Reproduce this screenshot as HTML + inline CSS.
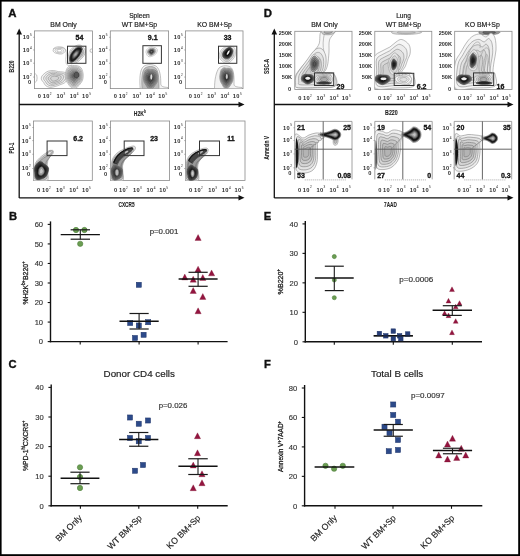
<!DOCTYPE html>
<html><head><meta charset="utf-8"><style>
html,body{margin:0;padding:0;background:#fff;}
body{width:520px;height:556px;overflow:hidden;}
svg{display:block;font-family:"Liberation Sans", sans-serif;will-change:transform;}
</style></head><body>
<svg width="520" height="556" viewBox="0 0 520 556">
<rect x="0" y="0" width="520" height="556" fill="#fff"/>
<text x="8.20" y="17.40" font-size="11.4" text-anchor="start" font-weight="bold" fill="#111" stroke="#111" stroke-width="0.35" >A</text>
<line x1="19.20" y1="32.50" x2="19.20" y2="198.00" stroke="#111" stroke-width="1.3" />
<polygon points="16.40,34.50 22.00,34.50 19.20,28.50" fill="#111"/>
<line x1="19.20" y1="104.50" x2="240.50" y2="104.50" stroke="#111" stroke-width="1.3" />
<polygon points="238.50,101.70 238.50,107.30 244.50,104.50" fill="#111"/>
<line x1="19.20" y1="197.80" x2="240.50" y2="197.80" stroke="#111" stroke-width="1.3" />
<polygon points="238.50,195.00 238.50,200.60 244.50,197.80" fill="#111"/>
<text x="63.50" y="26.70" font-size="6.9" text-anchor="middle" font-weight="normal" fill="#222" stroke="#222" stroke-width="0.18" >BM Only</text>
<text x="139.50" y="18.10" font-size="6.6" text-anchor="middle" font-weight="normal" fill="#222" stroke="#222" stroke-width="0.18" >Spleen</text>
<text x="139.50" y="26.70" font-size="6.9" text-anchor="middle" font-weight="normal" fill="#222" stroke="#222" stroke-width="0.18" >WT BM+Sp</text>
<text x="214.60" y="26.70" font-size="6.9" text-anchor="middle" font-weight="normal" fill="#222" stroke="#222" stroke-width="0.18" >KO BM+Sp</text>
<text x="14.20" y="72.40" font-size="7.9" text-anchor="start" textLength="12.0" lengthAdjust="spacingAndGlyphs" font-weight="bold" fill="#222" stroke="#222" stroke-width="0.1" transform="rotate(-90 14.20 72.40)">B220</text>
<text x="14.10" y="153.50" font-size="7.9" text-anchor="start" textLength="11.0" lengthAdjust="spacingAndGlyphs" font-weight="bold" fill="#222" stroke="#222" stroke-width="0.1" transform="rotate(-90 14.10 153.50)">PD-1</text>
<text x="133.80" y="115.80" font-size="7.7" font-weight="bold" textLength="12.0" lengthAdjust="spacingAndGlyphs" fill="#222" stroke="#222" stroke-width="0.1">H2K<tspan font-size="4.8" dy="-3">b</tspan></text>
<text x="118.60" y="206.60" font-size="7.7" font-weight="bold" textLength="15.9" lengthAdjust="spacingAndGlyphs" fill="#222" stroke="#222" stroke-width="0.1">CXCR5</text>
<rect x="34.40" y="30.90" width="58.00" height="57.70" stroke="#8a8a8a" stroke-width="0.8" fill="none"/>
<text x="29.70" y="39.15" font-size="5.7" text-anchor="end" letter-spacing="0.35" fill="#2e2e2e" font-weight="bold">10</text>
<text x="29.90" y="35.95" font-size="3.1" text-anchor="start" fill="#444" stroke="#444" stroke-width="0.05">5</text>
<line x1="33.20" y1="37.25" x2="34.40" y2="37.25" stroke="#777" stroke-width="0.6" />
<text x="29.70" y="51.84" font-size="5.7" text-anchor="end" letter-spacing="0.35" fill="#2e2e2e" font-weight="bold">10</text>
<text x="29.90" y="48.64" font-size="3.1" text-anchor="start" fill="#444" stroke="#444" stroke-width="0.05">4</text>
<line x1="33.20" y1="49.94" x2="34.40" y2="49.94" stroke="#777" stroke-width="0.6" />
<text x="29.70" y="65.11" font-size="5.7" text-anchor="end" letter-spacing="0.35" fill="#2e2e2e" font-weight="bold">10</text>
<text x="29.90" y="61.91" font-size="3.1" text-anchor="start" fill="#444" stroke="#444" stroke-width="0.05">3</text>
<line x1="33.20" y1="63.21" x2="34.40" y2="63.21" stroke="#777" stroke-width="0.6" />
<text x="29.70" y="78.96" font-size="5.7" text-anchor="end" letter-spacing="0.35" fill="#2e2e2e" font-weight="bold">10</text>
<text x="29.90" y="75.76" font-size="3.1" text-anchor="start" fill="#444" stroke="#444" stroke-width="0.05">2</text>
<line x1="33.20" y1="77.06" x2="34.40" y2="77.06" stroke="#777" stroke-width="0.6" />
<text x="31.10" y="84.15" font-size="5.7" text-anchor="end" fill="#2e2e2e" font-weight="bold">0</text>
<text x="39.39" y="98.40" font-size="5.7" text-anchor="middle" fill="#2e2e2e" font-weight="bold">0</text>
<text x="46.20" y="98.40" font-size="5.7" text-anchor="middle" letter-spacing="0.35" fill="#2e2e2e" font-weight="bold">10</text>
<text x="49.80" y="95.10" font-size="3.1" text-anchor="start" fill="#444" stroke="#444" stroke-width="0.05">2</text>
<text x="59.95" y="98.40" font-size="5.7" text-anchor="middle" letter-spacing="0.35" fill="#2e2e2e" font-weight="bold">10</text>
<text x="63.55" y="95.10" font-size="3.1" text-anchor="start" fill="#444" stroke="#444" stroke-width="0.05">3</text>
<text x="73.23" y="98.40" font-size="5.7" text-anchor="middle" letter-spacing="0.35" fill="#2e2e2e" font-weight="bold">10</text>
<text x="76.83" y="95.10" font-size="3.1" text-anchor="start" fill="#444" stroke="#444" stroke-width="0.05">4</text>
<text x="85.64" y="98.40" font-size="5.7" text-anchor="middle" letter-spacing="0.35" fill="#2e2e2e" font-weight="bold">10</text>
<text x="89.24" y="95.10" font-size="3.1" text-anchor="start" fill="#444" stroke="#444" stroke-width="0.05">5</text>
<rect x="110.30" y="30.90" width="58.30" height="57.70" stroke="#8a8a8a" stroke-width="0.8" fill="none"/>
<text x="105.60" y="39.15" font-size="5.7" text-anchor="end" letter-spacing="0.35" fill="#2e2e2e" font-weight="bold">10</text>
<text x="105.80" y="35.95" font-size="3.1" text-anchor="start" fill="#444" stroke="#444" stroke-width="0.05">5</text>
<line x1="109.10" y1="37.25" x2="110.30" y2="37.25" stroke="#777" stroke-width="0.6" />
<text x="105.60" y="51.84" font-size="5.7" text-anchor="end" letter-spacing="0.35" fill="#2e2e2e" font-weight="bold">10</text>
<text x="105.80" y="48.64" font-size="3.1" text-anchor="start" fill="#444" stroke="#444" stroke-width="0.05">4</text>
<line x1="109.10" y1="49.94" x2="110.30" y2="49.94" stroke="#777" stroke-width="0.6" />
<text x="105.60" y="65.11" font-size="5.7" text-anchor="end" letter-spacing="0.35" fill="#2e2e2e" font-weight="bold">10</text>
<text x="105.80" y="61.91" font-size="3.1" text-anchor="start" fill="#444" stroke="#444" stroke-width="0.05">3</text>
<line x1="109.10" y1="63.21" x2="110.30" y2="63.21" stroke="#777" stroke-width="0.6" />
<text x="105.60" y="78.96" font-size="5.7" text-anchor="end" letter-spacing="0.35" fill="#2e2e2e" font-weight="bold">10</text>
<text x="105.80" y="75.76" font-size="3.1" text-anchor="start" fill="#444" stroke="#444" stroke-width="0.05">2</text>
<line x1="109.10" y1="77.06" x2="110.30" y2="77.06" stroke="#777" stroke-width="0.6" />
<text x="107.00" y="84.15" font-size="5.7" text-anchor="end" fill="#2e2e2e" font-weight="bold">0</text>
<text x="115.31" y="98.40" font-size="5.7" text-anchor="middle" fill="#2e2e2e" font-weight="bold">0</text>
<text x="122.16" y="98.40" font-size="5.7" text-anchor="middle" letter-spacing="0.35" fill="#2e2e2e" font-weight="bold">10</text>
<text x="125.76" y="95.10" font-size="3.1" text-anchor="start" fill="#444" stroke="#444" stroke-width="0.05">2</text>
<text x="135.98" y="98.40" font-size="5.7" text-anchor="middle" letter-spacing="0.35" fill="#2e2e2e" font-weight="bold">10</text>
<text x="139.58" y="95.10" font-size="3.1" text-anchor="start" fill="#444" stroke="#444" stroke-width="0.05">3</text>
<text x="149.33" y="98.40" font-size="5.7" text-anchor="middle" letter-spacing="0.35" fill="#2e2e2e" font-weight="bold">10</text>
<text x="152.93" y="95.10" font-size="3.1" text-anchor="start" fill="#444" stroke="#444" stroke-width="0.05">4</text>
<text x="161.80" y="98.40" font-size="5.7" text-anchor="middle" letter-spacing="0.35" fill="#2e2e2e" font-weight="bold">10</text>
<text x="165.40" y="95.10" font-size="3.1" text-anchor="start" fill="#444" stroke="#444" stroke-width="0.05">5</text>
<rect x="185.40" y="30.90" width="57.60" height="57.70" stroke="#8a8a8a" stroke-width="0.8" fill="none"/>
<text x="180.70" y="39.15" font-size="5.7" text-anchor="end" letter-spacing="0.35" fill="#2e2e2e" font-weight="bold">10</text>
<text x="180.90" y="35.95" font-size="3.1" text-anchor="start" fill="#444" stroke="#444" stroke-width="0.05">5</text>
<line x1="184.20" y1="37.25" x2="185.40" y2="37.25" stroke="#777" stroke-width="0.6" />
<text x="180.70" y="51.84" font-size="5.7" text-anchor="end" letter-spacing="0.35" fill="#2e2e2e" font-weight="bold">10</text>
<text x="180.90" y="48.64" font-size="3.1" text-anchor="start" fill="#444" stroke="#444" stroke-width="0.05">4</text>
<line x1="184.20" y1="49.94" x2="185.40" y2="49.94" stroke="#777" stroke-width="0.6" />
<text x="180.70" y="65.11" font-size="5.7" text-anchor="end" letter-spacing="0.35" fill="#2e2e2e" font-weight="bold">10</text>
<text x="180.90" y="61.91" font-size="3.1" text-anchor="start" fill="#444" stroke="#444" stroke-width="0.05">3</text>
<line x1="184.20" y1="63.21" x2="185.40" y2="63.21" stroke="#777" stroke-width="0.6" />
<text x="180.70" y="78.96" font-size="5.7" text-anchor="end" letter-spacing="0.35" fill="#2e2e2e" font-weight="bold">10</text>
<text x="180.90" y="75.76" font-size="3.1" text-anchor="start" fill="#444" stroke="#444" stroke-width="0.05">2</text>
<line x1="184.20" y1="77.06" x2="185.40" y2="77.06" stroke="#777" stroke-width="0.6" />
<text x="182.10" y="84.15" font-size="5.7" text-anchor="end" fill="#2e2e2e" font-weight="bold">0</text>
<text x="190.35" y="98.40" font-size="5.7" text-anchor="middle" fill="#2e2e2e" font-weight="bold">0</text>
<text x="197.12" y="98.40" font-size="5.7" text-anchor="middle" letter-spacing="0.35" fill="#2e2e2e" font-weight="bold">10</text>
<text x="200.72" y="95.10" font-size="3.1" text-anchor="start" fill="#444" stroke="#444" stroke-width="0.05">2</text>
<text x="210.77" y="98.40" font-size="5.7" text-anchor="middle" letter-spacing="0.35" fill="#2e2e2e" font-weight="bold">10</text>
<text x="214.37" y="95.10" font-size="3.1" text-anchor="start" fill="#444" stroke="#444" stroke-width="0.05">3</text>
<text x="223.96" y="98.40" font-size="5.7" text-anchor="middle" letter-spacing="0.35" fill="#2e2e2e" font-weight="bold">10</text>
<text x="227.56" y="95.10" font-size="3.1" text-anchor="start" fill="#444" stroke="#444" stroke-width="0.05">4</text>
<text x="236.29" y="98.40" font-size="5.7" text-anchor="middle" letter-spacing="0.35" fill="#2e2e2e" font-weight="bold">10</text>
<text x="239.89" y="95.10" font-size="3.1" text-anchor="start" fill="#444" stroke="#444" stroke-width="0.05">5</text>
<rect x="33.50" y="121.00" width="58.80" height="59.40" stroke="#8a8a8a" stroke-width="0.8" fill="none"/>
<text x="28.80" y="129.43" font-size="5.7" text-anchor="end" letter-spacing="0.35" fill="#2e2e2e" font-weight="bold">10</text>
<text x="29.00" y="126.23" font-size="3.1" text-anchor="start" fill="#444" stroke="#444" stroke-width="0.05">5</text>
<line x1="32.30" y1="127.53" x2="33.50" y2="127.53" stroke="#777" stroke-width="0.6" />
<text x="28.80" y="142.50" font-size="5.7" text-anchor="end" letter-spacing="0.35" fill="#2e2e2e" font-weight="bold">10</text>
<text x="29.00" y="139.30" font-size="3.1" text-anchor="start" fill="#444" stroke="#444" stroke-width="0.05">4</text>
<line x1="32.30" y1="140.60" x2="33.50" y2="140.60" stroke="#777" stroke-width="0.6" />
<text x="28.80" y="156.16" font-size="5.7" text-anchor="end" letter-spacing="0.35" fill="#2e2e2e" font-weight="bold">10</text>
<text x="29.00" y="152.96" font-size="3.1" text-anchor="start" fill="#444" stroke="#444" stroke-width="0.05">3</text>
<line x1="32.30" y1="154.26" x2="33.50" y2="154.26" stroke="#777" stroke-width="0.6" />
<text x="28.80" y="170.42" font-size="5.7" text-anchor="end" letter-spacing="0.35" fill="#2e2e2e" font-weight="bold">10</text>
<text x="29.00" y="167.22" font-size="3.1" text-anchor="start" fill="#444" stroke="#444" stroke-width="0.05">2</text>
<line x1="32.30" y1="168.52" x2="33.50" y2="168.52" stroke="#777" stroke-width="0.6" />
<text x="30.20" y="175.77" font-size="5.7" text-anchor="end" fill="#2e2e2e" font-weight="bold">0</text>
<text x="38.56" y="192.00" font-size="5.7" text-anchor="middle" fill="#2e2e2e" font-weight="bold">0</text>
<text x="45.46" y="192.00" font-size="5.7" text-anchor="middle" letter-spacing="0.35" fill="#2e2e2e" font-weight="bold">10</text>
<text x="49.06" y="188.70" font-size="3.1" text-anchor="start" fill="#444" stroke="#444" stroke-width="0.05">2</text>
<text x="59.40" y="192.00" font-size="5.7" text-anchor="middle" letter-spacing="0.35" fill="#2e2e2e" font-weight="bold">10</text>
<text x="63.00" y="188.70" font-size="3.1" text-anchor="start" fill="#444" stroke="#444" stroke-width="0.05">3</text>
<text x="72.86" y="192.00" font-size="5.7" text-anchor="middle" letter-spacing="0.35" fill="#2e2e2e" font-weight="bold">10</text>
<text x="76.46" y="188.70" font-size="3.1" text-anchor="start" fill="#444" stroke="#444" stroke-width="0.05">4</text>
<text x="85.44" y="192.00" font-size="5.7" text-anchor="middle" letter-spacing="0.35" fill="#2e2e2e" font-weight="bold">10</text>
<text x="89.04" y="188.70" font-size="3.1" text-anchor="start" fill="#444" stroke="#444" stroke-width="0.05">5</text>
<rect x="110.40" y="121.00" width="59.20" height="59.40" stroke="#8a8a8a" stroke-width="0.8" fill="none"/>
<text x="105.70" y="129.43" font-size="5.7" text-anchor="end" letter-spacing="0.35" fill="#2e2e2e" font-weight="bold">10</text>
<text x="105.90" y="126.23" font-size="3.1" text-anchor="start" fill="#444" stroke="#444" stroke-width="0.05">5</text>
<line x1="109.20" y1="127.53" x2="110.40" y2="127.53" stroke="#777" stroke-width="0.6" />
<text x="105.70" y="142.50" font-size="5.7" text-anchor="end" letter-spacing="0.35" fill="#2e2e2e" font-weight="bold">10</text>
<text x="105.90" y="139.30" font-size="3.1" text-anchor="start" fill="#444" stroke="#444" stroke-width="0.05">4</text>
<line x1="109.20" y1="140.60" x2="110.40" y2="140.60" stroke="#777" stroke-width="0.6" />
<text x="105.70" y="156.16" font-size="5.7" text-anchor="end" letter-spacing="0.35" fill="#2e2e2e" font-weight="bold">10</text>
<text x="105.90" y="152.96" font-size="3.1" text-anchor="start" fill="#444" stroke="#444" stroke-width="0.05">3</text>
<line x1="109.20" y1="154.26" x2="110.40" y2="154.26" stroke="#777" stroke-width="0.6" />
<text x="105.70" y="170.42" font-size="5.7" text-anchor="end" letter-spacing="0.35" fill="#2e2e2e" font-weight="bold">10</text>
<text x="105.90" y="167.22" font-size="3.1" text-anchor="start" fill="#444" stroke="#444" stroke-width="0.05">2</text>
<line x1="109.20" y1="168.52" x2="110.40" y2="168.52" stroke="#777" stroke-width="0.6" />
<text x="107.10" y="175.77" font-size="5.7" text-anchor="end" fill="#2e2e2e" font-weight="bold">0</text>
<text x="115.49" y="192.00" font-size="5.7" text-anchor="middle" fill="#2e2e2e" font-weight="bold">0</text>
<text x="122.44" y="192.00" font-size="5.7" text-anchor="middle" letter-spacing="0.35" fill="#2e2e2e" font-weight="bold">10</text>
<text x="126.04" y="188.70" font-size="3.1" text-anchor="start" fill="#444" stroke="#444" stroke-width="0.05">2</text>
<text x="136.47" y="192.00" font-size="5.7" text-anchor="middle" letter-spacing="0.35" fill="#2e2e2e" font-weight="bold">10</text>
<text x="140.07" y="188.70" font-size="3.1" text-anchor="start" fill="#444" stroke="#444" stroke-width="0.05">3</text>
<text x="150.03" y="192.00" font-size="5.7" text-anchor="middle" letter-spacing="0.35" fill="#2e2e2e" font-weight="bold">10</text>
<text x="153.63" y="188.70" font-size="3.1" text-anchor="start" fill="#444" stroke="#444" stroke-width="0.05">4</text>
<text x="162.70" y="192.00" font-size="5.7" text-anchor="middle" letter-spacing="0.35" fill="#2e2e2e" font-weight="bold">10</text>
<text x="166.30" y="188.70" font-size="3.1" text-anchor="start" fill="#444" stroke="#444" stroke-width="0.05">5</text>
<rect x="185.40" y="121.00" width="59.60" height="59.40" stroke="#8a8a8a" stroke-width="0.8" fill="none"/>
<text x="180.70" y="129.43" font-size="5.7" text-anchor="end" letter-spacing="0.35" fill="#2e2e2e" font-weight="bold">10</text>
<text x="180.90" y="126.23" font-size="3.1" text-anchor="start" fill="#444" stroke="#444" stroke-width="0.05">5</text>
<line x1="184.20" y1="127.53" x2="185.40" y2="127.53" stroke="#777" stroke-width="0.6" />
<text x="180.70" y="142.50" font-size="5.7" text-anchor="end" letter-spacing="0.35" fill="#2e2e2e" font-weight="bold">10</text>
<text x="180.90" y="139.30" font-size="3.1" text-anchor="start" fill="#444" stroke="#444" stroke-width="0.05">4</text>
<line x1="184.20" y1="140.60" x2="185.40" y2="140.60" stroke="#777" stroke-width="0.6" />
<text x="180.70" y="156.16" font-size="5.7" text-anchor="end" letter-spacing="0.35" fill="#2e2e2e" font-weight="bold">10</text>
<text x="180.90" y="152.96" font-size="3.1" text-anchor="start" fill="#444" stroke="#444" stroke-width="0.05">3</text>
<line x1="184.20" y1="154.26" x2="185.40" y2="154.26" stroke="#777" stroke-width="0.6" />
<text x="180.70" y="170.42" font-size="5.7" text-anchor="end" letter-spacing="0.35" fill="#2e2e2e" font-weight="bold">10</text>
<text x="180.90" y="167.22" font-size="3.1" text-anchor="start" fill="#444" stroke="#444" stroke-width="0.05">2</text>
<line x1="184.20" y1="168.52" x2="185.40" y2="168.52" stroke="#777" stroke-width="0.6" />
<text x="182.10" y="175.77" font-size="5.7" text-anchor="end" fill="#2e2e2e" font-weight="bold">0</text>
<text x="190.53" y="192.00" font-size="5.7" text-anchor="middle" fill="#2e2e2e" font-weight="bold">0</text>
<text x="197.52" y="192.00" font-size="5.7" text-anchor="middle" letter-spacing="0.35" fill="#2e2e2e" font-weight="bold">10</text>
<text x="201.12" y="188.70" font-size="3.1" text-anchor="start" fill="#444" stroke="#444" stroke-width="0.05">2</text>
<text x="211.65" y="192.00" font-size="5.7" text-anchor="middle" letter-spacing="0.35" fill="#2e2e2e" font-weight="bold">10</text>
<text x="215.25" y="188.70" font-size="3.1" text-anchor="start" fill="#444" stroke="#444" stroke-width="0.05">3</text>
<text x="225.29" y="192.00" font-size="5.7" text-anchor="middle" letter-spacing="0.35" fill="#2e2e2e" font-weight="bold">10</text>
<text x="228.89" y="188.70" font-size="3.1" text-anchor="start" fill="#444" stroke="#444" stroke-width="0.05">4</text>
<text x="238.05" y="192.00" font-size="5.7" text-anchor="middle" letter-spacing="0.35" fill="#2e2e2e" font-weight="bold">10</text>
<text x="241.65" y="188.70" font-size="3.1" text-anchor="start" fill="#444" stroke="#444" stroke-width="0.05">5</text>
<clipPath id="c1"><rect x="34.40" y="30.90" width="58.00" height="57.70"/></clipPath><g clip-path="url(#c1)">
<path d="M68.41,77.04 C68.28,78.12 67.68,79.22 66.99,80.21 C66.31,81.20 65.48,82.24 64.31,83.00 C63.14,83.77 61.46,84.21 59.96,84.79 C58.47,85.37 57.07,86.04 55.34,86.47 C53.61,86.90 51.25,87.58 49.59,87.38 C47.93,87.18 46.37,86.11 45.38,85.29 C44.39,84.46 44.28,83.31 43.64,82.41 C43.01,81.50 41.91,80.81 41.56,79.86 C41.21,78.91 41.12,77.75 41.55,76.73 C41.98,75.71 43.04,74.67 44.14,73.75 C45.24,72.82 46.55,71.70 48.14,71.17 C49.73,70.64 51.97,70.49 53.67,70.56 C55.36,70.63 56.73,71.35 58.32,71.60 C59.90,71.85 61.60,71.69 63.19,72.04 C64.77,72.39 66.94,72.88 67.81,73.71 C68.68,74.54 68.55,75.95 68.41,77.04 Z" stroke="#999" stroke-width="0.6" fill="#f4f4f4"/>
<path d="M65.91,77.30 C65.80,78.19 65.31,79.09 64.75,79.90 C64.19,80.72 63.51,81.57 62.55,82.19 C61.58,82.82 60.20,83.19 58.98,83.66 C57.75,84.13 56.60,84.68 55.19,85.04 C53.77,85.39 51.83,85.94 50.47,85.78 C49.11,85.62 47.83,84.74 47.02,84.06 C46.21,83.38 46.12,82.45 45.60,81.70 C45.07,80.96 44.18,80.39 43.89,79.61 C43.61,78.84 43.53,77.88 43.88,77.05 C44.23,76.21 45.11,75.36 46.01,74.60 C46.91,73.84 47.98,72.93 49.28,72.49 C50.59,72.06 52.42,71.93 53.82,71.99 C55.21,72.05 56.33,72.64 57.63,72.84 C58.93,73.04 60.32,72.91 61.62,73.20 C62.92,73.49 64.70,73.89 65.41,74.57 C66.13,75.26 66.02,76.41 65.91,77.30 Z" stroke="#8c8c8c" stroke-width="0.6" fill="#ececec"/>
<path d="M63.54,77.55 C63.46,78.25 63.07,78.97 62.62,79.61 C62.18,80.26 61.64,80.93 60.88,81.43 C60.12,81.92 59.02,82.21 58.05,82.59 C57.08,82.97 56.17,83.40 55.04,83.68 C53.92,83.96 52.39,84.40 51.31,84.27 C50.23,84.14 49.22,83.45 48.57,82.91 C47.93,82.37 47.86,81.63 47.44,81.04 C47.03,80.45 46.32,80.00 46.09,79.38 C45.86,78.77 45.80,78.01 46.08,77.35 C46.36,76.69 47.05,76.01 47.77,75.41 C48.48,74.81 49.33,74.08 50.37,73.74 C51.40,73.39 52.85,73.29 53.96,73.34 C55.06,73.38 55.95,73.85 56.98,74.01 C58.01,74.18 59.12,74.07 60.15,74.30 C61.17,74.53 62.59,74.85 63.15,75.39 C63.72,75.93 63.63,76.85 63.54,77.55 Z" stroke="#888" stroke-width="0.6" fill="#e2e2e2"/>
<path d="M61.18,77.80 C61.11,78.32 60.83,78.84 60.50,79.32 C60.17,79.80 59.77,80.29 59.21,80.66 C58.65,81.03 57.84,81.24 57.12,81.52 C56.40,81.80 55.73,82.12 54.90,82.33 C54.07,82.53 52.94,82.86 52.14,82.76 C51.35,82.67 50.60,82.15 50.12,81.76 C49.65,81.36 49.59,80.81 49.29,80.38 C48.98,79.94 48.46,79.61 48.29,79.15 C48.12,78.70 48.08,78.14 48.28,77.65 C48.49,77.16 49.00,76.66 49.53,76.22 C50.06,75.77 50.69,75.24 51.45,74.98 C52.21,74.73 53.29,74.65 54.10,74.69 C54.91,74.72 55.57,75.07 56.33,75.19 C57.09,75.31 57.91,75.23 58.67,75.40 C59.43,75.57 60.47,75.80 60.89,76.20 C61.31,76.60 61.24,77.28 61.18,77.80 Z" stroke="#888" stroke-width="0.6" fill="#d8d8d8"/>
<path d="M58.67,78.06 C58.63,78.39 58.45,78.71 58.25,79.01 C58.04,79.31 57.80,79.62 57.44,79.85 C57.09,80.08 56.59,80.21 56.14,80.39 C55.69,80.56 55.27,80.76 54.75,80.89 C54.23,81.02 53.52,81.22 53.03,81.16 C52.53,81.10 52.06,80.78 51.76,80.54 C51.47,80.29 51.43,79.94 51.24,79.67 C51.05,79.40 50.72,79.19 50.62,78.91 C50.51,78.62 50.49,78.27 50.61,77.97 C50.74,77.66 51.06,77.35 51.39,77.07 C51.72,76.80 52.12,76.46 52.59,76.30 C53.07,76.14 53.74,76.10 54.25,76.12 C54.76,76.14 55.17,76.36 55.65,76.43 C56.12,76.50 56.63,76.46 57.11,76.56 C57.58,76.67 58.23,76.81 58.49,77.06 C58.75,77.31 58.72,77.74 58.67,78.06 Z" stroke="#8c8c8c" stroke-width="0.6" fill="#d4d4d4"/>
<path d="M53,49 C56,45.5 64,46 66,50 C67,54 65,58 66,63 C67,66 70,66 72,65" stroke="#aaa" stroke-width="0.6" fill="none"/>
<path d="M83.19,76.20 C83.14,77.68 82.90,79.26 82.41,80.54 C81.91,81.82 81.01,82.85 80.22,83.89 C79.42,84.92 78.63,85.97 77.62,86.76 C76.62,87.54 75.36,88.55 74.20,88.60 C73.04,88.65 71.68,87.85 70.68,87.06 C69.68,86.27 68.96,84.97 68.19,83.87 C67.43,82.78 66.59,81.77 66.09,80.49 C65.59,79.21 65.24,77.66 65.19,76.20 C65.14,74.74 65.39,73.17 65.78,71.74 C66.16,70.31 66.66,68.66 67.49,67.63 C68.32,66.59 69.62,65.85 70.73,65.51 C71.85,65.17 73.06,65.55 74.20,65.60 C75.34,65.65 76.45,65.48 77.57,65.81 C78.69,66.15 80.06,66.63 80.92,67.61 C81.78,68.59 82.35,70.26 82.72,71.69 C83.10,73.12 83.24,74.72 83.19,76.20 Z" stroke="#999999" stroke-width="0.6" fill="#f2f2f2"/>
<path d="M82.20,76.20 C82.15,77.51 81.94,78.92 81.50,80.07 C81.06,81.21 80.27,82.12 79.56,83.04 C78.85,83.97 78.14,84.90 77.25,85.60 C76.35,86.29 75.23,87.19 74.20,87.24 C73.17,87.28 71.96,86.57 71.07,85.87 C70.18,85.16 69.54,84.00 68.85,83.03 C68.17,82.06 67.43,81.16 66.98,80.02 C66.54,78.88 66.23,77.50 66.18,76.20 C66.13,74.90 66.36,73.50 66.70,72.23 C67.04,70.96 67.49,69.49 68.23,68.57 C68.96,67.64 70.12,66.98 71.12,66.68 C72.11,66.38 73.19,66.72 74.20,66.77 C75.21,66.81 76.20,66.66 77.20,66.95 C78.19,67.25 79.42,67.68 80.18,68.56 C80.95,69.43 81.45,70.91 81.79,72.19 C82.12,73.46 82.25,74.89 82.20,76.20 Z" stroke="#8e8e8e" stroke-width="0.6" fill="#e1e1e1"/>
<path d="M81.21,76.20 C81.17,77.35 80.99,78.59 80.60,79.59 C80.21,80.59 79.52,81.39 78.89,82.20 C78.27,83.01 77.65,83.82 76.87,84.43 C76.09,85.05 75.10,85.83 74.20,85.87 C73.30,85.91 72.23,85.29 71.45,84.67 C70.67,84.06 70.11,83.04 69.52,82.19 C68.92,81.33 68.27,80.54 67.88,79.55 C67.49,78.55 67.21,77.34 67.17,76.20 C67.13,75.06 67.33,73.84 67.63,72.72 C67.93,71.61 68.32,70.32 68.97,69.51 C69.61,68.70 70.62,68.12 71.50,67.86 C72.37,67.60 73.31,67.89 74.20,67.93 C75.09,67.97 75.95,67.84 76.83,68.10 C77.70,68.36 78.77,68.74 79.44,69.50 C80.11,70.26 80.55,71.56 80.85,72.68 C81.14,73.80 81.25,75.05 81.21,76.20 Z" stroke="#838383" stroke-width="0.6" fill="#d1d1d1"/>
<path d="M80.22,76.20 C80.19,77.19 80.03,78.25 79.70,79.11 C79.37,79.97 78.77,80.66 78.23,81.35 C77.70,82.05 77.16,82.75 76.49,83.27 C75.82,83.80 74.98,84.47 74.20,84.51 C73.42,84.54 72.51,84.00 71.84,83.48 C71.17,82.95 70.69,82.08 70.18,81.34 C69.66,80.61 69.10,79.93 68.77,79.07 C68.43,78.22 68.20,77.18 68.16,76.20 C68.13,75.22 68.30,74.17 68.56,73.21 C68.81,72.26 69.15,71.15 69.70,70.46 C70.26,69.76 71.13,69.26 71.88,69.04 C72.63,68.81 73.44,69.06 74.20,69.10 C74.96,69.13 75.71,69.01 76.46,69.24 C77.21,69.46 78.13,69.79 78.70,70.44 C79.28,71.10 79.66,72.22 79.91,73.18 C80.16,74.14 80.26,75.21 80.22,76.20 Z" stroke="#797979" stroke-width="0.6" fill="#c1c1c1"/>
<path d="M79.23,76.20 C79.20,77.03 79.07,77.91 78.79,78.63 C78.52,79.35 78.02,79.93 77.57,80.51 C77.12,81.09 76.68,81.67 76.12,82.11 C75.55,82.55 74.85,83.12 74.20,83.14 C73.55,83.17 72.79,82.72 72.23,82.28 C71.67,81.84 71.26,81.11 70.84,80.50 C70.41,79.88 69.94,79.32 69.66,78.60 C69.38,77.89 69.18,77.02 69.15,76.20 C69.12,75.38 69.27,74.50 69.48,73.70 C69.70,72.90 69.98,71.98 70.44,71.40 C70.91,70.82 71.63,70.40 72.26,70.21 C72.89,70.02 73.56,70.24 74.20,70.26 C74.84,70.29 75.46,70.19 76.09,70.38 C76.71,70.57 77.48,70.84 77.96,71.39 C78.45,71.94 78.76,72.87 78.97,73.67 C79.18,74.48 79.26,75.37 79.23,76.20 Z" stroke="#6e6e6e" stroke-width="0.6" fill="#b1b1b1"/>
<path d="M78.24,76.20 C78.22,76.86 78.12,77.58 77.89,78.15 C77.67,78.73 77.27,79.19 76.91,79.66 C76.55,80.13 76.19,80.60 75.74,80.95 C75.29,81.30 74.72,81.76 74.20,81.78 C73.68,81.80 73.07,81.44 72.62,81.09 C72.17,80.73 71.84,80.15 71.50,79.65 C71.15,79.16 70.78,78.71 70.55,78.13 C70.33,77.56 70.17,76.86 70.14,76.20 C70.12,75.54 70.24,74.84 70.41,74.19 C70.58,73.55 70.81,72.81 71.18,72.34 C71.55,71.87 72.14,71.54 72.64,71.39 C73.14,71.24 73.69,71.41 74.20,71.43 C74.71,71.45 75.21,71.37 75.72,71.52 C76.22,71.68 76.84,71.89 77.23,72.33 C77.61,72.78 77.87,73.53 78.04,74.17 C78.21,74.81 78.27,75.54 78.24,76.20 Z" stroke="#636363" stroke-width="0.6" fill="#a0a0a0"/>
<path d="M77.26,76.20 C77.24,76.70 77.16,77.24 76.99,77.68 C76.82,78.11 76.52,78.46 76.25,78.81 C75.97,79.17 75.70,79.52 75.36,79.79 C75.02,80.06 74.59,80.40 74.20,80.42 C73.81,80.43 73.34,80.16 73.00,79.89 C72.66,79.62 72.42,79.18 72.16,78.81 C71.90,78.44 71.61,78.09 71.44,77.66 C71.27,77.22 71.15,76.70 71.14,76.20 C71.12,75.70 71.21,75.17 71.34,74.68 C71.47,74.20 71.64,73.64 71.92,73.28 C72.20,72.93 72.64,72.68 73.02,72.56 C73.40,72.45 73.81,72.58 74.20,72.60 C74.59,72.61 74.96,72.55 75.35,72.67 C75.73,72.78 76.19,72.95 76.49,73.28 C76.78,73.61 76.97,74.18 77.10,74.67 C77.23,75.15 77.27,75.70 77.26,76.20 Z" stroke="#595959" stroke-width="0.6" fill="#909090"/>
<path d="M76.27,76.20 C76.26,76.54 76.20,76.90 76.09,77.20 C75.97,77.49 75.77,77.73 75.58,77.97 C75.40,78.21 75.22,78.45 74.99,78.63 C74.76,78.81 74.47,79.04 74.20,79.05 C73.93,79.06 73.62,78.88 73.39,78.70 C73.16,78.52 72.99,78.22 72.82,77.96 C72.64,77.71 72.45,77.48 72.34,77.19 C72.22,76.89 72.14,76.54 72.13,76.20 C72.12,75.86 72.17,75.50 72.26,75.17 C72.35,74.85 72.47,74.47 72.66,74.23 C72.85,73.99 73.15,73.82 73.40,73.74 C73.66,73.66 73.94,73.75 74.20,73.76 C74.46,73.77 74.72,73.73 74.97,73.81 C75.23,73.89 75.55,74.00 75.75,74.22 C75.94,74.45 76.07,74.83 76.16,75.16 C76.25,75.49 76.28,75.86 76.27,76.20 Z" stroke="#4e4e4e" stroke-width="0.6" fill="#808080"/>
<path d="M75.28,76.20 C75.27,76.38 75.24,76.57 75.18,76.72 C75.13,76.87 75.02,77.00 74.92,77.12 C74.83,77.25 74.73,77.37 74.61,77.47 C74.49,77.56 74.34,77.68 74.20,77.69 C74.06,77.69 73.90,77.60 73.78,77.50 C73.66,77.41 73.57,77.25 73.48,77.12 C73.39,76.99 73.29,76.87 73.23,76.71 C73.17,76.56 73.12,76.37 73.12,76.20 C73.11,76.03 73.14,75.84 73.19,75.66 C73.24,75.49 73.30,75.30 73.39,75.17 C73.49,75.05 73.65,74.96 73.78,74.92 C73.92,74.88 74.06,74.92 74.20,74.93 C74.34,74.93 74.47,74.91 74.60,74.95 C74.74,74.99 74.90,75.05 75.01,75.17 C75.11,75.29 75.18,75.49 75.22,75.66 C75.27,75.83 75.28,76.02 75.28,76.20 Z" stroke="#444444" stroke-width="0.6" fill="#707070"/>
<path d="M79.00,75.00 C79.00,75.38 78.93,75.79 78.81,76.15 C78.69,76.50 78.49,76.85 78.27,77.12 C78.04,77.39 77.75,77.63 77.46,77.77 C77.16,77.92 76.82,78.00 76.50,78.00 C76.18,78.00 75.84,77.92 75.54,77.77 C75.25,77.63 74.96,77.39 74.73,77.12 C74.51,76.85 74.31,76.50 74.19,76.15 C74.07,75.79 74.00,75.38 74.00,75.00 C74.00,74.62 74.07,74.21 74.19,73.85 C74.31,73.50 74.51,73.15 74.73,72.88 C74.96,72.61 75.25,72.37 75.54,72.23 C75.84,72.08 76.18,72.00 76.50,72.00 C76.82,72.00 77.16,72.08 77.46,72.23 C77.75,72.37 78.04,72.61 78.27,72.88 C78.49,73.15 78.69,73.50 78.81,73.85 C78.93,74.21 79.00,74.62 79.00,75.00 Z" stroke="#333" stroke-width="0.6" fill="#555"/>
<path d="M65.55,50.70 C65.48,51.10 65.09,51.48 64.78,51.85 C64.48,52.22 64.19,52.59 63.72,52.93 C63.25,53.27 62.67,53.71 61.95,53.88 C61.23,54.06 60.20,54.05 59.40,53.99 C58.60,53.93 57.85,53.69 57.14,53.51 C56.43,53.33 55.70,53.17 55.13,52.90 C54.56,52.64 54.05,52.28 53.72,51.91 C53.39,51.55 53.21,51.12 53.15,50.70 C53.08,50.28 53.03,49.78 53.33,49.40 C53.63,49.02 54.31,48.64 54.95,48.41 C55.60,48.17 56.47,48.11 57.21,47.97 C57.95,47.83 58.62,47.65 59.40,47.59 C60.18,47.53 61.14,47.47 61.89,47.60 C62.64,47.73 63.35,48.07 63.90,48.38 C64.45,48.69 64.90,49.08 65.18,49.47 C65.45,49.85 65.61,50.30 65.55,50.70 Z" stroke="#999" stroke-width="0.6" fill="none"/>
<path d="M63.70,50.70 C63.66,50.98 63.38,51.25 63.17,51.51 C62.96,51.77 62.76,52.02 62.43,52.26 C62.09,52.50 61.69,52.80 61.19,52.93 C60.68,53.05 59.96,53.05 59.40,53.00 C58.84,52.96 58.32,52.80 57.82,52.67 C57.32,52.54 56.81,52.43 56.41,52.24 C56.01,52.06 55.65,51.81 55.42,51.55 C55.19,51.29 55.07,50.99 55.02,50.70 C54.98,50.41 54.94,50.06 55.15,49.79 C55.36,49.52 55.83,49.26 56.29,49.09 C56.74,48.93 57.35,48.88 57.87,48.79 C58.39,48.69 58.85,48.57 59.40,48.52 C59.95,48.48 60.62,48.44 61.14,48.53 C61.67,48.62 62.16,48.86 62.55,49.08 C62.93,49.29 63.25,49.56 63.44,49.84 C63.64,50.11 63.75,50.42 63.70,50.70 Z" stroke="#999" stroke-width="0.6" fill="none"/>
<path d="M61.86,50.70 C61.83,50.86 61.68,51.01 61.55,51.16 C61.43,51.31 61.32,51.46 61.13,51.59 C60.94,51.73 60.71,51.90 60.42,51.97 C60.13,52.04 59.72,52.04 59.40,52.02 C59.08,51.99 58.78,51.90 58.50,51.83 C58.21,51.75 57.92,51.69 57.69,51.58 C57.46,51.48 57.26,51.33 57.13,51.19 C57.00,51.04 56.93,50.87 56.90,50.70 C56.87,50.53 56.85,50.33 56.97,50.18 C57.09,50.03 57.36,49.88 57.62,49.78 C57.88,49.69 58.23,49.66 58.52,49.61 C58.82,49.55 59.09,49.48 59.40,49.46 C59.71,49.43 60.09,49.41 60.39,49.46 C60.69,49.51 60.98,49.65 61.20,49.77 C61.42,49.90 61.60,50.05 61.71,50.21 C61.82,50.36 61.89,50.54 61.86,50.70 Z" stroke="#999" stroke-width="0.6" fill="none"/>
<path d="M82.62,46.77 C83.27,47.37 83.92,47.91 84.40,48.72 C84.88,49.52 85.54,50.49 85.49,51.61 C85.44,52.73 84.76,54.25 84.09,55.41 C83.42,56.58 82.36,57.63 81.45,58.62 C80.54,59.61 79.63,60.62 78.61,61.35 C77.59,62.09 76.42,62.66 75.34,63.01 C74.25,63.37 73.14,63.50 72.11,63.47 C71.07,63.45 69.83,63.42 69.12,62.86 C68.40,62.30 67.95,61.18 67.83,60.14 C67.70,59.10 68.17,57.77 68.36,56.62 C68.56,55.48 68.62,54.42 69.01,53.26 C69.41,52.09 69.92,50.69 70.73,49.62 C71.54,48.56 72.77,47.61 73.87,46.88 C74.96,46.16 76.20,45.56 77.30,45.27 C78.40,44.99 79.59,44.91 80.48,45.16 C81.36,45.41 81.96,46.18 82.62,46.77 Z" stroke="#999" stroke-width="0.6" fill="#ececec"/>
<path d="M81.48,48.13 C82.02,48.61 82.55,49.06 82.94,49.72 C83.34,50.38 83.88,51.18 83.84,52.09 C83.79,53.01 83.24,54.26 82.69,55.21 C82.13,56.17 81.27,57.03 80.52,57.84 C79.78,58.66 79.03,59.48 78.20,60.08 C77.36,60.68 76.40,61.16 75.51,61.44 C74.62,61.73 73.71,61.84 72.86,61.82 C72.01,61.80 70.99,61.78 70.41,61.32 C69.82,60.86 69.46,59.94 69.35,59.09 C69.25,58.23 69.63,57.14 69.79,56.20 C69.95,55.26 70.00,54.40 70.33,53.44 C70.65,52.49 71.07,51.34 71.73,50.47 C72.39,49.59 73.41,48.81 74.31,48.22 C75.20,47.62 76.22,47.13 77.12,46.90 C78.02,46.66 79.00,46.60 79.72,46.81 C80.45,47.01 80.94,47.64 81.48,48.13 Z" stroke="#888" stroke-width="0.6" fill="#d8d8d8"/>
<path d="M80.47,49.33 C80.90,49.72 81.33,50.08 81.65,50.62 C81.96,51.15 82.40,51.79 82.37,52.52 C82.33,53.26 81.89,54.26 81.44,55.04 C81.00,55.81 80.30,56.50 79.70,57.15 C79.10,57.81 78.50,58.47 77.83,58.96 C77.15,59.44 76.38,59.82 75.66,60.05 C74.95,60.28 74.22,60.37 73.53,60.35 C72.85,60.34 72.03,60.32 71.56,59.95 C71.09,59.58 70.79,58.84 70.71,58.15 C70.63,57.47 70.93,56.59 71.06,55.83 C71.19,55.08 71.23,54.38 71.49,53.61 C71.75,52.84 72.09,51.91 72.62,51.21 C73.16,50.51 73.97,49.88 74.70,49.41 C75.42,48.93 76.23,48.53 76.96,48.34 C77.69,48.15 78.47,48.11 79.06,48.27 C79.64,48.44 80.04,48.94 80.47,49.33 Z" stroke="#777" stroke-width="0.6" fill="#c4c4c4"/>
<path d="M81.00,47.13 C81.49,47.31 82.10,47.50 82.25,48.09 C82.40,48.68 82.20,49.73 81.90,50.66 C81.60,51.59 81.02,52.68 80.48,53.67 C79.94,54.66 79.35,55.69 78.66,56.60 C77.97,57.52 77.14,58.42 76.34,59.18 C75.55,59.93 74.71,60.59 73.89,61.13 C73.08,61.66 72.13,62.28 71.47,62.40 C70.81,62.51 70.23,62.25 69.93,61.82 C69.63,61.40 69.68,60.55 69.64,59.87 C69.59,59.18 69.52,58.55 69.67,57.73 C69.81,56.91 70.02,55.93 70.48,54.96 C70.94,53.99 71.71,52.87 72.43,51.91 C73.15,50.95 74.01,49.96 74.83,49.22 C75.64,48.47 76.57,47.78 77.32,47.42 C78.07,47.05 78.70,47.07 79.31,47.03 C79.93,46.98 80.51,46.95 81.00,47.13 Z" stroke="#333" stroke-width="0.6" fill="#666"/>
<path d="M80.19,48.20 C80.61,48.36 81.13,48.52 81.26,49.02 C81.38,49.52 81.21,50.41 80.96,51.20 C80.70,52.00 80.20,52.92 79.74,53.77 C79.29,54.61 78.78,55.48 78.20,56.26 C77.61,57.04 76.91,57.80 76.23,58.44 C75.56,59.09 74.84,59.65 74.15,60.10 C73.46,60.56 72.65,61.08 72.09,61.18 C71.53,61.28 71.04,61.05 70.78,60.70 C70.52,60.34 70.57,59.61 70.53,59.03 C70.50,58.45 70.44,57.91 70.56,57.22 C70.68,56.52 70.86,55.68 71.25,54.86 C71.64,54.04 72.29,53.08 72.90,52.27 C73.52,51.46 74.25,50.62 74.94,49.98 C75.63,49.34 76.43,48.76 77.06,48.45 C77.70,48.14 78.23,48.16 78.76,48.12 C79.28,48.08 79.78,48.05 80.19,48.20 Z" stroke="#111" stroke-width="0.6" fill="#1a1a1a"/>
<path d="M79.27,49.42 C79.61,49.54 80.02,49.68 80.12,50.08 C80.23,50.48 80.09,51.19 79.88,51.82 C79.68,52.46 79.28,53.20 78.92,53.87 C78.55,54.55 78.15,55.24 77.68,55.87 C77.21,56.49 76.65,57.10 76.11,57.62 C75.57,58.13 74.99,58.58 74.44,58.94 C73.89,59.31 73.24,59.73 72.79,59.81 C72.34,59.89 71.95,59.70 71.74,59.42 C71.54,59.13 71.58,58.55 71.55,58.09 C71.52,57.62 71.47,57.19 71.56,56.63 C71.66,56.08 71.81,55.41 72.12,54.75 C72.43,54.09 72.95,53.33 73.44,52.68 C73.94,52.02 74.52,51.35 75.07,50.84 C75.63,50.33 76.26,49.87 76.77,49.62 C77.28,49.37 77.71,49.39 78.13,49.35 C78.54,49.32 78.94,49.30 79.27,49.42 Z" stroke="#1a1a1a" stroke-width="0.6" fill="#333"/>
<path d="M78.30,50.71 C78.55,50.80 78.85,50.90 78.93,51.19 C79.00,51.49 78.90,52.01 78.75,52.48 C78.60,52.94 78.31,53.49 78.04,53.99 C77.77,54.48 77.47,54.99 77.13,55.45 C76.78,55.91 76.37,56.36 75.97,56.74 C75.57,57.11 75.15,57.44 74.75,57.71 C74.34,57.98 73.86,58.29 73.53,58.35 C73.20,58.41 72.92,58.27 72.77,58.06 C72.61,57.85 72.64,57.42 72.62,57.08 C72.60,56.74 72.56,56.42 72.63,56.02 C72.70,55.61 72.81,55.11 73.04,54.63 C73.27,54.14 73.65,53.58 74.01,53.11 C74.38,52.63 74.81,52.13 75.21,51.76 C75.62,51.38 76.09,51.04 76.46,50.86 C76.83,50.68 77.15,50.69 77.46,50.66 C77.76,50.64 78.06,50.63 78.30,50.71 Z" stroke="#444" stroke-width="0.6" fill="#666"/>
<path d="M77.33,52.01 C77.49,52.06 77.68,52.12 77.73,52.31 C77.78,52.50 77.71,52.84 77.62,53.13 C77.52,53.43 77.33,53.78 77.16,54.10 C76.99,54.42 76.80,54.74 76.58,55.04 C76.36,55.33 76.09,55.62 75.84,55.86 C75.58,56.10 75.31,56.31 75.05,56.48 C74.79,56.66 74.49,56.85 74.28,56.89 C74.07,56.93 73.88,56.84 73.79,56.71 C73.69,56.57 73.71,56.30 73.69,56.08 C73.68,55.86 73.66,55.66 73.70,55.40 C73.75,55.14 73.82,54.82 73.96,54.51 C74.11,54.20 74.35,53.84 74.59,53.54 C74.82,53.23 75.09,52.91 75.35,52.67 C75.61,52.43 75.91,52.21 76.15,52.10 C76.39,51.98 76.59,51.99 76.79,51.97 C76.98,51.96 77.17,51.95 77.33,52.01 Z" stroke="#777" stroke-width="0.6" fill="#999"/>
<path d="M76.46,53.15 C76.54,53.18 76.64,53.21 76.66,53.31 C76.69,53.40 76.66,53.57 76.61,53.72 C76.56,53.87 76.47,54.04 76.38,54.20 C76.29,54.36 76.20,54.52 76.09,54.67 C75.98,54.82 75.85,54.96 75.72,55.08 C75.59,55.20 75.46,55.31 75.33,55.39 C75.20,55.48 75.04,55.58 74.94,55.60 C74.83,55.61 74.74,55.57 74.69,55.50 C74.64,55.44 74.65,55.30 74.65,55.19 C74.64,55.08 74.63,54.98 74.65,54.85 C74.67,54.72 74.71,54.56 74.78,54.41 C74.86,54.25 74.98,54.07 75.09,53.92 C75.21,53.76 75.35,53.61 75.48,53.49 C75.61,53.37 75.76,53.26 75.88,53.20 C75.99,53.14 76.10,53.14 76.19,53.14 C76.29,53.13 76.39,53.12 76.46,53.15 Z" stroke="#999" stroke-width="0.6" fill="#bbb"/>
<ellipse cx="35.50" cy="78.00" rx="1.60" ry="4.00" transform="rotate(0 35.50 78.00)" stroke="#999" stroke-width="0.6" fill="none" fill-opacity="1"/>
<ellipse cx="91.30" cy="50.70" rx="1.20" ry="1.80" transform="rotate(0 91.30 50.70)" stroke="#999" stroke-width="0.6" fill="none" fill-opacity="1"/>
</g>
<rect x="67.50" y="46.20" width="18.40" height="17.10" stroke="#333" stroke-width="1.0" fill="none"/>
<text x="83.30" y="39.80" font-size="7" text-anchor="end" font-weight="bold" fill="#111" stroke="#111" stroke-width="0.3" >54</text>
<clipPath id="c2"><rect x="110.30" y="30.90" width="58.30" height="57.70"/></clipPath><g clip-path="url(#c2)">
<path d="M157.12,49.08 C157.39,49.60 157.31,50.38 157.21,51.02 C157.10,51.65 156.81,52.30 156.48,52.89 C156.16,53.48 155.75,54.09 155.23,54.56 C154.71,55.03 154.03,55.38 153.37,55.70 C152.71,56.03 152.01,56.36 151.28,56.53 C150.55,56.70 149.63,56.90 148.98,56.74 C148.32,56.59 147.75,56.05 147.36,55.59 C146.96,55.13 146.83,54.52 146.61,53.98 C146.38,53.44 146.06,52.94 146.01,52.36 C145.96,51.77 146.03,51.06 146.30,50.46 C146.57,49.86 147.09,49.25 147.62,48.73 C148.15,48.21 148.80,47.66 149.48,47.37 C150.16,47.07 151.02,46.95 151.71,46.95 C152.41,46.95 153.02,47.23 153.66,47.38 C154.31,47.53 155.00,47.59 155.58,47.87 C156.16,48.15 156.85,48.55 157.12,49.08 Z" stroke="#aaa" stroke-width="0.6" fill="none"/>
<path d="M155.72,49.73 C155.92,50.13 155.86,50.71 155.78,51.19 C155.70,51.66 155.48,52.15 155.24,52.59 C154.99,53.03 154.69,53.49 154.30,53.84 C153.91,54.20 153.39,54.46 152.90,54.70 C152.41,54.95 151.89,55.19 151.34,55.32 C150.79,55.45 150.10,55.60 149.61,55.48 C149.12,55.36 148.69,54.96 148.39,54.62 C148.10,54.27 148.00,53.82 147.83,53.41 C147.66,53.01 147.42,52.63 147.38,52.19 C147.34,51.75 147.40,51.22 147.60,50.77 C147.80,50.32 148.19,49.86 148.59,49.47 C148.99,49.09 149.47,48.67 149.98,48.45 C150.50,48.23 151.14,48.14 151.66,48.14 C152.18,48.14 152.64,48.34 153.12,48.46 C153.60,48.57 154.13,48.62 154.56,48.83 C154.99,49.04 155.51,49.34 155.72,49.73 Z" stroke="#888" stroke-width="0.6" fill="#eee"/>
<path d="M154.84,50.14 C154.97,50.52 154.99,50.94 154.96,51.34 C154.93,51.74 154.84,52.17 154.65,52.53 C154.46,52.90 154.12,53.22 153.80,53.54 C153.49,53.85 153.17,54.17 152.77,54.42 C152.37,54.67 151.87,54.98 151.42,55.04 C150.97,55.09 150.45,54.92 150.07,54.74 C149.69,54.57 149.42,54.25 149.13,53.99 C148.84,53.73 148.51,53.51 148.31,53.19 C148.12,52.87 147.97,52.46 147.96,52.07 C147.95,51.68 148.07,51.24 148.24,50.84 C148.41,50.44 148.63,49.99 148.97,49.68 C149.30,49.37 149.80,49.12 150.23,48.98 C150.67,48.85 151.13,48.89 151.57,48.85 C152.01,48.81 152.45,48.71 152.89,48.75 C153.33,48.79 153.86,48.87 154.19,49.10 C154.51,49.33 154.71,49.77 154.84,50.14 Z" stroke="#777" stroke-width="0.6" fill="#ccc"/>
<path d="M154.17,50.46 C154.27,50.75 154.29,51.09 154.27,51.41 C154.24,51.73 154.17,52.07 154.02,52.37 C153.87,52.66 153.59,52.92 153.34,53.17 C153.09,53.42 152.83,53.68 152.52,53.88 C152.20,54.08 151.79,54.33 151.43,54.37 C151.07,54.41 150.66,54.27 150.35,54.14 C150.05,54.00 149.84,53.74 149.61,53.53 C149.37,53.33 149.11,53.15 148.95,52.89 C148.79,52.63 148.68,52.31 148.67,52.00 C148.66,51.68 148.76,51.33 148.89,51.01 C149.03,50.69 149.21,50.33 149.47,50.08 C149.74,49.84 150.14,49.64 150.49,49.53 C150.83,49.42 151.20,49.45 151.56,49.42 C151.91,49.39 152.26,49.30 152.61,49.34 C152.96,49.37 153.39,49.43 153.65,49.62 C153.91,49.81 154.07,50.16 154.17,50.46 Z" stroke="#555" stroke-width="0.6" fill="#999"/>
<path d="M153.50,50.77 C153.58,50.99 153.59,51.24 153.58,51.48 C153.56,51.72 153.51,51.98 153.39,52.20 C153.27,52.42 153.07,52.61 152.88,52.80 C152.69,52.99 152.50,53.18 152.26,53.33 C152.02,53.48 151.72,53.67 151.45,53.70 C151.18,53.73 150.87,53.63 150.64,53.53 C150.41,53.42 150.25,53.23 150.08,53.07 C149.90,52.92 149.70,52.78 149.59,52.59 C149.47,52.40 149.38,52.16 149.38,51.92 C149.37,51.69 149.44,51.42 149.55,51.18 C149.65,50.94 149.78,50.67 149.98,50.49 C150.18,50.30 150.48,50.15 150.74,50.07 C151.00,49.99 151.28,50.01 151.54,49.99 C151.81,49.97 152.07,49.90 152.33,49.93 C152.60,49.95 152.92,50.00 153.11,50.14 C153.31,50.28 153.43,50.54 153.50,50.77 Z" stroke="#333" stroke-width="0.6" fill="#666"/>
<path d="M152.83,51.08 C152.89,51.23 152.90,51.40 152.88,51.56 C152.87,51.71 152.84,51.89 152.76,52.03 C152.68,52.18 152.55,52.31 152.42,52.44 C152.30,52.56 152.17,52.69 152.01,52.79 C151.85,52.89 151.65,53.01 151.47,53.03 C151.29,53.06 151.08,52.99 150.93,52.92 C150.77,52.85 150.67,52.72 150.55,52.62 C150.44,52.51 150.30,52.42 150.22,52.29 C150.15,52.17 150.09,52.00 150.08,51.85 C150.08,51.69 150.13,51.51 150.20,51.36 C150.26,51.20 150.35,51.02 150.49,50.89 C150.62,50.77 150.82,50.67 150.99,50.61 C151.17,50.56 151.35,50.58 151.53,50.56 C151.71,50.54 151.88,50.50 152.06,50.52 C152.23,50.54 152.45,50.57 152.58,50.66 C152.71,50.75 152.78,50.93 152.83,51.08 Z" stroke="#222" stroke-width="0.6" fill="#444"/>
<path d="M152.17,51.39 C152.19,51.46 152.20,51.55 152.19,51.63 C152.19,51.71 152.17,51.79 152.13,51.87 C152.09,51.94 152.02,52.00 151.96,52.07 C151.90,52.13 151.83,52.19 151.75,52.24 C151.67,52.29 151.57,52.36 151.48,52.37 C151.39,52.38 151.29,52.34 151.21,52.31 C151.14,52.27 151.08,52.21 151.03,52.16 C150.97,52.11 150.90,52.06 150.86,52.00 C150.82,51.93 150.79,51.85 150.79,51.77 C150.79,51.70 150.81,51.61 150.85,51.53 C150.88,51.45 150.93,51.36 150.99,51.30 C151.06,51.23 151.16,51.18 151.25,51.16 C151.33,51.13 151.43,51.14 151.51,51.13 C151.60,51.12 151.69,51.10 151.78,51.11 C151.87,51.12 151.97,51.13 152.04,51.18 C152.10,51.23 152.14,51.31 152.17,51.39 Z" stroke="#555" stroke-width="0.6" fill="#888"/>
<path d="M140.2,88.5 C139.5,80 139.5,70 143.5,66.5 C147,63.8 153,64 156.5,66.5 C160,69.5 160.8,76 160.8,84 C161,86.5 163,87 168,87.5 L168,89 Z" stroke="#999" stroke-width="0.6" fill="#f4f4f4"/>
<path d="M142,88.5 C141.5,80 141.5,71 145,68 C148,66 153,66 155.5,68 C158.5,71 159,77 159,88.5 Z" stroke="#888" stroke-width="0.6" fill="#bdbdbd"/>
<path d="M157.79,78.50 C157.73,79.79 157.54,81.17 157.13,82.26 C156.71,83.34 155.94,84.13 155.30,85.03 C154.67,85.93 154.11,86.90 153.33,87.66 C152.55,88.42 151.53,89.53 150.60,89.60 C149.67,89.66 148.54,88.79 147.76,88.03 C146.98,87.26 146.51,85.99 145.91,85.01 C145.31,84.04 144.60,83.28 144.18,82.19 C143.76,81.11 143.45,79.77 143.39,78.50 C143.33,77.23 143.54,75.87 143.83,74.60 C144.11,73.33 144.45,71.79 145.12,70.89 C145.79,69.99 146.91,69.39 147.82,69.18 C148.73,68.96 149.69,69.53 150.60,69.60 C151.51,69.66 152.35,69.34 153.27,69.55 C154.19,69.76 155.39,70.04 156.09,70.87 C156.80,71.70 157.20,73.27 157.49,74.54 C157.77,75.81 157.85,77.21 157.79,78.50 Z" stroke="#777777" stroke-width="0.6" fill="#a8a8a8"/>
<path d="M156.89,78.50 C156.84,79.63 156.67,80.83 156.31,81.79 C155.95,82.74 155.27,83.43 154.72,84.22 C154.16,85.00 153.68,85.85 152.99,86.51 C152.30,87.18 151.41,88.16 150.60,88.21 C149.79,88.26 148.80,87.50 148.11,86.83 C147.43,86.17 147.02,85.05 146.50,84.20 C145.97,83.35 145.35,82.68 144.98,81.73 C144.62,80.78 144.34,79.61 144.29,78.50 C144.24,77.39 144.42,76.20 144.67,75.09 C144.92,73.98 145.22,72.63 145.81,71.84 C146.39,71.05 147.37,70.53 148.17,70.34 C148.97,70.16 149.81,70.66 150.60,70.71 C151.39,70.76 152.14,70.48 152.94,70.67 C153.74,70.85 154.79,71.10 155.41,71.83 C156.02,72.55 156.38,73.92 156.62,75.03 C156.87,76.15 156.94,77.37 156.89,78.50 Z" stroke="#686868" stroke-width="0.6" fill="#9a9a9a"/>
<path d="M155.99,78.50 C155.95,79.46 155.81,80.50 155.50,81.32 C155.19,82.13 154.60,82.72 154.13,83.40 C153.65,84.07 153.24,84.80 152.65,85.37 C152.06,85.94 151.30,86.78 150.60,86.82 C149.90,86.87 149.06,86.22 148.47,85.64 C147.88,85.07 147.53,84.11 147.08,83.39 C146.64,82.66 146.10,82.08 145.79,81.27 C145.47,80.46 145.23,79.45 145.19,78.50 C145.15,77.55 145.30,76.53 145.52,75.58 C145.74,74.63 145.99,73.47 146.49,72.79 C146.99,72.11 147.83,71.67 148.52,71.51 C149.20,71.35 149.92,71.78 150.60,71.82 C151.28,71.87 151.92,71.63 152.60,71.79 C153.29,71.95 154.19,72.15 154.72,72.78 C155.25,73.40 155.55,74.58 155.76,75.53 C155.98,76.48 156.03,77.54 155.99,78.50 Z" stroke="#5a5a5a" stroke-width="0.6" fill="#8c8c8c"/>
<path d="M155.09,78.50 C155.05,79.30 154.94,80.17 154.68,80.85 C154.42,81.53 153.94,82.02 153.54,82.58 C153.14,83.15 152.80,83.75 152.31,84.22 C151.82,84.70 151.18,85.40 150.60,85.44 C150.02,85.47 149.31,84.93 148.82,84.45 C148.34,83.98 148.04,83.18 147.67,82.57 C147.30,81.96 146.85,81.49 146.59,80.81 C146.33,80.13 146.13,79.29 146.09,78.50 C146.05,77.71 146.18,76.86 146.37,76.06 C146.55,75.27 146.76,74.31 147.18,73.74 C147.59,73.18 148.29,72.81 148.86,72.67 C149.43,72.54 150.03,72.90 150.60,72.94 C151.17,72.97 151.70,72.77 152.27,72.91 C152.84,73.04 153.59,73.21 154.03,73.73 C154.47,74.25 154.73,75.23 154.90,76.02 C155.08,76.82 155.13,77.70 155.09,78.50 Z" stroke="#4c4c4c" stroke-width="0.6" fill="#7e7e7e"/>
<path d="M154.19,78.50 C154.16,79.14 154.07,79.83 153.86,80.38 C153.66,80.92 153.27,81.32 152.95,81.77 C152.64,82.22 152.36,82.70 151.97,83.08 C151.57,83.46 151.06,84.02 150.60,84.05 C150.14,84.08 149.57,83.64 149.18,83.26 C148.79,82.88 148.55,82.24 148.26,81.76 C147.96,81.27 147.60,80.89 147.39,80.35 C147.18,79.80 147.02,79.13 146.99,78.50 C146.96,77.87 147.07,77.19 147.21,76.55 C147.36,75.92 147.53,75.15 147.86,74.70 C148.19,74.24 148.75,73.95 149.21,73.84 C149.67,73.73 150.15,74.02 150.60,74.05 C151.05,74.08 151.48,73.92 151.93,74.02 C152.39,74.13 152.99,74.27 153.35,74.69 C153.70,75.10 153.90,75.88 154.04,76.52 C154.18,77.16 154.22,77.86 154.19,78.50 Z" stroke="#3e3e3e" stroke-width="0.6" fill="#707070"/>
<path d="M153.29,78.50 C153.27,78.98 153.20,79.50 153.05,79.91 C152.89,80.32 152.60,80.61 152.36,80.95 C152.13,81.29 151.92,81.65 151.62,81.93 C151.33,82.22 150.95,82.64 150.60,82.66 C150.25,82.68 149.83,82.36 149.53,82.07 C149.24,81.79 149.06,81.31 148.84,80.94 C148.62,80.58 148.35,80.29 148.19,79.88 C148.04,79.48 147.92,78.97 147.89,78.50 C147.87,78.03 147.95,77.51 148.06,77.04 C148.17,76.56 148.30,75.99 148.55,75.65 C148.80,75.31 149.22,75.09 149.56,75.00 C149.90,74.92 150.26,75.14 150.60,75.16 C150.94,75.18 151.26,75.06 151.60,75.14 C151.94,75.22 152.40,75.33 152.66,75.64 C152.92,75.95 153.08,76.54 153.18,77.01 C153.29,77.49 153.32,78.02 153.29,78.50 Z" stroke="#303030" stroke-width="0.6" fill="#626262"/>
<path d="M152.40,78.50 C152.38,78.82 152.34,79.17 152.23,79.44 C152.13,79.71 151.93,79.91 151.78,80.13 C151.62,80.36 151.48,80.60 151.28,80.79 C151.09,80.98 150.83,81.26 150.60,81.27 C150.37,81.29 150.09,81.07 149.89,80.88 C149.69,80.69 149.58,80.37 149.43,80.13 C149.28,79.89 149.10,79.69 149.00,79.42 C148.89,79.15 148.81,78.82 148.80,78.50 C148.78,78.18 148.83,77.84 148.91,77.53 C148.98,77.21 149.06,76.82 149.23,76.60 C149.40,76.37 149.68,76.22 149.91,76.17 C150.13,76.12 150.37,76.26 150.60,76.27 C150.83,76.29 151.04,76.21 151.27,76.26 C151.50,76.32 151.80,76.38 151.97,76.59 C152.15,76.80 152.25,77.19 152.32,77.51 C152.39,77.83 152.41,78.18 152.40,78.50 Z" stroke="#222222" stroke-width="0.6" fill="#555555"/>
<path d="M152.30,76.80 C152.30,77.13 152.27,77.49 152.22,77.79 C152.18,78.10 152.10,78.40 152.01,78.64 C151.92,78.87 151.80,79.08 151.68,79.20 C151.56,79.33 151.43,79.40 151.30,79.40 C151.17,79.40 151.04,79.33 150.92,79.20 C150.80,79.08 150.68,78.87 150.59,78.64 C150.50,78.40 150.42,78.10 150.38,77.79 C150.33,77.49 150.30,77.13 150.30,76.80 C150.30,76.47 150.33,76.11 150.38,75.81 C150.42,75.50 150.50,75.20 150.59,74.96 C150.68,74.73 150.80,74.52 150.92,74.40 C151.04,74.27 151.17,74.20 151.30,74.20 C151.43,74.20 151.56,74.27 151.68,74.40 C151.80,74.52 151.92,74.73 152.01,74.96 C152.10,75.20 152.18,75.50 152.22,75.81 C152.27,76.11 152.30,76.47 152.30,76.80 Z" stroke="none" stroke-width="0.6" fill="#ddd"/>
</g>
<rect x="142.90" y="45.70" width="18.50" height="17.60" stroke="#333" stroke-width="1.0" fill="none"/>
<text x="157.60" y="39.80" font-size="7" text-anchor="end" font-weight="bold" fill="#111" stroke="#111" stroke-width="0.3" >9.1</text>
<clipPath id="c3"><rect x="185.40" y="30.90" width="57.60" height="57.70"/></clipPath><g clip-path="url(#c3)">
<path d="M233.69,47.13 C234.45,47.72 234.89,48.90 235.19,49.89 C235.49,50.88 235.53,52.00 235.48,53.06 C235.43,54.13 235.29,55.27 234.88,56.28 C234.47,57.29 233.73,58.24 233.02,59.13 C232.31,60.03 231.54,60.93 230.62,61.65 C229.69,62.36 228.52,63.23 227.47,63.42 C226.42,63.61 225.22,63.20 224.33,62.78 C223.44,62.36 222.82,61.56 222.12,60.92 C221.41,60.28 220.59,59.76 220.10,58.94 C219.61,58.12 219.22,57.05 219.17,56.00 C219.13,54.95 219.44,53.73 219.83,52.65 C220.23,51.56 220.76,50.35 221.53,49.49 C222.29,48.62 223.43,47.90 224.43,47.47 C225.43,47.03 226.49,47.04 227.53,46.85 C228.56,46.67 229.59,46.30 230.62,46.35 C231.65,46.39 232.93,46.54 233.69,47.13 Z" stroke="#aaa" stroke-width="0.6" fill="#f0f0f0"/>
<path d="M232.45,48.60 C233.06,49.07 233.41,50.02 233.65,50.81 C233.89,51.60 233.93,52.50 233.88,53.35 C233.84,54.20 233.73,55.12 233.40,55.92 C233.07,56.73 232.48,57.49 231.91,58.20 C231.35,58.92 230.74,59.65 230.00,60.22 C229.26,60.79 228.31,61.49 227.48,61.64 C226.64,61.79 225.68,61.46 224.96,61.12 C224.25,60.79 223.76,60.14 223.19,59.63 C222.63,59.12 221.97,58.71 221.58,58.05 C221.19,57.39 220.88,56.54 220.84,55.70 C220.80,54.86 221.05,53.89 221.37,53.02 C221.68,52.15 222.11,51.18 222.72,50.49 C223.34,49.80 224.24,49.22 225.04,48.87 C225.84,48.52 226.70,48.53 227.52,48.38 C228.35,48.23 229.18,47.94 230.00,47.98 C230.82,48.02 231.84,48.13 232.45,48.60 Z" stroke="#999" stroke-width="0.6" fill="#ddd"/>
<path d="M231.34,49.93 C231.81,50.29 232.08,51.03 232.27,51.64 C232.45,52.25 232.48,52.95 232.45,53.61 C232.42,54.27 232.33,54.98 232.07,55.60 C231.82,56.23 231.36,56.82 230.92,57.37 C230.48,57.93 230.01,58.49 229.43,58.93 C228.86,59.38 228.13,59.91 227.48,60.03 C226.83,60.15 226.09,59.89 225.53,59.63 C224.98,59.37 224.60,58.87 224.16,58.48 C223.73,58.08 223.22,57.76 222.91,57.25 C222.61,56.74 222.37,56.08 222.34,55.43 C222.31,54.78 222.50,54.03 222.75,53.35 C222.99,52.68 223.32,51.93 223.80,51.39 C224.27,50.86 224.98,50.41 225.60,50.14 C226.22,49.87 226.88,49.87 227.52,49.76 C228.16,49.64 228.80,49.42 229.44,49.45 C230.07,49.47 230.86,49.56 231.34,49.93 Z" stroke="#888" stroke-width="0.6" fill="#c4c4c4"/>
<path d="M231.42,47.93 C231.85,48.30 232.17,48.83 232.39,49.39 C232.61,49.94 232.76,50.60 232.74,51.28 C232.71,51.95 232.47,52.71 232.24,53.42 C232.00,54.14 231.73,54.87 231.33,55.57 C230.92,56.26 230.40,57.10 229.81,57.59 C229.22,58.08 228.42,58.36 227.78,58.50 C227.13,58.64 226.54,58.52 225.96,58.45 C225.38,58.38 224.78,58.35 224.31,58.09 C223.84,57.82 223.39,57.40 223.12,56.88 C222.86,56.36 222.75,55.66 222.73,54.97 C222.71,54.28 222.75,53.47 223.01,52.75 C223.27,52.03 223.78,51.24 224.28,50.64 C224.78,50.03 225.44,49.61 226.03,49.14 C226.62,48.68 227.19,48.16 227.82,47.83 C228.46,47.50 229.24,47.16 229.84,47.18 C230.44,47.19 230.99,47.56 231.42,47.93 Z" stroke="#444444" stroke-width="0.6" fill="#666666"/>
<path d="M231.03,48.49 C231.41,48.82 231.70,49.29 231.89,49.79 C232.09,50.29 232.23,50.88 232.20,51.48 C232.18,52.08 231.97,52.75 231.76,53.39 C231.55,54.03 231.30,54.68 230.94,55.30 C230.58,55.92 230.12,56.67 229.59,57.10 C229.07,57.54 228.35,57.79 227.78,57.92 C227.21,58.04 226.68,57.93 226.16,57.87 C225.64,57.81 225.11,57.78 224.69,57.55 C224.27,57.31 223.87,56.94 223.63,56.47 C223.40,56.01 223.29,55.38 223.28,54.77 C223.26,54.16 223.30,53.43 223.53,52.79 C223.76,52.15 224.21,51.44 224.66,50.90 C225.11,50.37 225.69,49.99 226.22,49.57 C226.74,49.15 227.25,48.69 227.82,48.40 C228.39,48.11 229.08,47.80 229.62,47.82 C230.15,47.83 230.65,48.16 231.03,48.49 Z" stroke="#383838" stroke-width="0.6" fill="#565656"/>
<path d="M230.64,49.05 C230.97,49.34 231.22,49.75 231.40,50.19 C231.57,50.63 231.69,51.15 231.67,51.67 C231.65,52.20 231.46,52.79 231.28,53.35 C231.09,53.91 230.88,54.49 230.56,55.03 C230.24,55.58 229.84,56.23 229.38,56.61 C228.91,57.00 228.28,57.22 227.78,57.33 C227.28,57.44 226.81,57.34 226.36,57.29 C225.91,57.24 225.44,57.21 225.07,57.01 C224.69,56.80 224.34,56.47 224.14,56.06 C223.93,55.66 223.84,55.11 223.83,54.57 C223.81,54.03 223.84,53.39 224.05,52.83 C224.25,52.26 224.65,51.64 225.04,51.17 C225.44,50.70 225.95,50.37 226.41,50.00 C226.87,49.63 227.32,49.23 227.82,48.97 C228.32,48.72 228.93,48.45 229.39,48.46 C229.86,48.47 230.30,48.76 230.64,49.05 Z" stroke="#2d2d2d" stroke-width="0.6" fill="#474747"/>
<path d="M230.24,49.61 C230.53,49.86 230.75,50.22 230.90,50.59 C231.05,50.97 231.15,51.42 231.13,51.87 C231.12,52.32 230.96,52.83 230.80,53.32 C230.64,53.80 230.45,54.30 230.18,54.77 C229.91,55.23 229.56,55.80 229.16,56.13 C228.76,56.46 228.22,56.65 227.78,56.75 C227.35,56.84 226.95,56.76 226.56,56.71 C226.17,56.66 225.76,56.64 225.44,56.47 C225.12,56.29 224.82,56.00 224.64,55.65 C224.47,55.30 224.39,54.83 224.38,54.36 C224.36,53.90 224.39,53.35 224.57,52.87 C224.74,52.38 225.09,51.84 225.42,51.44 C225.76,51.03 226.20,50.74 226.60,50.43 C227.00,50.11 227.39,49.76 227.82,49.54 C228.24,49.32 228.77,49.09 229.17,49.10 C229.58,49.11 229.96,49.36 230.24,49.61 Z" stroke="#222222" stroke-width="0.6" fill="#383838"/>
<path d="M229.85,50.17 C230.09,50.38 230.28,50.68 230.40,51.00 C230.53,51.31 230.61,51.69 230.60,52.07 C230.58,52.45 230.45,52.88 230.32,53.28 C230.18,53.69 230.03,54.11 229.80,54.50 C229.57,54.89 229.28,55.37 228.94,55.64 C228.60,55.92 228.15,56.08 227.79,56.16 C227.42,56.24 227.09,56.17 226.76,56.13 C226.43,56.09 226.09,56.07 225.82,55.93 C225.55,55.78 225.30,55.54 225.15,55.24 C225.00,54.95 224.94,54.55 224.93,54.16 C224.91,53.77 224.94,53.31 225.09,52.90 C225.23,52.49 225.52,52.04 225.81,51.70 C226.09,51.36 226.46,51.12 226.79,50.86 C227.13,50.59 227.45,50.30 227.81,50.11 C228.17,49.93 228.61,49.73 228.95,49.74 C229.29,49.75 229.61,49.96 229.85,50.17 Z" stroke="#161616" stroke-width="0.6" fill="#282828"/>
<path d="M229.46,50.73 C229.65,50.90 229.80,51.14 229.90,51.40 C230.01,51.65 230.07,51.96 230.06,52.26 C230.05,52.57 229.94,52.92 229.83,53.25 C229.73,53.58 229.60,53.91 229.42,54.23 C229.23,54.55 228.99,54.93 228.72,55.16 C228.45,55.38 228.08,55.51 227.79,55.58 C227.49,55.64 227.22,55.58 226.96,55.55 C226.69,55.52 226.42,55.51 226.20,55.39 C225.98,55.27 225.78,55.07 225.66,54.83 C225.54,54.60 225.48,54.27 225.47,53.96 C225.47,53.64 225.49,53.27 225.60,52.94 C225.72,52.61 225.96,52.25 226.19,51.97 C226.42,51.69 226.72,51.50 226.99,51.29 C227.26,51.07 227.52,50.83 227.81,50.68 C228.10,50.53 228.46,50.38 228.73,50.39 C229.01,50.39 229.26,50.56 229.46,50.73 Z" stroke="#0b0b0b" stroke-width="0.6" fill="#191919"/>
<path d="M229.07,51.29 C229.22,51.42 229.33,51.60 229.41,51.80 C229.48,52.00 229.54,52.23 229.53,52.46 C229.52,52.70 229.44,52.96 229.35,53.21 C229.27,53.46 229.18,53.72 229.03,53.96 C228.89,54.21 228.71,54.50 228.50,54.67 C228.30,54.84 228.02,54.94 227.79,54.99 C227.57,55.04 227.36,55.00 227.16,54.97 C226.95,54.95 226.74,54.94 226.58,54.85 C226.41,54.75 226.26,54.61 226.16,54.42 C226.07,54.24 226.03,54.00 226.02,53.76 C226.02,53.51 226.03,53.23 226.12,52.98 C226.21,52.73 226.39,52.45 226.57,52.24 C226.74,52.03 226.97,51.88 227.18,51.71 C227.39,51.55 227.59,51.37 227.81,51.26 C228.03,51.14 228.30,51.02 228.51,51.03 C228.72,51.03 228.92,51.16 229.07,51.29 Z" stroke="#000000" stroke-width="0.6" fill="#0a0a0a"/>
<path d="M229.50,50.35 C229.60,50.41 229.67,50.53 229.70,50.69 C229.73,50.85 229.72,51.08 229.67,51.33 C229.62,51.57 229.53,51.87 229.42,52.15 C229.30,52.44 229.15,52.76 228.98,53.05 C228.81,53.34 228.61,53.63 228.42,53.88 C228.23,54.12 228.02,54.35 227.83,54.51 C227.64,54.67 227.45,54.80 227.30,54.85 C227.14,54.91 227.00,54.91 226.90,54.85 C226.80,54.79 226.73,54.67 226.70,54.51 C226.67,54.35 226.68,54.12 226.73,53.87 C226.78,53.63 226.87,53.33 226.98,53.05 C227.10,52.76 227.25,52.44 227.42,52.15 C227.59,51.86 227.79,51.57 227.98,51.32 C228.17,51.08 228.38,50.85 228.57,50.69 C228.76,50.53 228.95,50.40 229.10,50.35 C229.26,50.29 229.40,50.29 229.50,50.35 Z" stroke="none" stroke-width="0.6" fill="#eee"/>
<path d="M214.5,88.5 C214.5,80 216,72 219,68 C222,65 229,65 231.5,68 C234,71 234.2,78 234,84 C234,86.5 236,87 242,87.5 L242,89 Z" stroke="#999" stroke-width="0.6" fill="#f2f2f2"/>
<path d="M233.29,77.50 C233.23,78.85 233.06,80.30 232.67,81.44 C232.28,82.59 231.54,83.41 230.94,84.36 C230.34,85.30 229.82,86.32 229.08,87.11 C228.34,87.91 227.38,89.09 226.50,89.15 C225.62,89.22 224.56,88.30 223.82,87.50 C223.08,86.70 222.63,85.36 222.07,84.34 C221.51,83.32 220.83,82.52 220.44,81.38 C220.04,80.24 219.74,78.83 219.69,77.50 C219.63,76.17 219.83,74.74 220.10,73.41 C220.37,72.08 220.70,70.46 221.33,69.51 C221.95,68.56 223.01,67.94 223.87,67.71 C224.74,67.49 225.64,68.09 226.50,68.15 C227.36,68.22 228.16,67.88 229.02,68.10 C229.89,68.32 231.02,68.62 231.69,69.49 C232.35,70.36 232.74,72.01 233.00,73.34 C233.27,74.68 233.34,76.15 233.29,77.50 Z" stroke="#888888" stroke-width="0.6" fill="#b0b0b0"/>
<path d="M232.44,77.50 C232.39,78.68 232.24,79.95 231.90,80.95 C231.55,81.95 230.91,82.67 230.39,83.50 C229.86,84.33 229.40,85.21 228.76,85.91 C228.11,86.61 227.27,87.64 226.50,87.69 C225.73,87.75 224.80,86.95 224.15,86.25 C223.51,85.55 223.12,84.38 222.62,83.48 C222.13,82.59 221.54,81.89 221.20,80.89 C220.85,79.90 220.59,78.66 220.54,77.50 C220.49,76.34 220.66,75.08 220.90,73.92 C221.14,72.75 221.42,71.34 221.97,70.51 C222.52,69.68 223.45,69.13 224.20,68.94 C224.96,68.74 225.75,69.26 226.50,69.32 C227.25,69.38 227.95,69.08 228.71,69.28 C229.46,69.47 230.46,69.73 231.04,70.49 C231.62,71.26 231.96,72.69 232.19,73.86 C232.42,75.03 232.49,76.32 232.44,77.50 Z" stroke="#777777" stroke-width="0.6" fill="#9d9d9d"/>
<path d="M231.59,77.50 C231.55,78.51 231.42,79.60 231.12,80.46 C230.83,81.32 230.28,81.94 229.83,82.64 C229.38,83.35 228.99,84.11 228.43,84.71 C227.88,85.31 227.16,86.19 226.50,86.24 C225.84,86.29 225.04,85.60 224.49,85.00 C223.93,84.40 223.60,83.40 223.18,82.63 C222.76,81.86 222.25,81.26 221.95,80.41 C221.66,79.55 221.43,78.50 221.39,77.50 C221.35,76.50 221.50,75.43 221.70,74.43 C221.91,73.43 222.15,72.22 222.62,71.51 C223.09,70.80 223.88,70.33 224.53,70.16 C225.18,69.99 225.86,70.44 226.50,70.49 C227.14,70.54 227.74,70.28 228.39,70.45 C229.04,70.62 229.89,70.84 230.39,71.49 C230.89,72.15 231.18,73.38 231.38,74.38 C231.58,75.38 231.63,76.49 231.59,77.50 Z" stroke="#666666" stroke-width="0.6" fill="#8a8a8a"/>
<path d="M230.74,77.50 C230.71,78.34 230.60,79.25 230.35,79.96 C230.11,80.68 229.65,81.20 229.28,81.79 C228.90,82.38 228.57,83.01 228.11,83.51 C227.65,84.01 227.05,84.74 226.50,84.78 C225.95,84.82 225.28,84.25 224.82,83.75 C224.36,83.25 224.08,82.41 223.73,81.77 C223.38,81.14 222.96,80.64 222.71,79.92 C222.46,79.21 222.28,78.33 222.24,77.50 C222.21,76.67 222.33,75.77 222.50,74.94 C222.67,74.11 222.87,73.10 223.27,72.51 C223.66,71.91 224.32,71.52 224.86,71.38 C225.40,71.24 225.96,71.62 226.50,71.66 C227.04,71.70 227.54,71.49 228.08,71.63 C228.62,71.76 229.33,71.95 229.74,72.49 C230.16,73.04 230.40,74.07 230.56,74.90 C230.73,75.74 230.78,76.66 230.74,77.50 Z" stroke="#555555" stroke-width="0.6" fill="#787878"/>
<path d="M229.89,77.50 C229.87,78.18 229.78,78.90 229.58,79.47 C229.39,80.04 229.02,80.46 228.72,80.93 C228.42,81.40 228.16,81.91 227.79,82.31 C227.42,82.71 226.94,83.29 226.50,83.33 C226.06,83.36 225.53,82.90 225.16,82.50 C224.79,82.10 224.57,81.43 224.29,80.92 C224.00,80.41 223.67,80.01 223.47,79.44 C223.27,78.87 223.12,78.16 223.09,77.50 C223.07,76.84 223.16,76.12 223.30,75.45 C223.44,74.79 223.60,73.98 223.91,73.50 C224.23,73.03 224.76,72.72 225.19,72.61 C225.62,72.49 226.07,72.79 226.50,72.83 C226.93,72.86 227.33,72.69 227.76,72.80 C228.19,72.91 228.76,73.06 229.09,73.50 C229.43,73.93 229.62,74.75 229.75,75.42 C229.88,76.09 229.92,76.82 229.89,77.50 Z" stroke="#444444" stroke-width="0.6" fill="#656565"/>
<path d="M229.05,77.50 C229.02,78.01 228.96,78.55 228.81,78.98 C228.67,79.41 228.39,79.72 228.17,80.07 C227.94,80.43 227.74,80.81 227.47,81.11 C227.19,81.40 226.83,81.84 226.50,81.87 C226.17,81.89 225.77,81.55 225.49,81.25 C225.22,80.95 225.05,80.45 224.84,80.06 C224.63,79.68 224.38,79.38 224.23,78.95 C224.08,78.53 223.97,78.00 223.95,77.50 C223.92,77.00 224.00,76.46 224.10,75.97 C224.20,75.47 224.32,74.86 224.56,74.50 C224.80,74.15 225.19,73.91 225.52,73.83 C225.84,73.75 226.18,73.97 226.50,73.99 C226.82,74.02 227.12,73.89 227.45,73.98 C227.77,74.06 228.20,74.17 228.45,74.50 C228.69,74.82 228.84,75.44 228.94,75.94 C229.04,76.44 229.07,76.99 229.05,77.50 Z" stroke="#333333" stroke-width="0.6" fill="#525252"/>
<path d="M228.20,77.50 C228.18,77.84 228.14,78.20 228.04,78.49 C227.94,78.77 227.76,78.98 227.61,79.21 C227.46,79.45 227.33,79.70 227.14,79.90 C226.96,80.10 226.72,80.40 226.50,80.41 C226.28,80.43 226.01,80.20 225.83,80.00 C225.64,79.80 225.53,79.47 225.39,79.21 C225.25,78.95 225.08,78.75 224.98,78.47 C224.89,78.18 224.81,77.83 224.80,77.50 C224.78,77.17 224.83,76.81 224.90,76.48 C224.97,76.14 225.05,75.74 225.21,75.50 C225.36,75.27 225.63,75.11 225.84,75.05 C226.06,75.00 226.29,75.15 226.50,75.16 C226.71,75.18 226.91,75.09 227.13,75.15 C227.35,75.21 227.63,75.28 227.80,75.50 C227.96,75.72 228.06,76.13 228.13,76.46 C228.19,76.79 228.21,77.16 228.20,77.50 Z" stroke="#222222" stroke-width="0.6" fill="#404040"/>
<path d="M227.80,76.50 C227.80,76.82 227.77,77.16 227.72,77.46 C227.68,77.75 227.60,78.04 227.51,78.27 C227.42,78.49 227.30,78.69 227.18,78.81 C227.06,78.93 226.93,79.00 226.80,79.00 C226.67,79.00 226.54,78.93 226.42,78.81 C226.30,78.69 226.18,78.49 226.09,78.27 C226.00,78.04 225.92,77.75 225.88,77.46 C225.83,77.16 225.80,76.82 225.80,76.50 C225.80,76.18 225.83,75.84 225.88,75.54 C225.92,75.25 226.00,74.96 226.09,74.73 C226.18,74.51 226.30,74.31 226.42,74.19 C226.54,74.07 226.67,74.00 226.80,74.00 C226.93,74.00 227.06,74.07 227.18,74.19 C227.30,74.31 227.42,74.51 227.51,74.73 C227.60,74.96 227.68,75.25 227.72,75.54 C227.77,75.84 227.80,76.18 227.80,76.50 Z" stroke="none" stroke-width="0.6" fill="#ccc"/>
</g>
<rect x="218.50" y="46.20" width="18.30" height="17.10" stroke="#333" stroke-width="1.0" fill="none"/>
<text x="231.50" y="39.80" font-size="7" text-anchor="end" font-weight="bold" fill="#111" stroke="#111" stroke-width="0.3" >33</text>
<clipPath id="c4"><rect x="33.50" y="121.00" width="58.80" height="59.40"/></clipPath><g clip-path="url(#c4)">
<path d="M34.00,181.00 C31.87,179.17 33.95,173.00 34.20,170.00 C34.45,167.00 34.62,165.00 35.50,163.00 C36.38,161.00 38.00,159.50 39.50,158.00 C41.00,156.50 42.83,155.17 44.50,154.00 C46.17,152.83 48.08,151.58 49.50,151.00 C50.92,150.42 52.42,150.08 53.00,150.50 C53.58,150.92 53.67,152.25 53.00,153.50 C52.33,154.75 49.95,156.25 49.00,158.00 C48.05,159.75 47.50,161.67 47.30,164.00 C47.10,166.33 47.85,169.17 47.80,172.00 C47.75,174.83 49.30,179.50 47.00,181.00 C44.70,182.50 36.13,182.83 34.00,181.00 Z" stroke="#999" stroke-width="0.6" fill="#e2e2e2"/>
<path d="M35.05,179.05 C33.24,177.49 35.01,172.25 35.22,169.70 C35.43,167.15 35.57,165.45 36.33,163.75 C37.08,162.05 38.45,160.78 39.73,159.50 C41.00,158.22 42.56,157.09 43.98,156.10 C45.39,155.11 47.02,154.05 48.23,153.55 C49.43,153.05 50.70,152.77 51.20,153.12 C51.70,153.48 51.77,154.61 51.20,155.68 C50.63,156.74 48.61,158.01 47.80,159.50 C46.99,160.99 46.52,162.62 46.35,164.60 C46.18,166.58 46.82,168.99 46.78,171.40 C46.74,173.81 48.05,177.78 46.10,179.05 C44.15,180.33 36.86,180.61 35.05,179.05 Z" stroke="#888" stroke-width="0.6" fill="#c8c8c8"/>
<path d="M36.10,177.10 C34.61,175.82 36.07,171.50 36.24,169.40 C36.41,167.30 36.53,165.90 37.15,164.50 C37.77,163.10 38.90,162.05 39.95,161.00 C41.00,159.95 42.28,159.02 43.45,158.20 C44.62,157.38 45.96,156.51 46.95,156.10 C47.94,155.69 48.99,155.46 49.40,155.75 C49.81,156.04 49.87,156.97 49.40,157.85 C48.93,158.72 47.27,159.78 46.60,161.00 C45.94,162.22 45.55,163.57 45.41,165.20 C45.27,166.83 45.79,168.82 45.76,170.80 C45.73,172.78 46.81,176.05 45.20,177.10 C43.59,178.15 37.59,178.38 36.10,177.10 Z" stroke="#777" stroke-width="0.6" fill="#b0b0b0"/>
<path d="M52.29,151.05 C52.45,151.28 52.54,151.58 52.56,151.89 C52.57,152.20 52.50,152.56 52.36,152.90 C52.22,153.23 52.00,153.60 51.73,153.92 C51.47,154.24 51.12,154.55 50.76,154.80 C50.41,155.05 49.99,155.27 49.60,155.41 C49.21,155.55 48.79,155.64 48.42,155.65 C48.06,155.67 47.69,155.61 47.41,155.49 C47.13,155.37 46.88,155.18 46.71,154.95 C46.55,154.72 46.46,154.42 46.44,154.11 C46.43,153.80 46.50,153.44 46.64,153.10 C46.78,152.77 47.00,152.40 47.27,152.08 C47.53,151.76 47.88,151.45 48.24,151.20 C48.59,150.95 49.01,150.73 49.40,150.59 C49.79,150.45 50.21,150.36 50.58,150.35 C50.94,150.33 51.31,150.39 51.59,150.51 C51.87,150.63 52.12,150.82 52.29,151.05 Z" stroke="#888" stroke-width="0.6" fill="#d0d0d0"/>
<path d="M51.17,151.83 C51.27,151.97 51.33,152.15 51.33,152.33 C51.34,152.52 51.30,152.73 51.22,152.94 C51.13,153.14 51.00,153.36 50.84,153.55 C50.68,153.74 50.47,153.93 50.26,154.08 C50.04,154.23 49.79,154.36 49.56,154.45 C49.33,154.53 49.07,154.58 48.85,154.59 C48.63,154.60 48.42,154.57 48.25,154.49 C48.08,154.42 47.93,154.31 47.83,154.17 C47.73,154.03 47.67,153.85 47.67,153.67 C47.66,153.48 47.70,153.27 47.78,153.06 C47.87,152.86 48.00,152.64 48.16,152.45 C48.32,152.26 48.53,152.07 48.74,151.92 C48.96,151.77 49.21,151.64 49.44,151.55 C49.67,151.47 49.93,151.42 50.15,151.41 C50.37,151.40 50.58,151.43 50.75,151.51 C50.92,151.58 51.07,151.69 51.17,151.83 Z" stroke="#888" stroke-width="0.6" fill="#e6e6e6"/>
<path d="M48.18,171.81 C47.89,172.95 47.37,174.02 46.83,174.96 C46.29,175.90 45.66,176.86 44.93,177.47 C44.19,178.07 43.26,178.24 42.41,178.58 C41.55,178.93 40.72,179.39 39.77,179.53 C38.83,179.67 37.52,179.96 36.74,179.44 C35.96,178.92 35.41,177.48 35.09,176.41 C34.77,175.33 34.95,174.08 34.82,172.99 C34.70,171.90 34.30,170.94 34.32,169.86 C34.34,168.78 34.54,167.51 34.96,166.49 C35.38,165.47 36.12,164.56 36.86,163.76 C37.59,162.97 38.47,162.01 39.36,161.74 C40.26,161.46 41.40,161.71 42.22,162.10 C43.05,162.49 43.58,163.53 44.31,164.09 C45.04,164.65 45.92,164.79 46.63,165.46 C47.34,166.13 48.31,167.06 48.57,168.12 C48.83,169.18 48.47,170.67 48.18,171.81 Z" stroke="#444444" stroke-width="0.6" fill="#555555"/>
<path d="M47.47,171.71 C47.20,172.73 46.73,173.69 46.25,174.54 C45.76,175.39 45.20,176.25 44.53,176.80 C43.87,177.34 43.04,177.50 42.27,177.81 C41.49,178.11 40.75,178.53 39.90,178.66 C39.05,178.79 37.87,179.05 37.17,178.58 C36.46,178.11 35.97,176.81 35.68,175.85 C35.40,174.88 35.56,173.75 35.44,172.77 C35.33,171.79 34.97,170.93 34.99,169.96 C35.01,168.98 35.18,167.83 35.56,166.92 C35.94,166.01 36.61,165.18 37.27,164.47 C37.93,163.75 38.72,162.89 39.53,162.64 C40.33,162.39 41.36,162.62 42.10,162.97 C42.84,163.32 43.32,164.25 43.98,164.76 C44.64,165.26 45.43,165.39 46.06,165.99 C46.70,166.60 47.58,167.43 47.81,168.39 C48.05,169.34 47.73,170.68 47.47,171.71 Z" stroke="#393939" stroke-width="0.6" fill="#474747"/>
<path d="M46.75,171.61 C46.52,172.52 46.10,173.37 45.66,174.13 C45.23,174.88 44.73,175.65 44.14,176.13 C43.55,176.62 42.81,176.75 42.12,177.03 C41.44,177.30 40.77,177.67 40.02,177.78 C39.26,177.90 38.22,178.13 37.59,177.71 C36.97,177.30 36.53,176.15 36.27,175.29 C36.02,174.42 36.16,173.42 36.06,172.55 C35.96,171.68 35.64,170.92 35.66,170.05 C35.67,169.18 35.83,168.16 36.17,167.35 C36.50,166.54 37.10,165.80 37.68,165.17 C38.27,164.54 38.97,163.77 39.69,163.55 C40.41,163.33 41.32,163.53 41.98,163.84 C42.64,164.16 43.06,164.98 43.65,165.43 C44.23,165.88 44.93,165.99 45.50,166.53 C46.07,167.07 46.85,167.81 47.06,168.65 C47.26,169.50 46.98,170.70 46.75,171.61 Z" stroke="#2f2f2f" stroke-width="0.6" fill="#393939"/>
<path d="M46.03,171.51 C45.83,172.30 45.46,173.05 45.08,173.71 C44.70,174.37 44.26,175.04 43.75,175.47 C43.23,175.89 42.59,176.01 41.98,176.25 C41.38,176.49 40.80,176.81 40.14,176.91 C39.48,177.01 38.56,177.21 38.02,176.85 C37.47,176.48 37.09,175.48 36.86,174.72 C36.64,173.97 36.77,173.10 36.68,172.33 C36.59,171.57 36.31,170.90 36.32,170.14 C36.34,169.38 36.47,168.49 36.77,167.78 C37.07,167.07 37.58,166.43 38.10,165.87 C38.61,165.32 39.23,164.65 39.85,164.46 C40.48,164.26 41.28,164.44 41.86,164.71 C42.43,164.99 42.80,165.71 43.32,166.10 C43.83,166.49 44.44,166.59 44.94,167.06 C45.44,167.53 46.12,168.18 46.30,168.92 C46.48,169.66 46.23,170.71 46.03,171.51 Z" stroke="#252525" stroke-width="0.6" fill="#2c2c2c"/>
<path d="M45.31,171.41 C45.14,172.09 44.82,172.73 44.50,173.30 C44.17,173.86 43.80,174.44 43.36,174.80 C42.91,175.16 42.36,175.26 41.84,175.47 C41.33,175.68 40.83,175.95 40.26,176.04 C39.70,176.12 38.91,176.30 38.44,175.99 C37.98,175.67 37.65,174.81 37.46,174.16 C37.26,173.52 37.37,172.77 37.29,172.11 C37.22,171.46 36.98,170.89 36.99,170.24 C37.01,169.59 37.12,168.82 37.37,168.21 C37.63,167.60 38.07,167.05 38.51,166.58 C38.95,166.10 39.48,165.53 40.02,165.36 C40.55,165.20 41.24,165.35 41.73,165.58 C42.23,165.82 42.55,166.44 42.99,166.77 C43.43,167.11 43.95,167.19 44.38,167.60 C44.80,168.00 45.39,168.56 45.54,169.19 C45.70,169.83 45.48,170.72 45.31,171.41 Z" stroke="#1b1b1b" stroke-width="0.6" fill="#1e1e1e"/>
<path d="M44.59,171.30 C44.45,171.87 44.19,172.41 43.91,172.88 C43.64,173.35 43.33,173.83 42.96,174.13 C42.59,174.43 42.13,174.52 41.70,174.69 C41.27,174.86 40.86,175.09 40.39,175.17 C39.91,175.24 39.26,175.38 38.87,175.12 C38.48,174.86 38.21,174.14 38.05,173.60 C37.89,173.07 37.98,172.44 37.91,171.89 C37.85,171.35 37.65,170.87 37.66,170.33 C37.67,169.79 37.77,169.15 37.98,168.64 C38.19,168.14 38.56,167.68 38.93,167.28 C39.29,166.89 39.73,166.41 40.18,166.27 C40.63,166.13 41.20,166.26 41.61,166.45 C42.02,166.65 42.29,167.16 42.65,167.44 C43.02,167.72 43.46,167.79 43.81,168.13 C44.17,168.47 44.66,168.93 44.79,169.46 C44.91,169.99 44.74,170.73 44.59,171.30 Z" stroke="#111111" stroke-width="0.6" fill="#111111"/>
<path d="M44.48,171.75 C44.41,172.31 44.12,172.92 43.86,173.39 C43.60,173.87 43.27,174.27 42.93,174.60 C42.60,174.94 42.23,175.26 41.86,175.40 C41.49,175.55 41.09,175.52 40.71,175.49 C40.33,175.45 39.94,175.39 39.58,175.20 C39.23,175.00 38.79,174.73 38.57,174.30 C38.36,173.87 38.30,173.16 38.30,172.59 C38.29,172.03 38.45,171.46 38.54,170.91 C38.63,170.36 38.66,169.80 38.84,169.29 C39.01,168.78 39.28,168.23 39.60,167.85 C39.91,167.48 40.33,167.21 40.72,167.03 C41.11,166.85 41.56,166.70 41.94,166.77 C42.32,166.84 42.71,167.14 42.99,167.47 C43.27,167.79 43.43,168.30 43.64,168.73 C43.85,169.16 44.12,169.53 44.26,170.03 C44.40,170.53 44.54,171.19 44.48,171.75 Z" stroke="#555" stroke-width="0.6" fill="#999"/>
<path d="M43.21,171.57 C43.17,171.90 42.99,172.27 42.83,172.56 C42.68,172.84 42.48,173.08 42.28,173.28 C42.08,173.48 41.86,173.67 41.64,173.76 C41.41,173.85 41.17,173.83 40.95,173.81 C40.72,173.79 40.48,173.76 40.27,173.64 C40.06,173.52 39.79,173.36 39.66,173.10 C39.53,172.84 39.50,172.41 39.50,172.07 C39.50,171.74 39.59,171.40 39.64,171.07 C39.70,170.74 39.72,170.40 39.82,170.09 C39.93,169.79 40.09,169.46 40.28,169.23 C40.47,169.01 40.72,168.85 40.95,168.74 C41.18,168.63 41.45,168.54 41.68,168.58 C41.91,168.63 42.14,168.80 42.31,169.00 C42.48,169.20 42.58,169.50 42.70,169.76 C42.83,170.01 42.99,170.24 43.07,170.54 C43.16,170.84 43.25,171.23 43.21,171.57 Z" stroke="#888" stroke-width="0.6" fill="#c8c8c8"/>
</g>
<rect x="47.10" y="141.00" width="19.90" height="14.60" stroke="#333" stroke-width="1.0" fill="none"/>
<text x="83.00" y="140.90" font-size="7" text-anchor="end" font-weight="bold" fill="#111" stroke="#111" stroke-width="0.3" >6.2</text>
<clipPath id="c5"><rect x="110.40" y="121.00" width="59.20" height="59.40"/></clipPath><g clip-path="url(#c5)">
<path d="M111.00,181.00 C109.08,178.67 110.75,170.67 111.00,167.00 C111.25,163.33 111.50,161.33 112.50,159.00 C113.50,156.67 115.25,154.58 117.00,153.00 C118.75,151.42 121.00,150.50 123.00,149.50 C125.00,148.50 127.17,147.58 129.00,147.00 C130.83,146.42 132.92,145.75 134.00,146.00 C135.08,146.25 135.75,147.42 135.50,148.50 C135.25,149.58 133.83,151.17 132.50,152.50 C131.17,153.83 128.83,155.17 127.50,156.50 C126.17,157.83 125.33,158.92 124.50,160.50 C123.67,162.08 122.75,163.92 122.50,166.00 C122.25,168.08 123.00,170.50 123.00,173.00 C123.00,175.50 124.50,179.67 122.50,181.00 C120.50,182.33 112.92,183.33 111.00,181.00 Z" stroke="#999" stroke-width="0.6" fill="#dedede"/>
<path d="M111.84,179.20 C110.15,177.15 111.62,170.11 111.84,166.88 C112.06,163.65 112.28,161.89 113.16,159.84 C114.04,157.79 115.58,155.95 117.12,154.56 C118.66,153.17 120.64,152.36 122.40,151.48 C124.16,150.60 126.07,149.79 127.68,149.28 C129.29,148.77 131.13,148.18 132.08,148.40 C133.03,148.62 133.62,149.65 133.40,150.60 C133.18,151.55 131.93,152.95 130.76,154.12 C129.59,155.29 127.53,156.47 126.36,157.64 C125.19,158.81 124.45,159.77 123.72,161.16 C122.99,162.55 122.18,164.17 121.96,166.00 C121.74,167.83 122.40,169.96 122.40,172.16 C122.40,174.36 123.72,178.03 121.96,179.20 C120.20,180.37 113.53,181.25 111.84,179.20 Z" stroke="#888" stroke-width="0.6" fill="#c4c4c4"/>
<path d="M112.68,177.40 C111.22,175.63 112.49,169.55 112.68,166.76 C112.87,163.97 113.06,162.45 113.82,160.68 C114.58,158.91 115.91,157.32 117.24,156.12 C118.57,154.92 120.28,154.22 121.80,153.46 C123.32,152.70 124.97,152.00 126.36,151.56 C127.75,151.12 129.34,150.61 130.16,150.80 C130.98,150.99 131.49,151.88 131.30,152.70 C131.11,153.52 130.03,154.73 129.02,155.74 C128.01,156.75 126.23,157.77 125.22,158.78 C124.21,159.79 123.57,160.62 122.94,161.82 C122.31,163.02 121.61,164.42 121.42,166.00 C121.23,167.58 121.80,169.42 121.80,171.32 C121.80,173.22 122.94,176.39 121.42,177.40 C119.90,178.41 114.14,179.17 112.68,177.40 Z" stroke="#777" stroke-width="0.6" fill="#aaaaaa"/>
<path d="M113.52,175.60 C112.29,174.11 113.36,168.99 113.52,166.64 C113.68,164.29 113.84,163.01 114.48,161.52 C115.12,160.03 116.24,158.69 117.36,157.68 C118.48,156.67 119.92,156.08 121.20,155.44 C122.48,154.80 123.87,154.21 125.04,153.84 C126.21,153.47 127.55,153.04 128.24,153.20 C128.93,153.36 129.36,154.11 129.20,154.80 C129.04,155.49 128.13,156.51 127.28,157.36 C126.43,158.21 124.93,159.07 124.08,159.92 C123.23,160.77 122.69,161.47 122.16,162.48 C121.63,163.49 121.04,164.67 120.88,166.00 C120.72,167.33 121.20,168.88 121.20,170.48 C121.20,172.08 122.16,174.75 120.88,175.60 C119.60,176.45 114.75,177.09 113.52,175.60 Z" stroke="#666" stroke-width="0.6" fill="#999"/>
<path d="M113.5,163 C115,158 119,153.5 124,150.8 C127.5,149 131,147.8 133,148.3 C133.5,149.8 130.5,151.8 127,153.8 C122.5,156.3 119,159.5 117,164 Z" stroke="#222" stroke-width="0.7" fill="#444"/>
<path d="M113.8,162.5 C115.5,157.5 119.5,153 124.5,150.3 C127.5,148.8 130.5,147.8 132.6,148" stroke="#111" stroke-width="1.3" fill="none"/>
<path d="M117,165 C119,160 123,156.5 128,154" stroke="#555" stroke-width="1.0" fill="none"/>
<path d="M128.25,151.00 C128.31,151.10 128.31,151.24 128.25,151.40 C128.20,151.55 128.07,151.74 127.91,151.93 C127.75,152.12 127.52,152.33 127.28,152.52 C127.03,152.71 126.74,152.91 126.45,153.08 C126.16,153.25 125.84,153.40 125.55,153.52 C125.27,153.63 124.97,153.72 124.73,153.77 C124.48,153.82 124.25,153.83 124.09,153.80 C123.93,153.77 123.81,153.70 123.75,153.60 C123.69,153.50 123.69,153.36 123.75,153.20 C123.80,153.05 123.93,152.86 124.09,152.67 C124.25,152.48 124.48,152.27 124.72,152.08 C124.97,151.89 125.26,151.69 125.55,151.52 C125.84,151.35 126.16,151.20 126.45,151.08 C126.73,150.97 127.03,150.88 127.27,150.83 C127.52,150.78 127.75,150.77 127.91,150.80 C128.07,150.83 128.19,150.90 128.25,151.00 Z" stroke="none" stroke-width="0.6" fill="#bbb"/>
<path d="M122.30,172.50 C122.20,173.51 121.91,174.48 121.58,175.36 C121.26,176.23 120.87,177.12 120.35,177.73 C119.84,178.33 119.12,178.59 118.48,178.99 C117.84,179.39 117.23,179.88 116.50,180.11 C115.77,180.35 114.76,180.75 114.09,180.40 C113.41,180.05 112.82,178.89 112.44,178.01 C112.07,177.12 112.07,176.03 111.85,175.11 C111.63,174.20 111.21,173.43 111.10,172.50 C111.00,171.57 111.01,170.46 111.23,169.54 C111.45,168.62 111.94,167.75 112.43,166.98 C112.93,166.21 113.52,165.29 114.19,164.94 C114.87,164.60 115.80,164.68 116.50,164.91 C117.20,165.15 117.73,165.97 118.37,166.36 C119.02,166.75 119.73,166.77 120.36,167.26 C121.00,167.75 121.88,168.42 122.20,169.30 C122.52,170.17 122.41,171.49 122.30,172.50 Z" stroke="#555555" stroke-width="0.6" fill="#888888"/>
<path d="M121.61,172.50 C121.52,173.39 121.26,174.25 120.97,175.01 C120.68,175.78 120.34,176.57 119.89,177.10 C119.44,177.63 118.81,177.86 118.24,178.21 C117.68,178.56 117.14,178.99 116.50,179.20 C115.86,179.41 114.97,179.76 114.38,179.45 C113.78,179.15 113.26,178.12 112.93,177.34 C112.60,176.57 112.61,175.61 112.41,174.80 C112.21,173.99 111.84,173.32 111.75,172.50 C111.66,171.68 111.67,170.70 111.87,169.89 C112.06,169.08 112.49,168.32 112.92,167.64 C113.36,166.97 113.87,166.15 114.47,165.85 C115.07,165.55 115.89,165.62 116.50,165.82 C117.11,166.03 117.58,166.75 118.15,167.10 C118.72,167.44 119.34,167.46 119.90,167.89 C120.46,168.32 121.23,168.91 121.51,169.68 C121.80,170.45 121.70,171.61 121.61,172.50 Z" stroke="#4a4a4a" stroke-width="0.6" fill="#7a7a7a"/>
<path d="M120.91,172.50 C120.83,173.27 120.61,174.01 120.36,174.67 C120.11,175.33 119.82,176.01 119.43,176.47 C119.04,176.93 118.49,177.13 118.00,177.43 C117.52,177.73 117.06,178.11 116.50,178.29 C115.94,178.47 115.18,178.77 114.67,178.51 C114.15,178.24 113.70,177.35 113.42,176.68 C113.13,176.01 113.14,175.18 112.97,174.49 C112.80,173.79 112.48,173.21 112.40,172.50 C112.32,171.79 112.33,170.95 112.50,170.25 C112.67,169.55 113.03,168.89 113.41,168.31 C113.78,167.72 114.23,167.02 114.75,166.76 C115.26,166.50 115.97,166.56 116.50,166.74 C117.03,166.91 117.43,167.54 117.92,167.83 C118.41,168.13 118.95,168.14 119.44,168.52 C119.92,168.89 120.59,169.40 120.83,170.07 C121.08,170.73 120.99,171.73 120.91,172.50 Z" stroke="#404040" stroke-width="0.6" fill="#6c6c6c"/>
<path d="M120.21,172.50 C120.15,173.15 119.96,173.77 119.75,174.33 C119.54,174.89 119.30,175.46 118.97,175.85 C118.63,176.23 118.18,176.40 117.77,176.65 C117.36,176.91 116.97,177.22 116.50,177.37 C116.03,177.52 115.39,177.78 114.96,177.56 C114.52,177.33 114.14,176.59 113.90,176.02 C113.67,175.46 113.67,174.76 113.52,174.17 C113.38,173.59 113.11,173.09 113.05,172.50 C112.98,171.91 112.99,171.19 113.13,170.61 C113.27,170.02 113.58,169.46 113.90,168.97 C114.21,168.48 114.59,167.88 115.02,167.66 C115.46,167.44 116.05,167.49 116.50,167.65 C116.95,167.80 117.29,168.32 117.70,168.57 C118.11,168.82 118.56,168.83 118.97,169.14 C119.38,169.46 119.94,169.89 120.15,170.45 C120.35,171.01 120.28,171.85 120.21,172.50 Z" stroke="#363636" stroke-width="0.6" fill="#5f5f5f"/>
<path d="M119.52,172.50 C119.46,173.03 119.31,173.53 119.14,173.99 C118.97,174.44 118.77,174.90 118.50,175.22 C118.23,175.53 117.86,175.67 117.53,175.87 C117.20,176.08 116.88,176.34 116.50,176.46 C116.12,176.58 115.60,176.79 115.25,176.61 C114.89,176.43 114.58,175.82 114.39,175.36 C114.20,174.90 114.20,174.34 114.08,173.86 C113.97,173.38 113.75,172.98 113.69,172.50 C113.64,172.02 113.65,171.44 113.76,170.96 C113.88,170.48 114.13,170.03 114.39,169.63 C114.64,169.23 114.95,168.75 115.30,168.57 C115.65,168.39 116.14,168.43 116.50,168.56 C116.86,168.68 117.14,169.10 117.47,169.31 C117.81,169.51 118.18,169.52 118.51,169.77 C118.84,170.03 119.30,170.38 119.46,170.83 C119.63,171.29 119.57,171.97 119.52,172.50 Z" stroke="#2c2c2c" stroke-width="0.6" fill="#515151"/>
<path d="M118.82,172.50 C118.78,172.90 118.66,173.29 118.53,173.64 C118.40,173.99 118.25,174.35 118.04,174.59 C117.83,174.83 117.55,174.94 117.29,175.10 C117.04,175.25 116.79,175.45 116.50,175.55 C116.21,175.64 115.81,175.80 115.54,175.66 C115.26,175.52 115.03,175.05 114.88,174.70 C114.73,174.35 114.73,173.91 114.64,173.55 C114.55,173.18 114.38,172.87 114.34,172.50 C114.30,172.13 114.30,171.68 114.39,171.32 C114.48,170.95 114.68,170.60 114.87,170.29 C115.07,169.99 115.31,169.62 115.58,169.48 C115.85,169.34 116.22,169.37 116.50,169.47 C116.78,169.56 116.99,169.89 117.25,170.04 C117.51,170.20 117.79,170.21 118.05,170.40 C118.30,170.60 118.65,170.87 118.78,171.22 C118.91,171.57 118.86,172.10 118.82,172.50 Z" stroke="#222222" stroke-width="0.6" fill="#444444"/>
<path d="M118.80,172.50 C118.80,172.91 118.75,173.35 118.66,173.72 C118.58,174.10 118.44,174.47 118.27,174.76 C118.11,175.05 117.90,175.30 117.69,175.46 C117.48,175.61 117.23,175.70 117.00,175.70 C116.77,175.70 116.52,175.61 116.31,175.46 C116.10,175.30 115.89,175.05 115.73,174.76 C115.56,174.47 115.42,174.10 115.34,173.72 C115.25,173.35 115.20,172.91 115.20,172.50 C115.20,172.09 115.25,171.65 115.34,171.28 C115.42,170.90 115.56,170.53 115.73,170.24 C115.89,169.95 116.10,169.70 116.31,169.54 C116.52,169.39 116.77,169.30 117.00,169.30 C117.23,169.30 117.48,169.39 117.69,169.54 C117.90,169.70 118.11,169.95 118.27,170.24 C118.44,170.53 118.58,170.90 118.66,171.28 C118.75,171.65 118.80,172.09 118.80,172.50 Z" stroke="#666" stroke-width="0.6" fill="#bbb"/>
</g>
<rect x="124.20" y="141.00" width="19.80" height="14.60" stroke="#333" stroke-width="1.0" fill="none"/>
<text x="158.00" y="140.90" font-size="7" text-anchor="end" font-weight="bold" fill="#111" stroke="#111" stroke-width="0.3" >23</text>
<clipPath id="c6"><rect x="185.40" y="121.00" width="59.60" height="59.40"/></clipPath><g clip-path="url(#c6)">
<path d="M186.00,181.00 C184.08,178.83 185.83,171.50 186.00,168.00 C186.17,164.50 186.33,162.17 187.00,160.00 C187.67,157.83 188.67,156.42 190.00,155.00 C191.33,153.58 193.17,152.50 195.00,151.50 C196.83,150.50 199.17,149.58 201.00,149.00 C202.83,148.42 204.78,147.87 206.00,148.00 C207.22,148.13 208.22,148.80 208.30,149.80 C208.38,150.80 207.55,152.63 206.50,154.00 C205.45,155.37 203.28,156.67 202.00,158.00 C200.72,159.33 199.53,160.33 198.80,162.00 C198.07,163.67 197.60,165.83 197.60,168.00 C197.60,170.17 198.82,172.83 198.80,175.00 C198.78,177.17 199.63,180.00 197.50,181.00 C195.37,182.00 187.92,183.17 186.00,181.00 Z" stroke="#999" stroke-width="0.6" fill="#dedede"/>
<path d="M186.72,179.20 C185.03,177.29 186.57,170.84 186.72,167.76 C186.87,164.68 187.01,162.63 187.60,160.72 C188.19,158.81 189.07,157.57 190.24,156.32 C191.41,155.07 193.03,154.12 194.64,153.24 C196.25,152.36 198.31,151.55 199.92,151.04 C201.53,150.53 203.25,150.04 204.32,150.16 C205.39,150.28 206.27,150.86 206.34,151.74 C206.42,152.62 205.68,154.24 204.76,155.44 C203.84,156.64 201.93,157.79 200.80,158.96 C199.67,160.13 198.63,161.01 197.98,162.48 C197.34,163.95 196.93,165.85 196.93,167.76 C196.93,169.67 198.00,172.01 197.98,173.92 C197.97,175.83 198.72,178.32 196.84,179.20 C194.96,180.08 188.41,181.11 186.72,179.20 Z" stroke="#888" stroke-width="0.6" fill="#c4c4c4"/>
<path d="M187.44,177.40 C185.98,175.75 187.31,170.18 187.44,167.52 C187.57,164.86 187.69,163.09 188.20,161.44 C188.71,159.79 189.47,158.72 190.48,157.64 C191.49,156.56 192.89,155.74 194.28,154.98 C195.67,154.22 197.45,153.52 198.84,153.08 C200.23,152.64 201.72,152.22 202.64,152.32 C203.56,152.42 204.32,152.93 204.39,153.69 C204.45,154.45 203.82,155.84 203.02,156.88 C202.22,157.92 200.58,158.91 199.60,159.92 C198.62,160.93 197.73,161.69 197.17,162.96 C196.61,164.23 196.26,165.87 196.26,167.52 C196.26,169.17 197.18,171.19 197.17,172.84 C197.16,174.49 197.80,176.64 196.18,177.40 C194.56,178.16 188.90,179.05 187.44,177.40 Z" stroke="#777" stroke-width="0.6" fill="#aaaaaa"/>
<path d="M188.16,175.60 C186.93,174.21 188.05,169.52 188.16,167.28 C188.27,165.04 188.37,163.55 188.80,162.16 C189.23,160.77 189.87,159.87 190.72,158.96 C191.57,158.05 192.75,157.36 193.92,156.72 C195.09,156.08 196.59,155.49 197.76,155.12 C198.93,154.75 200.18,154.39 200.96,154.48 C201.74,154.57 202.38,154.99 202.43,155.63 C202.49,156.27 201.95,157.45 201.28,158.32 C200.61,159.19 199.22,160.03 198.40,160.88 C197.58,161.73 196.82,162.37 196.35,163.44 C195.88,164.51 195.58,165.89 195.58,167.28 C195.58,168.67 196.36,170.37 196.35,171.76 C196.34,173.15 196.89,174.96 195.52,175.60 C194.15,176.24 189.39,176.99 188.16,175.60 Z" stroke="#666" stroke-width="0.6" fill="#999"/>
<path d="M188.5,161 C190,157 194,153.5 199,151.3 C202.5,149.8 205.5,149.3 206.8,150 C207,151.5 204.5,153 201.5,154.8 C197.5,157 194,159.5 192,163 Z" stroke="#222" stroke-width="0.7" fill="#444"/>
<path d="M188.8,160.5 C190.5,156.5 194.5,153 199.5,151 C202.5,149.8 205,149.4 206.5,149.8" stroke="#111" stroke-width="1.3" fill="none"/>
<path d="M192,164 C194,160 197.5,157 202,155" stroke="#555" stroke-width="1.0" fill="none"/>
<path d="M202.97,151.29 C203.03,151.40 203.03,151.56 202.96,151.72 C202.90,151.89 202.76,152.10 202.58,152.29 C202.40,152.49 202.15,152.71 201.88,152.91 C201.61,153.11 201.28,153.32 200.97,153.48 C200.65,153.65 200.30,153.81 199.99,153.92 C199.67,154.03 199.35,154.11 199.08,154.15 C198.82,154.19 198.57,154.19 198.40,154.15 C198.22,154.11 198.09,154.03 198.03,153.91 C197.97,153.80 197.97,153.64 198.04,153.48 C198.10,153.31 198.24,153.10 198.42,152.91 C198.60,152.71 198.85,152.49 199.12,152.29 C199.39,152.09 199.72,151.88 200.03,151.72 C200.35,151.55 200.70,151.39 201.01,151.28 C201.33,151.17 201.65,151.09 201.92,151.05 C202.18,151.01 202.43,151.01 202.60,151.05 C202.78,151.09 202.91,151.17 202.97,151.29 Z" stroke="none" stroke-width="0.6" fill="#aaa"/>
<path d="M197.69,173.00 C197.59,174.04 197.32,175.04 197.02,175.93 C196.72,176.83 196.36,177.74 195.88,178.37 C195.40,178.99 194.73,179.25 194.14,179.66 C193.54,180.07 192.98,180.57 192.30,180.81 C191.62,181.06 190.69,181.47 190.06,181.11 C189.43,180.75 188.88,179.55 188.53,178.65 C188.19,177.75 188.19,176.62 187.98,175.68 C187.78,174.74 187.39,173.95 187.29,173.00 C187.19,172.05 187.20,170.91 187.41,169.96 C187.61,169.02 188.07,168.12 188.52,167.34 C188.98,166.55 189.53,165.60 190.16,165.25 C190.79,164.89 191.65,164.97 192.30,165.21 C192.95,165.46 193.44,166.30 194.04,166.70 C194.64,167.10 195.30,167.12 195.89,167.62 C196.48,168.12 197.29,168.82 197.59,169.71 C197.89,170.61 197.79,171.96 197.69,173.00 Z" stroke="#444444" stroke-width="0.6" fill="#666666"/>
<path d="M197.10,173.00 C197.01,173.92 196.77,174.81 196.50,175.61 C196.23,176.40 195.91,177.22 195.48,177.78 C195.06,178.33 194.47,178.56 193.94,178.93 C193.41,179.29 192.90,179.74 192.30,179.96 C191.70,180.17 190.87,180.54 190.31,180.22 C189.75,179.90 189.26,178.83 188.95,178.03 C188.64,177.22 188.64,176.23 188.46,175.39 C188.27,174.55 187.93,173.85 187.84,173.00 C187.76,172.15 187.76,171.14 187.95,170.30 C188.13,169.46 188.53,168.66 188.94,167.96 C189.35,167.26 189.83,166.41 190.39,166.10 C190.95,165.78 191.72,165.86 192.30,166.07 C192.88,166.29 193.32,167.03 193.85,167.39 C194.38,167.75 194.97,167.76 195.49,168.21 C196.02,168.66 196.74,169.28 197.01,170.07 C197.28,170.87 197.18,172.08 197.10,173.00 Z" stroke="#393939" stroke-width="0.6" fill="#585858"/>
<path d="M196.50,173.00 C196.43,173.81 196.22,174.59 195.98,175.29 C195.74,175.98 195.46,176.70 195.09,177.19 C194.72,177.67 194.20,177.88 193.73,178.19 C193.27,178.51 192.83,178.91 192.30,179.10 C191.77,179.28 191.04,179.61 190.55,179.33 C190.06,179.04 189.63,178.11 189.36,177.41 C189.09,176.70 189.09,175.83 188.93,175.09 C188.77,174.36 188.47,173.74 188.39,173.00 C188.32,172.26 188.32,171.37 188.49,170.63 C188.65,169.89 189.00,169.19 189.35,168.58 C189.71,167.97 190.14,167.23 190.63,166.95 C191.12,166.68 191.80,166.74 192.30,166.93 C192.80,167.12 193.19,167.77 193.66,168.08 C194.12,168.40 194.64,168.41 195.10,168.80 C195.56,169.19 196.19,169.74 196.43,170.44 C196.66,171.13 196.58,172.19 196.50,173.00 Z" stroke="#2f2f2f" stroke-width="0.6" fill="#4a4a4a"/>
<path d="M195.91,173.00 C195.85,173.69 195.66,174.36 195.46,174.96 C195.26,175.56 195.02,176.18 194.70,176.60 C194.38,177.01 193.93,177.19 193.53,177.46 C193.13,177.73 192.76,178.07 192.30,178.24 C191.84,178.40 191.22,178.68 190.80,178.43 C190.38,178.19 190.01,177.39 189.78,176.79 C189.54,176.18 189.55,175.43 189.41,174.80 C189.27,174.17 189.01,173.64 188.94,173.00 C188.88,172.36 188.89,171.60 189.02,170.96 C189.16,170.33 189.46,169.73 189.77,169.20 C190.08,168.68 190.44,168.04 190.87,167.80 C191.29,167.57 191.87,167.62 192.30,167.78 C192.73,167.95 193.07,168.51 193.47,168.78 C193.87,169.05 194.31,169.06 194.70,169.39 C195.10,169.73 195.64,170.20 195.85,170.80 C196.05,171.40 195.97,172.31 195.91,173.00 Z" stroke="#252525" stroke-width="0.6" fill="#3d3d3d"/>
<path d="M195.32,173.00 C195.26,173.58 195.11,174.14 194.94,174.64 C194.77,175.14 194.57,175.66 194.30,176.00 C194.03,176.35 193.66,176.50 193.33,176.73 C193.00,176.96 192.68,177.24 192.30,177.38 C191.92,177.51 191.40,177.74 191.05,177.54 C190.69,177.34 190.38,176.67 190.19,176.16 C190.00,175.66 190.00,175.03 189.88,174.50 C189.77,173.97 189.55,173.53 189.49,173.00 C189.44,172.47 189.45,171.83 189.56,171.30 C189.68,170.77 189.93,170.27 190.19,169.83 C190.44,169.39 190.75,168.86 191.10,168.66 C191.45,168.46 191.94,168.50 192.30,168.64 C192.66,168.78 192.94,169.25 193.27,169.47 C193.61,169.70 193.98,169.71 194.31,169.99 C194.64,170.27 195.10,170.66 195.26,171.16 C195.43,171.66 195.37,172.42 195.32,173.00 Z" stroke="#1b1b1b" stroke-width="0.6" fill="#2f2f2f"/>
<path d="M194.73,173.00 C194.68,173.47 194.56,173.92 194.42,174.32 C194.29,174.72 194.13,175.14 193.91,175.41 C193.69,175.69 193.40,175.81 193.13,176.00 C192.86,176.18 192.61,176.41 192.30,176.52 C191.99,176.63 191.57,176.81 191.29,176.65 C191.01,176.49 190.76,175.95 190.61,175.54 C190.45,175.14 190.45,174.63 190.36,174.21 C190.26,173.78 190.09,173.43 190.05,173.00 C190.00,172.57 190.01,172.06 190.10,171.63 C190.19,171.21 190.39,170.80 190.60,170.45 C190.81,170.10 191.05,169.67 191.34,169.51 C191.62,169.35 192.01,169.39 192.30,169.50 C192.59,169.61 192.81,169.98 193.08,170.16 C193.35,170.34 193.65,170.35 193.91,170.58 C194.18,170.80 194.55,171.12 194.68,171.52 C194.82,171.92 194.77,172.53 194.73,173.00 Z" stroke="#111111" stroke-width="0.6" fill="#222222"/>
<path d="M194.40,173.50 C194.40,173.96 194.35,174.45 194.26,174.88 C194.18,175.30 194.04,175.72 193.87,176.05 C193.71,176.37 193.50,176.65 193.29,176.83 C193.08,177.00 192.83,177.10 192.60,177.10 C192.37,177.10 192.12,177.00 191.91,176.83 C191.70,176.65 191.49,176.37 191.33,176.05 C191.16,175.72 191.02,175.30 190.94,174.88 C190.85,174.45 190.80,173.96 190.80,173.50 C190.80,173.04 190.85,172.55 190.94,172.12 C191.02,171.70 191.16,171.28 191.33,170.95 C191.49,170.63 191.70,170.35 191.91,170.17 C192.12,170.00 192.37,169.90 192.60,169.90 C192.83,169.90 193.08,170.00 193.29,170.17 C193.50,170.35 193.71,170.63 193.87,170.95 C194.04,171.28 194.18,171.70 194.26,172.12 C194.35,172.55 194.40,173.04 194.40,173.50 Z" stroke="#555" stroke-width="0.6" fill="#aaa"/>
<path d="M193.50,173.50 C193.50,173.73 193.48,173.98 193.43,174.19 C193.39,174.40 193.32,174.61 193.24,174.77 C193.16,174.94 193.05,175.08 192.94,175.16 C192.84,175.25 192.71,175.30 192.60,175.30 C192.49,175.30 192.36,175.25 192.26,175.16 C192.15,175.08 192.04,174.94 191.96,174.77 C191.88,174.61 191.81,174.40 191.77,174.19 C191.72,173.98 191.70,173.73 191.70,173.50 C191.70,173.27 191.72,173.02 191.77,172.81 C191.81,172.60 191.88,172.39 191.96,172.23 C192.04,172.06 192.15,171.92 192.26,171.84 C192.36,171.75 192.49,171.70 192.60,171.70 C192.71,171.70 192.84,171.75 192.94,171.84 C193.05,171.92 193.16,172.06 193.24,172.23 C193.32,172.39 193.39,172.60 193.43,172.81 C193.48,173.02 193.50,173.27 193.50,173.50 Z" stroke="none" stroke-width="0.6" fill="#ccc"/>
</g>
<rect x="199.50" y="141.00" width="20.00" height="14.60" stroke="#333" stroke-width="1.0" fill="none"/>
<text x="234.60" y="140.90" font-size="7" text-anchor="end" font-weight="bold" fill="#111" stroke="#111" stroke-width="0.3" >11</text>
<text x="263.70" y="17.40" font-size="11.4" text-anchor="start" font-weight="bold" fill="#111" stroke="#111" stroke-width="0.35" >D</text>
<line x1="274.30" y1="32.50" x2="274.30" y2="198.00" stroke="#111" stroke-width="1.3" />
<polygon points="271.50,34.50 277.10,34.50 274.30,28.50" fill="#111"/>
<line x1="274.30" y1="104.50" x2="509.50" y2="104.50" stroke="#111" stroke-width="1.3" />
<polygon points="507.50,101.70 507.50,107.30 513.50,104.50" fill="#111"/>
<line x1="274.30" y1="197.80" x2="509.50" y2="197.80" stroke="#111" stroke-width="1.3" />
<polygon points="507.50,195.00 507.50,200.60 513.50,197.80" fill="#111"/>
<text x="324.40" y="26.70" font-size="6.9" text-anchor="middle" font-weight="normal" fill="#222" stroke="#222" stroke-width="0.18" >BM Only</text>
<text x="403.50" y="18.10" font-size="6.6" text-anchor="middle" font-weight="normal" fill="#222" stroke="#222" stroke-width="0.18" >Lung</text>
<text x="403.50" y="26.70" font-size="6.9" text-anchor="middle" font-weight="normal" fill="#222" stroke="#222" stroke-width="0.18" >WT BM+Sp</text>
<text x="482.40" y="26.70" font-size="6.9" text-anchor="middle" font-weight="normal" fill="#222" stroke="#222" stroke-width="0.18" >KO BM+Sp</text>
<text x="269.30" y="74.10" font-size="7.9" text-anchor="start" textLength="15.2" lengthAdjust="spacingAndGlyphs" font-weight="bold" fill="#222" stroke="#222" stroke-width="0.1" transform="rotate(-90 269.30 74.10)">SSC-A</text>
<text x="269.30" y="159.40" font-size="7.9" text-anchor="start" textLength="23.2" lengthAdjust="spacingAndGlyphs" font-weight="bold" fill="#222" stroke="#222" stroke-width="0.1" transform="rotate(-90 269.30 159.40)">Annexin V</text>
<text x="385.10" y="114.70" font-size="7.7" font-weight="bold" textLength="12.6" lengthAdjust="spacingAndGlyphs" fill="#222" stroke="#222" stroke-width="0.1">B220</text>
<text x="384.10" y="206.70" font-size="7.7" font-weight="bold" textLength="12.8" lengthAdjust="spacingAndGlyphs" fill="#222" stroke="#222" stroke-width="0.1">7AAD</text>
<rect x="294.80" y="31.30" width="57.20" height="58.20" stroke="#8a8a8a" stroke-width="0.8" fill="none"/>
<text x="292.10" y="35.20" font-size="5.6" text-anchor="end" fill="#2e2e2e" font-weight="bold">250K</text>
<text x="292.10" y="46.26" font-size="5.6" text-anchor="end" fill="#2e2e2e" font-weight="bold">200K</text>
<text x="292.10" y="57.32" font-size="5.6" text-anchor="end" fill="#2e2e2e" font-weight="bold">150K</text>
<text x="292.10" y="68.38" font-size="5.6" text-anchor="end" fill="#2e2e2e" font-weight="bold">100K</text>
<text x="292.10" y="79.44" font-size="5.6" text-anchor="end" fill="#2e2e2e" font-weight="bold">50K</text>
<text x="291.20" y="90.50" font-size="5.6" text-anchor="end" fill="#2e2e2e" font-weight="bold">0</text>
<text x="299.72" y="100.40" font-size="5.7" text-anchor="middle" fill="#2e2e2e" font-weight="bold">0</text>
<text x="306.44" y="100.40" font-size="5.7" text-anchor="middle" letter-spacing="0.35" fill="#2e2e2e" font-weight="bold">10</text>
<text x="310.04" y="97.10" font-size="3.1" text-anchor="start" fill="#444" stroke="#444" stroke-width="0.05">2</text>
<text x="320.00" y="100.40" font-size="5.7" text-anchor="middle" letter-spacing="0.35" fill="#2e2e2e" font-weight="bold">10</text>
<text x="323.60" y="97.10" font-size="3.1" text-anchor="start" fill="#444" stroke="#444" stroke-width="0.05">3</text>
<text x="333.10" y="100.40" font-size="5.7" text-anchor="middle" letter-spacing="0.35" fill="#2e2e2e" font-weight="bold">10</text>
<text x="336.70" y="97.10" font-size="3.1" text-anchor="start" fill="#444" stroke="#444" stroke-width="0.05">4</text>
<text x="345.34" y="100.40" font-size="5.7" text-anchor="middle" letter-spacing="0.35" fill="#2e2e2e" font-weight="bold">10</text>
<text x="348.94" y="97.10" font-size="3.1" text-anchor="start" fill="#444" stroke="#444" stroke-width="0.05">5</text>
<rect x="374.80" y="31.30" width="57.00" height="58.20" stroke="#8a8a8a" stroke-width="0.8" fill="none"/>
<text x="372.10" y="35.20" font-size="5.6" text-anchor="end" fill="#2e2e2e" font-weight="bold">250K</text>
<text x="372.10" y="46.26" font-size="5.6" text-anchor="end" fill="#2e2e2e" font-weight="bold">200K</text>
<text x="372.10" y="57.32" font-size="5.6" text-anchor="end" fill="#2e2e2e" font-weight="bold">150K</text>
<text x="372.10" y="68.38" font-size="5.6" text-anchor="end" fill="#2e2e2e" font-weight="bold">100K</text>
<text x="372.10" y="79.44" font-size="5.6" text-anchor="end" fill="#2e2e2e" font-weight="bold">50K</text>
<text x="371.20" y="90.50" font-size="5.6" text-anchor="end" fill="#2e2e2e" font-weight="bold">0</text>
<text x="379.70" y="100.40" font-size="5.7" text-anchor="middle" fill="#2e2e2e" font-weight="bold">0</text>
<text x="386.40" y="100.40" font-size="5.7" text-anchor="middle" letter-spacing="0.35" fill="#2e2e2e" font-weight="bold">10</text>
<text x="390.00" y="97.10" font-size="3.1" text-anchor="start" fill="#444" stroke="#444" stroke-width="0.05">2</text>
<text x="399.91" y="100.40" font-size="5.7" text-anchor="middle" letter-spacing="0.35" fill="#2e2e2e" font-weight="bold">10</text>
<text x="403.51" y="97.10" font-size="3.1" text-anchor="start" fill="#444" stroke="#444" stroke-width="0.05">3</text>
<text x="412.96" y="100.40" font-size="5.7" text-anchor="middle" letter-spacing="0.35" fill="#2e2e2e" font-weight="bold">10</text>
<text x="416.56" y="97.10" font-size="3.1" text-anchor="start" fill="#444" stroke="#444" stroke-width="0.05">4</text>
<text x="425.16" y="100.40" font-size="5.7" text-anchor="middle" letter-spacing="0.35" fill="#2e2e2e" font-weight="bold">10</text>
<text x="428.76" y="97.10" font-size="3.1" text-anchor="start" fill="#444" stroke="#444" stroke-width="0.05">5</text>
<rect x="454.70" y="31.30" width="57.30" height="58.20" stroke="#8a8a8a" stroke-width="0.8" fill="none"/>
<text x="452.00" y="35.20" font-size="5.6" text-anchor="end" fill="#2e2e2e" font-weight="bold">250K</text>
<text x="452.00" y="46.26" font-size="5.6" text-anchor="end" fill="#2e2e2e" font-weight="bold">200K</text>
<text x="452.00" y="57.32" font-size="5.6" text-anchor="end" fill="#2e2e2e" font-weight="bold">150K</text>
<text x="452.00" y="68.38" font-size="5.6" text-anchor="end" fill="#2e2e2e" font-weight="bold">100K</text>
<text x="452.00" y="79.44" font-size="5.6" text-anchor="end" fill="#2e2e2e" font-weight="bold">50K</text>
<text x="451.10" y="90.50" font-size="5.6" text-anchor="end" fill="#2e2e2e" font-weight="bold">0</text>
<text x="459.63" y="100.40" font-size="5.7" text-anchor="middle" fill="#2e2e2e" font-weight="bold">0</text>
<text x="466.36" y="100.40" font-size="5.7" text-anchor="middle" letter-spacing="0.35" fill="#2e2e2e" font-weight="bold">10</text>
<text x="469.96" y="97.10" font-size="3.1" text-anchor="start" fill="#444" stroke="#444" stroke-width="0.05">2</text>
<text x="479.94" y="100.40" font-size="5.7" text-anchor="middle" letter-spacing="0.35" fill="#2e2e2e" font-weight="bold">10</text>
<text x="483.54" y="97.10" font-size="3.1" text-anchor="start" fill="#444" stroke="#444" stroke-width="0.05">3</text>
<text x="493.06" y="100.40" font-size="5.7" text-anchor="middle" letter-spacing="0.35" fill="#2e2e2e" font-weight="bold">10</text>
<text x="496.66" y="97.10" font-size="3.1" text-anchor="start" fill="#444" stroke="#444" stroke-width="0.05">4</text>
<text x="505.32" y="100.40" font-size="5.7" text-anchor="middle" letter-spacing="0.35" fill="#2e2e2e" font-weight="bold">10</text>
<text x="508.92" y="97.10" font-size="3.1" text-anchor="start" fill="#444" stroke="#444" stroke-width="0.05">5</text>
<path d="M294.70,179.40 L294.70,121.40 L352.00,121.40 L352.00,179.40" stroke="#8a8a8a" stroke-width="0.8" fill="none"/>
<line x1="304.70" y1="179.90" x2="346.00" y2="179.90" stroke="#999" stroke-width="0.7" stroke-dasharray="1.2 0.8"/>
<text x="290.00" y="129.68" font-size="5.7" text-anchor="end" letter-spacing="0.35" fill="#2e2e2e" font-weight="bold">10</text>
<text x="290.20" y="126.48" font-size="3.1" text-anchor="start" fill="#444" stroke="#444" stroke-width="0.05">5</text>
<line x1="293.50" y1="127.78" x2="294.70" y2="127.78" stroke="#777" stroke-width="0.6" />
<text x="290.00" y="142.44" font-size="5.7" text-anchor="end" letter-spacing="0.35" fill="#2e2e2e" font-weight="bold">10</text>
<text x="290.20" y="139.24" font-size="3.1" text-anchor="start" fill="#444" stroke="#444" stroke-width="0.05">4</text>
<line x1="293.50" y1="140.54" x2="294.70" y2="140.54" stroke="#777" stroke-width="0.6" />
<text x="290.00" y="155.78" font-size="5.7" text-anchor="end" letter-spacing="0.35" fill="#2e2e2e" font-weight="bold">10</text>
<text x="290.20" y="152.58" font-size="3.1" text-anchor="start" fill="#444" stroke="#444" stroke-width="0.05">3</text>
<line x1="293.50" y1="153.88" x2="294.70" y2="153.88" stroke="#777" stroke-width="0.6" />
<text x="290.00" y="169.70" font-size="5.7" text-anchor="end" letter-spacing="0.35" fill="#2e2e2e" font-weight="bold">10</text>
<text x="290.20" y="166.50" font-size="3.1" text-anchor="start" fill="#444" stroke="#444" stroke-width="0.05">2</text>
<line x1="293.50" y1="167.80" x2="294.70" y2="167.80" stroke="#777" stroke-width="0.6" />
<text x="291.40" y="174.92" font-size="5.7" text-anchor="end" fill="#2e2e2e" font-weight="bold">0</text>
<text x="299.63" y="191.70" font-size="5.7" text-anchor="middle" fill="#2e2e2e" font-weight="bold">0</text>
<text x="306.36" y="191.70" font-size="5.7" text-anchor="middle" letter-spacing="0.35" fill="#2e2e2e" font-weight="bold">10</text>
<text x="309.96" y="188.40" font-size="3.1" text-anchor="start" fill="#444" stroke="#444" stroke-width="0.05">2</text>
<text x="319.94" y="191.70" font-size="5.7" text-anchor="middle" letter-spacing="0.35" fill="#2e2e2e" font-weight="bold">10</text>
<text x="323.54" y="188.40" font-size="3.1" text-anchor="start" fill="#444" stroke="#444" stroke-width="0.05">3</text>
<text x="333.06" y="191.70" font-size="5.7" text-anchor="middle" letter-spacing="0.35" fill="#2e2e2e" font-weight="bold">10</text>
<text x="336.66" y="188.40" font-size="3.1" text-anchor="start" fill="#444" stroke="#444" stroke-width="0.05">4</text>
<text x="345.32" y="191.70" font-size="5.7" text-anchor="middle" letter-spacing="0.35" fill="#2e2e2e" font-weight="bold">10</text>
<text x="348.92" y="188.40" font-size="3.1" text-anchor="start" fill="#444" stroke="#444" stroke-width="0.05">5</text>
<path d="M374.80,179.40 L374.80,121.40 L432.20,121.40 L432.20,179.40" stroke="#8a8a8a" stroke-width="0.8" fill="none"/>
<line x1="384.80" y1="179.90" x2="426.20" y2="179.90" stroke="#999" stroke-width="0.7" stroke-dasharray="1.2 0.8"/>
<text x="370.10" y="129.68" font-size="5.7" text-anchor="end" letter-spacing="0.35" fill="#2e2e2e" font-weight="bold">10</text>
<text x="370.30" y="126.48" font-size="3.1" text-anchor="start" fill="#444" stroke="#444" stroke-width="0.05">5</text>
<line x1="373.60" y1="127.78" x2="374.80" y2="127.78" stroke="#777" stroke-width="0.6" />
<text x="370.10" y="142.44" font-size="5.7" text-anchor="end" letter-spacing="0.35" fill="#2e2e2e" font-weight="bold">10</text>
<text x="370.30" y="139.24" font-size="3.1" text-anchor="start" fill="#444" stroke="#444" stroke-width="0.05">4</text>
<line x1="373.60" y1="140.54" x2="374.80" y2="140.54" stroke="#777" stroke-width="0.6" />
<text x="370.10" y="155.78" font-size="5.7" text-anchor="end" letter-spacing="0.35" fill="#2e2e2e" font-weight="bold">10</text>
<text x="370.30" y="152.58" font-size="3.1" text-anchor="start" fill="#444" stroke="#444" stroke-width="0.05">3</text>
<line x1="373.60" y1="153.88" x2="374.80" y2="153.88" stroke="#777" stroke-width="0.6" />
<text x="370.10" y="169.70" font-size="5.7" text-anchor="end" letter-spacing="0.35" fill="#2e2e2e" font-weight="bold">10</text>
<text x="370.30" y="166.50" font-size="3.1" text-anchor="start" fill="#444" stroke="#444" stroke-width="0.05">2</text>
<line x1="373.60" y1="167.80" x2="374.80" y2="167.80" stroke="#777" stroke-width="0.6" />
<text x="371.50" y="174.92" font-size="5.7" text-anchor="end" fill="#2e2e2e" font-weight="bold">0</text>
<text x="379.74" y="191.70" font-size="5.7" text-anchor="middle" fill="#2e2e2e" font-weight="bold">0</text>
<text x="386.48" y="191.70" font-size="5.7" text-anchor="middle" letter-spacing="0.35" fill="#2e2e2e" font-weight="bold">10</text>
<text x="390.08" y="188.40" font-size="3.1" text-anchor="start" fill="#444" stroke="#444" stroke-width="0.05">2</text>
<text x="400.08" y="191.70" font-size="5.7" text-anchor="middle" letter-spacing="0.35" fill="#2e2e2e" font-weight="bold">10</text>
<text x="403.68" y="188.40" font-size="3.1" text-anchor="start" fill="#444" stroke="#444" stroke-width="0.05">3</text>
<text x="413.23" y="191.70" font-size="5.7" text-anchor="middle" letter-spacing="0.35" fill="#2e2e2e" font-weight="bold">10</text>
<text x="416.83" y="188.40" font-size="3.1" text-anchor="start" fill="#444" stroke="#444" stroke-width="0.05">4</text>
<text x="425.51" y="191.70" font-size="5.7" text-anchor="middle" letter-spacing="0.35" fill="#2e2e2e" font-weight="bold">10</text>
<text x="429.11" y="188.40" font-size="3.1" text-anchor="start" fill="#444" stroke="#444" stroke-width="0.05">5</text>
<path d="M454.20,179.40 L454.20,121.40 L511.70,121.40 L511.70,179.40" stroke="#8a8a8a" stroke-width="0.8" fill="none"/>
<line x1="464.20" y1="179.90" x2="505.70" y2="179.90" stroke="#999" stroke-width="0.7" stroke-dasharray="1.2 0.8"/>
<text x="449.50" y="129.68" font-size="5.7" text-anchor="end" letter-spacing="0.35" fill="#2e2e2e" font-weight="bold">10</text>
<text x="449.70" y="126.48" font-size="3.1" text-anchor="start" fill="#444" stroke="#444" stroke-width="0.05">5</text>
<line x1="453.00" y1="127.78" x2="454.20" y2="127.78" stroke="#777" stroke-width="0.6" />
<text x="449.50" y="142.44" font-size="5.7" text-anchor="end" letter-spacing="0.35" fill="#2e2e2e" font-weight="bold">10</text>
<text x="449.70" y="139.24" font-size="3.1" text-anchor="start" fill="#444" stroke="#444" stroke-width="0.05">4</text>
<line x1="453.00" y1="140.54" x2="454.20" y2="140.54" stroke="#777" stroke-width="0.6" />
<text x="449.50" y="155.78" font-size="5.7" text-anchor="end" letter-spacing="0.35" fill="#2e2e2e" font-weight="bold">10</text>
<text x="449.70" y="152.58" font-size="3.1" text-anchor="start" fill="#444" stroke="#444" stroke-width="0.05">3</text>
<line x1="453.00" y1="153.88" x2="454.20" y2="153.88" stroke="#777" stroke-width="0.6" />
<text x="449.50" y="169.70" font-size="5.7" text-anchor="end" letter-spacing="0.35" fill="#2e2e2e" font-weight="bold">10</text>
<text x="449.70" y="166.50" font-size="3.1" text-anchor="start" fill="#444" stroke="#444" stroke-width="0.05">2</text>
<line x1="453.00" y1="167.80" x2="454.20" y2="167.80" stroke="#777" stroke-width="0.6" />
<text x="450.90" y="174.92" font-size="5.7" text-anchor="end" fill="#2e2e2e" font-weight="bold">0</text>
<text x="459.14" y="191.70" font-size="5.7" text-anchor="middle" fill="#2e2e2e" font-weight="bold">0</text>
<text x="465.90" y="191.70" font-size="5.7" text-anchor="middle" letter-spacing="0.35" fill="#2e2e2e" font-weight="bold">10</text>
<text x="469.50" y="188.40" font-size="3.1" text-anchor="start" fill="#444" stroke="#444" stroke-width="0.05">2</text>
<text x="479.53" y="191.70" font-size="5.7" text-anchor="middle" letter-spacing="0.35" fill="#2e2e2e" font-weight="bold">10</text>
<text x="483.13" y="188.40" font-size="3.1" text-anchor="start" fill="#444" stroke="#444" stroke-width="0.05">3</text>
<text x="492.69" y="191.70" font-size="5.7" text-anchor="middle" letter-spacing="0.35" fill="#2e2e2e" font-weight="bold">10</text>
<text x="496.30" y="188.40" font-size="3.1" text-anchor="start" fill="#444" stroke="#444" stroke-width="0.05">4</text>
<text x="505.00" y="191.70" font-size="5.7" text-anchor="middle" letter-spacing="0.35" fill="#2e2e2e" font-weight="bold">10</text>
<text x="508.60" y="188.40" font-size="3.1" text-anchor="start" fill="#444" stroke="#444" stroke-width="0.05">5</text>
<clipPath id="c7"><rect x="294.80" y="31.30" width="57.20" height="58.20"/></clipPath><g clip-path="url(#c7)">
<path d="M321.50,31.00 C324.05,28.92 333.17,29.50 334.50,31.00 C335.83,32.50 330.42,36.50 329.50,40.00 C328.58,43.50 329.28,48.03 329.00,52.00 C328.72,55.97 328.38,60.72 327.80,63.80 C327.22,66.88 326.30,68.92 325.50,70.50 C324.70,72.08 321.58,72.72 323.00,73.30 C324.42,73.88 331.92,71.88 334.00,74.00 C336.08,76.12 338.67,83.67 335.50,86.00 C332.33,88.33 320.92,87.67 315.00,88.00 C309.08,88.33 303.25,88.33 300.00,88.00 C296.75,87.67 296.25,87.83 295.50,86.00 C294.75,84.17 295.25,79.17 295.50,77.00 C295.75,74.83 296.03,74.62 297.00,73.00 C297.97,71.38 299.38,69.63 301.30,67.30 C303.22,64.97 306.30,61.77 308.50,59.00 C310.70,56.23 312.72,53.28 314.50,50.70 C316.28,48.12 318.03,46.78 319.20,43.50 C320.37,40.22 318.95,33.08 321.50,31.00 Z" stroke="#909090" stroke-width="0.6" fill="#f6f6f6"/>
<path d="M324.5,33 C323,40 322.5,46 324,52" stroke="#999" stroke-width="0.6" fill="none"/>
<path d="M335.27,31.50 C335.30,31.94 334.83,32.43 334.40,32.83 C333.97,33.22 333.35,33.56 332.71,33.85 C332.07,34.15 331.34,34.43 330.55,34.58 C329.77,34.73 328.86,34.75 328.00,34.77 C327.14,34.78 326.24,34.78 325.38,34.67 C324.51,34.55 323.44,34.40 322.82,34.09 C322.20,33.78 321.86,33.24 321.67,32.81 C321.48,32.38 321.64,31.93 321.67,31.50 C321.70,31.07 321.60,30.63 321.84,30.22 C322.07,29.81 322.51,29.37 323.09,29.05 C323.68,28.72 324.53,28.48 325.35,28.30 C326.17,28.12 327.13,27.95 328.00,27.97 C328.87,27.98 329.84,28.17 330.58,28.38 C331.32,28.60 331.83,28.98 332.44,29.28 C333.05,29.59 333.76,29.84 334.23,30.21 C334.71,30.58 335.24,31.06 335.27,31.50 Z" stroke="#888" stroke-width="0.6" fill="#c8c8c8"/>
<path d="M332.36,31.50 C332.38,31.76 332.10,32.06 331.84,32.30 C331.58,32.53 331.21,32.74 330.82,32.91 C330.44,33.09 330.00,33.26 329.53,33.35 C329.06,33.44 328.52,33.45 328.00,33.46 C327.48,33.47 326.94,33.47 326.43,33.40 C325.91,33.33 325.26,33.24 324.89,33.05 C324.52,32.87 324.32,32.55 324.20,32.29 C324.09,32.03 324.19,31.76 324.20,31.50 C324.22,31.24 324.16,30.98 324.30,30.73 C324.44,30.49 324.70,30.22 325.05,30.03 C325.41,29.83 325.92,29.69 326.41,29.58 C326.90,29.47 327.48,29.37 328.00,29.38 C328.52,29.39 329.10,29.50 329.55,29.63 C329.99,29.76 330.30,29.99 330.66,30.17 C331.03,30.35 331.46,30.50 331.74,30.73 C332.02,30.95 332.35,31.24 332.36,31.50 Z" stroke="#777" stroke-width="0.6" fill="#aaa"/>
<path d="M296.00,76.00 C296.90,73.33 299.17,70.67 301.00,68.00 C302.83,65.33 305.17,62.50 307.00,60.00 C308.83,57.50 310.33,54.92 312.00,53.00 C313.67,51.08 315.33,49.17 317.00,48.50 C318.67,47.83 320.58,47.92 322.00,49.00 C323.42,50.08 324.83,52.67 325.50,55.00 C326.17,57.33 326.17,60.50 326.00,63.00 C325.83,65.50 325.08,68.25 324.50,70.00 C323.92,71.75 321.00,72.80 322.50,73.50 C324.00,74.20 331.50,72.12 333.50,74.20 C335.50,76.28 337.58,83.78 334.50,86.00 C331.42,88.22 321.25,87.25 315.00,87.50 C308.75,87.75 300.23,88.08 297.00,87.50 C293.77,86.92 295.77,85.92 295.60,84.00 C295.43,82.08 295.10,78.67 296.00,76.00 Z" stroke="#8c8c8c" stroke-width="0.6" fill="#eeeeee"/>
<path d="M299.06,75.28 C299.80,73.09 301.66,70.91 303.16,68.72 C304.66,66.53 306.58,64.21 308.08,62.16 C309.58,60.11 310.81,57.99 312.18,56.42 C313.55,54.85 314.91,53.28 316.28,52.73 C317.65,52.18 319.22,52.25 320.38,53.14 C321.54,54.03 322.70,56.15 323.25,58.06 C323.80,59.97 323.80,62.57 323.66,64.62 C323.52,66.67 322.91,68.92 322.43,70.36 C321.95,71.80 319.56,72.66 320.79,73.23 C322.02,73.80 328.17,72.10 329.81,73.80 C331.45,75.51 333.16,81.66 330.63,83.48 C328.10,85.30 319.76,84.50 314.64,84.71 C309.51,84.91 302.53,85.19 299.88,84.71 C297.23,84.23 298.87,83.41 298.73,81.84 C298.60,80.27 298.32,77.47 299.06,75.28 Z" stroke="#888" stroke-width="0.6" fill="#e2e2e2"/>
<path d="M302.12,74.56 C302.70,72.85 304.15,71.15 305.32,69.44 C306.49,67.73 307.99,65.92 309.16,64.32 C310.33,62.72 311.29,61.07 312.36,59.84 C313.43,58.61 314.49,57.39 315.56,56.96 C316.63,56.53 317.85,56.59 318.76,57.28 C319.67,57.97 320.57,59.63 321.00,61.12 C321.43,62.61 321.43,64.64 321.32,66.24 C321.21,67.84 320.73,69.60 320.36,70.72 C319.99,71.84 318.12,72.51 319.08,72.96 C320.04,73.41 324.84,72.07 326.12,73.41 C327.40,74.74 328.73,79.54 326.76,80.96 C324.79,82.38 318.28,81.76 314.28,81.92 C310.28,82.08 304.83,82.29 302.76,81.92 C300.69,81.55 301.97,80.91 301.86,79.68 C301.76,78.45 301.54,76.27 302.12,74.56 Z" stroke="#888" stroke-width="0.6" fill="#d6d6d6"/>
<path d="M305.18,73.84 C305.59,72.61 306.64,71.39 307.48,70.16 C308.32,68.93 309.40,67.63 310.24,66.48 C311.08,65.33 311.77,64.14 312.54,63.26 C313.31,62.38 314.07,61.50 314.84,61.19 C315.61,60.88 316.49,60.92 317.14,61.42 C317.79,61.92 318.44,63.11 318.75,64.18 C319.06,65.25 319.06,66.71 318.98,67.86 C318.90,69.01 318.56,70.28 318.29,71.08 C318.02,71.88 316.68,72.37 317.37,72.69 C318.06,73.01 321.51,72.05 322.43,73.01 C323.35,73.97 324.31,77.42 322.89,78.44 C321.47,79.46 316.80,79.02 313.92,79.13 C311.05,79.24 307.13,79.40 305.64,79.13 C304.15,78.86 305.07,78.40 305.00,77.52 C304.92,76.64 304.77,75.07 305.18,73.84 Z" stroke="#888" stroke-width="0.6" fill="#cccccc"/>
<path d="M319.62,64.45 C319.44,65.69 319.10,66.90 318.73,67.97 C318.35,69.04 317.90,70.12 317.38,70.86 C316.85,71.60 316.19,71.97 315.58,72.40 C314.96,72.84 314.34,73.31 313.67,73.48 C313.00,73.64 312.14,73.88 311.58,73.38 C311.02,72.89 310.59,71.57 310.32,70.50 C310.05,69.43 310.07,68.13 309.96,66.97 C309.85,65.82 309.62,64.75 309.66,63.58 C309.69,62.40 309.85,61.04 310.16,59.92 C310.47,58.80 310.98,57.75 311.50,56.86 C312.03,55.97 312.66,54.97 313.29,54.58 C313.93,54.20 314.72,54.27 315.33,54.55 C315.93,54.82 316.39,55.70 316.92,56.23 C317.45,56.76 318.05,57.02 318.53,57.73 C319.01,58.45 319.61,59.42 319.79,60.54 C319.97,61.66 319.79,63.21 319.62,64.45 Z" stroke="#999" stroke-width="0.6" fill="#e6e6e6"/>
<path d="M318.59,64.36 C318.45,65.35 318.18,66.32 317.88,67.18 C317.58,68.03 317.22,68.90 316.80,69.49 C316.38,70.08 315.86,70.37 315.36,70.72 C314.87,71.07 314.37,71.45 313.84,71.58 C313.30,71.71 312.61,71.90 312.16,71.51 C311.71,71.11 311.37,70.06 311.15,69.20 C310.94,68.35 310.95,67.30 310.86,66.38 C310.78,65.46 310.60,64.60 310.62,63.66 C310.65,62.72 310.78,61.63 311.03,60.74 C311.27,59.84 311.68,59.00 312.10,58.29 C312.52,57.57 313.03,56.77 313.54,56.47 C314.04,56.16 314.68,56.22 315.16,56.44 C315.64,56.66 316.01,57.36 316.44,57.78 C316.86,58.21 317.34,58.41 317.73,58.99 C318.11,59.56 318.59,60.33 318.73,61.23 C318.88,62.12 318.74,63.37 318.59,64.36 Z" stroke="#999" stroke-width="0.6" fill="#d8d8d8"/>
<path d="M318.66,64.36 C318.51,65.37 318.24,66.36 317.93,67.23 C317.63,68.09 317.26,68.97 316.84,69.57 C316.41,70.17 315.88,70.47 315.37,70.83 C314.87,71.18 314.37,71.57 313.83,71.70 C313.28,71.83 312.58,72.03 312.13,71.62 C311.67,71.22 311.32,70.15 311.10,69.28 C310.88,68.41 310.90,67.35 310.81,66.42 C310.72,65.48 310.54,64.61 310.56,63.66 C310.59,62.70 310.72,61.60 310.97,60.69 C311.22,59.78 311.64,58.92 312.07,58.20 C312.49,57.47 313.00,56.66 313.52,56.35 C314.04,56.04 314.68,56.10 315.17,56.32 C315.66,56.54 316.03,57.26 316.47,57.69 C316.90,58.12 317.39,58.33 317.78,58.91 C318.17,59.49 318.65,60.28 318.80,61.19 C318.95,62.09 318.80,63.36 318.66,64.36 Z" stroke="#666666" stroke-width="0.6" fill="#999999"/>
<path d="M317.70,64.28 C317.59,65.05 317.38,65.81 317.14,66.48 C316.91,67.15 316.63,67.82 316.30,68.29 C315.97,68.75 315.56,68.98 315.17,69.25 C314.79,69.52 314.40,69.82 313.98,69.92 C313.57,70.03 313.02,70.18 312.67,69.87 C312.32,69.55 312.05,68.73 311.89,68.06 C311.72,67.40 311.73,66.58 311.66,65.86 C311.59,65.14 311.45,64.47 311.47,63.74 C311.49,63.00 311.59,62.15 311.79,61.45 C311.98,60.75 312.30,60.09 312.63,59.54 C312.95,58.98 313.35,58.35 313.75,58.11 C314.14,57.87 314.64,57.92 315.02,58.09 C315.39,58.27 315.68,58.81 316.01,59.14 C316.35,59.48 316.72,59.63 317.02,60.08 C317.32,60.53 317.70,61.14 317.81,61.83 C317.92,62.53 317.81,63.51 317.70,64.28 Z" stroke="#555555" stroke-width="0.6" fill="#828282"/>
<path d="M316.74,64.20 C316.66,64.74 316.51,65.27 316.35,65.74 C316.19,66.20 315.99,66.68 315.76,67.00 C315.53,67.32 315.24,67.48 314.97,67.68 C314.70,67.87 314.43,68.07 314.14,68.15 C313.85,68.22 313.47,68.32 313.22,68.11 C312.98,67.89 312.79,67.31 312.67,66.84 C312.55,66.38 312.56,65.81 312.51,65.30 C312.46,64.80 312.37,64.33 312.38,63.81 C312.40,63.30 312.47,62.71 312.60,62.22 C312.73,61.73 312.96,61.26 313.19,60.88 C313.42,60.49 313.69,60.05 313.97,59.88 C314.25,59.71 314.60,59.75 314.86,59.87 C315.13,59.99 315.32,60.37 315.56,60.60 C315.79,60.83 316.05,60.94 316.26,61.26 C316.47,61.57 316.74,61.99 316.82,62.48 C316.89,62.97 316.82,63.65 316.74,64.20 Z" stroke="#444444" stroke-width="0.6" fill="#6b6b6b"/>
<path d="M315.78,64.11 C315.73,64.42 315.65,64.73 315.56,64.99 C315.46,65.26 315.35,65.53 315.22,65.71 C315.09,65.90 314.92,65.99 314.77,66.10 C314.61,66.21 314.46,66.33 314.29,66.37 C314.13,66.41 313.91,66.47 313.77,66.35 C313.63,66.22 313.52,65.89 313.45,65.63 C313.39,65.36 313.39,65.03 313.36,64.74 C313.34,64.45 313.28,64.19 313.29,63.89 C313.30,63.60 313.34,63.26 313.41,62.98 C313.49,62.70 313.62,62.44 313.75,62.21 C313.88,61.99 314.04,61.74 314.20,61.65 C314.36,61.55 314.56,61.57 314.71,61.64 C314.86,61.71 314.97,61.93 315.10,62.06 C315.24,62.19 315.39,62.25 315.51,62.43 C315.63,62.61 315.78,62.85 315.82,63.13 C315.87,63.41 315.82,63.80 315.78,64.11 Z" stroke="#333333" stroke-width="0.6" fill="#555555"/>
<path d="M314.29,78.80 C314.24,79.42 314.08,80.08 313.71,80.61 C313.34,81.14 312.67,81.54 312.10,81.97 C311.52,82.40 310.98,82.85 310.27,83.20 C309.55,83.55 308.64,84.03 307.80,84.05 C306.96,84.08 305.96,83.70 305.25,83.35 C304.53,83.00 304.06,82.43 303.51,81.96 C302.97,81.50 302.35,81.11 301.98,80.58 C301.60,80.05 301.34,79.41 301.29,78.80 C301.24,78.19 301.43,77.54 301.70,76.93 C301.97,76.33 302.30,75.62 302.90,75.18 C303.50,74.75 304.48,74.45 305.29,74.33 C306.11,74.21 306.98,74.43 307.80,74.45 C308.62,74.48 309.40,74.36 310.22,74.48 C311.04,74.60 312.08,74.77 312.71,75.18 C313.33,75.58 313.72,76.30 313.99,76.91 C314.25,77.51 314.34,78.18 314.29,78.80 Z" stroke="#555555" stroke-width="0.6" fill="#888888"/>
<path d="M313.58,78.80 C313.53,79.35 313.39,79.94 313.06,80.41 C312.73,80.88 312.13,81.24 311.62,81.62 C311.11,82.01 310.63,82.41 310.00,82.72 C309.36,83.03 308.54,83.45 307.80,83.47 C307.06,83.50 306.16,83.16 305.53,82.85 C304.89,82.54 304.47,82.03 303.99,81.62 C303.50,81.21 302.95,80.86 302.62,80.39 C302.29,79.92 302.05,79.34 302.01,78.80 C301.96,78.26 302.13,77.68 302.37,77.14 C302.61,76.60 302.91,75.97 303.44,75.58 C303.98,75.20 304.84,74.93 305.57,74.82 C306.30,74.71 307.07,74.91 307.80,74.93 C308.53,74.95 309.23,74.85 309.95,74.96 C310.68,75.07 311.61,75.22 312.17,75.58 C312.73,75.93 313.07,76.58 313.31,77.12 C313.54,77.65 313.62,78.25 313.58,78.80 Z" stroke="#474747" stroke-width="0.6" fill="#727272"/>
<path d="M312.86,78.80 C312.83,79.28 312.69,79.80 312.41,80.21 C312.12,80.62 311.60,80.94 311.15,81.27 C310.70,81.61 310.28,81.96 309.73,82.23 C309.17,82.50 308.45,82.88 307.80,82.90 C307.15,82.92 306.37,82.62 305.81,82.35 C305.25,82.08 304.88,81.63 304.46,81.27 C304.03,80.91 303.55,80.60 303.26,80.19 C302.97,79.78 302.76,79.27 302.72,78.80 C302.69,78.33 302.83,77.81 303.04,77.34 C303.25,76.87 303.51,76.32 303.98,75.98 C304.45,75.64 305.21,75.41 305.85,75.31 C306.48,75.22 307.16,75.39 307.80,75.41 C308.44,75.43 309.05,75.34 309.69,75.43 C310.33,75.53 311.14,75.66 311.63,75.97 C312.12,76.29 312.42,76.85 312.62,77.32 C312.83,77.80 312.90,78.32 312.86,78.80 Z" stroke="#393939" stroke-width="0.6" fill="#5c5c5c"/>
<path d="M312.15,78.80 C312.12,79.21 312.00,79.66 311.76,80.01 C311.51,80.37 311.06,80.64 310.68,80.93 C310.29,81.22 309.93,81.52 309.45,81.75 C308.97,81.98 308.36,82.30 307.80,82.32 C307.24,82.34 306.57,82.08 306.09,81.85 C305.61,81.62 305.29,81.23 304.93,80.92 C304.56,80.61 304.15,80.35 303.90,79.99 C303.65,79.64 303.47,79.21 303.44,78.80 C303.41,78.39 303.53,77.95 303.71,77.55 C303.89,77.15 304.12,76.67 304.52,76.38 C304.92,76.09 305.57,75.89 306.12,75.81 C306.67,75.72 307.25,75.87 307.80,75.89 C308.35,75.90 308.87,75.83 309.42,75.91 C309.97,75.99 310.67,76.10 311.09,76.37 C311.51,76.64 311.77,77.13 311.94,77.53 C312.12,77.94 312.18,78.39 312.15,78.80 Z" stroke="#2c2c2c" stroke-width="0.6" fill="#464646"/>
<path d="M311.43,78.80 C311.41,79.15 311.31,79.52 311.11,79.81 C310.90,80.11 310.53,80.33 310.21,80.58 C309.88,80.82 309.58,81.07 309.18,81.26 C308.78,81.46 308.27,81.73 307.80,81.74 C307.33,81.75 306.77,81.54 306.37,81.35 C305.97,81.15 305.71,80.83 305.40,80.57 C305.09,80.31 304.75,80.09 304.54,79.80 C304.33,79.50 304.18,79.14 304.15,78.80 C304.13,78.46 304.23,78.09 304.38,77.76 C304.53,77.42 304.72,77.02 305.06,76.78 C305.39,76.53 305.94,76.37 306.40,76.30 C306.85,76.23 307.34,76.35 307.80,76.36 C308.26,76.38 308.70,76.32 309.16,76.38 C309.61,76.45 310.20,76.54 310.55,76.77 C310.90,77.00 311.12,77.40 311.26,77.74 C311.41,78.08 311.46,78.45 311.43,78.80 Z" stroke="#1e1e1e" stroke-width="0.6" fill="#303030"/>
<path d="M310.72,78.80 C310.70,79.08 310.62,79.38 310.46,79.61 C310.29,79.85 309.99,80.03 309.73,80.23 C309.48,80.42 309.23,80.62 308.91,80.78 C308.59,80.94 308.18,81.15 307.80,81.16 C307.42,81.17 306.97,81.01 306.65,80.85 C306.33,80.69 306.12,80.43 305.87,80.22 C305.63,80.02 305.35,79.84 305.18,79.60 C305.01,79.36 304.89,79.07 304.87,78.80 C304.85,78.53 304.93,78.23 305.05,77.96 C305.18,77.69 305.33,77.37 305.60,77.17 C305.87,76.98 306.30,76.84 306.67,76.79 C307.04,76.73 307.43,76.83 307.80,76.84 C308.17,76.85 308.52,76.80 308.89,76.86 C309.26,76.91 309.73,76.99 310.01,77.17 C310.29,77.35 310.46,77.68 310.58,77.95 C310.70,78.22 310.74,78.52 310.72,78.80 Z" stroke="#111111" stroke-width="0.6" fill="#1a1a1a"/>
<path d="M310.40,78.30 C310.40,78.49 310.33,78.70 310.20,78.87 C310.08,79.05 309.87,79.23 309.64,79.36 C309.40,79.50 309.10,79.61 308.79,79.69 C308.49,79.76 308.13,79.80 307.80,79.80 C307.47,79.80 307.11,79.76 306.81,79.69 C306.50,79.61 306.20,79.50 305.96,79.36 C305.73,79.23 305.52,79.05 305.40,78.87 C305.27,78.70 305.20,78.49 305.20,78.30 C305.20,78.11 305.27,77.90 305.40,77.73 C305.52,77.55 305.73,77.37 305.96,77.24 C306.20,77.10 306.50,76.99 306.81,76.91 C307.11,76.84 307.47,76.80 307.80,76.80 C308.13,76.80 308.49,76.84 308.79,76.91 C309.10,76.99 309.40,77.10 309.64,77.24 C309.87,77.37 310.08,77.55 310.20,77.73 C310.33,77.90 310.40,78.11 310.40,78.30 Z" stroke="none" stroke-width="0.6" fill="#eee"/>
<path d="M332.73,79.50 C332.64,80.15 332.07,80.77 331.64,81.37 C331.21,81.97 330.80,82.57 330.13,83.12 C329.46,83.67 328.65,84.38 327.63,84.67 C326.60,84.96 325.14,84.95 324.00,84.85 C322.86,84.75 321.81,84.37 320.79,84.07 C319.78,83.78 318.75,83.52 317.94,83.08 C317.13,82.65 316.41,82.07 315.94,81.47 C315.47,80.88 315.22,80.18 315.13,79.50 C315.04,78.82 314.95,78.01 315.38,77.39 C315.81,76.77 316.77,76.16 317.69,75.77 C318.61,75.38 319.84,75.28 320.89,75.06 C321.94,74.84 322.89,74.55 324.00,74.45 C325.11,74.35 326.47,74.25 327.53,74.46 C328.59,74.68 329.60,75.22 330.38,75.73 C331.16,76.23 331.81,76.86 332.20,77.49 C332.59,78.12 332.82,78.85 332.73,79.50 Z" stroke="#999" stroke-width="0.6" fill="#ececec"/>
<path d="M330.98,79.50 C330.91,80.02 330.46,80.51 330.11,81.00 C329.77,81.48 329.44,81.96 328.91,82.40 C328.37,82.84 327.72,83.41 326.90,83.64 C326.08,83.87 324.91,83.86 324.00,83.78 C323.09,83.70 322.24,83.39 321.44,83.16 C320.63,82.92 319.80,82.71 319.15,82.37 C318.50,82.02 317.93,81.56 317.55,81.08 C317.18,80.60 316.98,80.04 316.90,79.50 C316.83,78.96 316.76,78.31 317.11,77.81 C317.45,77.32 318.22,76.83 318.95,76.52 C319.69,76.21 320.67,76.13 321.51,75.95 C322.35,75.77 323.11,75.54 324.00,75.46 C324.89,75.38 325.97,75.30 326.82,75.47 C327.68,75.64 328.48,76.08 329.11,76.48 C329.73,76.89 330.25,77.39 330.56,77.89 C330.87,78.40 331.06,78.98 330.98,79.50 Z" stroke="#888" stroke-width="0.6" fill="#d6d6d6"/>
<path d="M329.24,79.50 C329.18,79.89 328.84,80.26 328.59,80.62 C328.33,80.98 328.08,81.34 327.68,81.67 C327.28,82.00 326.79,82.43 326.18,82.60 C325.56,82.78 324.68,82.77 324.00,82.71 C323.32,82.65 322.68,82.42 322.08,82.24 C321.47,82.07 320.85,81.91 320.36,81.65 C319.88,81.39 319.44,81.04 319.16,80.68 C318.88,80.33 318.73,79.91 318.68,79.50 C318.62,79.09 318.57,78.61 318.83,78.23 C319.08,77.86 319.66,77.50 320.21,77.26 C320.76,77.03 321.50,76.97 322.13,76.84 C322.77,76.71 323.34,76.53 324.00,76.47 C324.66,76.41 325.48,76.35 326.12,76.48 C326.76,76.61 327.36,76.93 327.83,77.24 C328.30,77.54 328.68,77.92 328.92,78.30 C329.15,78.67 329.29,79.11 329.24,79.50 Z" stroke="#777" stroke-width="0.6" fill="#c0c0c0"/>
<path d="M327.49,79.50 C327.45,79.76 327.23,80.01 327.06,80.25 C326.88,80.49 326.72,80.73 326.45,80.95 C326.19,81.17 325.86,81.45 325.45,81.57 C325.04,81.68 324.46,81.68 324.00,81.64 C323.54,81.60 323.12,81.45 322.72,81.33 C322.31,81.21 321.90,81.11 321.58,80.93 C321.25,80.76 320.96,80.53 320.78,80.29 C320.59,80.05 320.49,79.77 320.45,79.50 C320.41,79.23 320.38,78.90 320.55,78.66 C320.72,78.41 321.11,78.16 321.48,78.01 C321.84,77.85 322.34,77.81 322.76,77.73 C323.18,77.64 323.56,77.52 324.00,77.48 C324.44,77.44 324.99,77.40 325.41,77.49 C325.84,77.57 326.24,77.79 326.55,77.99 C326.86,78.19 327.12,78.45 327.28,78.70 C327.44,78.95 327.53,79.24 327.49,79.50 Z" stroke="#666" stroke-width="0.6" fill="#a8a8a8"/>
<path d="M316.5,83 C320,81.2 328,81.2 331.5,83 C330,84.6 318,84.6 316.5,83 Z" fill="#333" stroke="#444" stroke-width="0.6"/>
</g>
<rect x="314.50" y="72.90" width="19.20" height="12.60" stroke="#333" stroke-width="1.0" fill="none"/>
<text x="344.30" y="88.90" font-size="7" text-anchor="end" font-weight="bold" fill="#111" stroke="#111" stroke-width="0.3" >29</text>
<clipPath id="c8"><rect x="374.80" y="31.30" width="57.00" height="58.20"/></clipPath><g clip-path="url(#c8)">
<path d="M421.62,32.30 C421.66,32.58 420.88,32.90 420.02,33.15 C419.16,33.41 417.86,33.64 416.47,33.84 C415.08,34.03 413.42,34.21 411.67,34.31 C409.93,34.41 407.91,34.44 406.00,34.45 C404.09,34.45 402.08,34.43 400.23,34.34 C398.38,34.26 396.26,34.13 394.90,33.93 C393.54,33.73 392.62,33.42 392.08,33.15 C391.53,32.87 391.59,32.58 391.62,32.30 C391.66,32.02 391.69,31.73 392.30,31.47 C392.91,31.21 393.94,30.93 395.26,30.72 C396.57,30.52 398.40,30.36 400.19,30.24 C401.98,30.13 404.08,30.04 406.00,30.05 C407.92,30.05 410.03,30.15 411.71,30.28 C413.40,30.41 414.77,30.62 416.12,30.82 C417.46,31.01 418.88,31.21 419.79,31.46 C420.71,31.71 421.59,32.02 421.62,32.30 Z" stroke="#999" stroke-width="0.6" fill="#d8d8d8"/>
<path d="M415.37,32.30 C415.40,32.47 414.93,32.66 414.41,32.81 C413.89,32.96 413.12,33.11 412.28,33.22 C411.45,33.34 410.45,33.44 409.40,33.51 C408.36,33.57 407.14,33.59 406.00,33.59 C404.86,33.59 403.65,33.58 402.54,33.53 C401.43,33.47 400.16,33.40 399.34,33.28 C398.53,33.16 397.97,32.97 397.65,32.81 C397.32,32.64 397.35,32.47 397.37,32.30 C397.40,32.13 397.42,31.96 397.78,31.80 C398.14,31.64 398.77,31.48 399.56,31.35 C400.34,31.23 401.44,31.13 402.52,31.07 C403.59,31.00 404.85,30.95 406.00,30.95 C407.15,30.95 408.42,31.01 409.43,31.09 C410.44,31.16 411.26,31.29 412.07,31.41 C412.88,31.53 413.73,31.65 414.28,31.80 C414.83,31.95 415.35,32.13 415.37,32.30 Z" stroke="#999" stroke-width="0.6" fill="#c4c4c4"/>
<path d="M374.50,56.60 C375.75,53.43 379.43,52.60 382.00,51.00 C384.57,49.40 387.57,48.50 389.90,47.00 C392.23,45.50 394.02,43.25 396.00,42.00 C397.98,40.75 399.63,39.05 401.80,39.50 C403.97,39.95 407.60,42.45 409.00,44.70 C410.40,46.95 410.45,50.45 410.20,53.00 C409.95,55.55 408.30,57.80 407.50,60.00 C406.70,62.20 406.35,64.03 405.40,66.20 C404.45,68.37 400.70,71.78 401.80,73.00 C402.90,74.22 409.97,71.33 412.00,73.50 C414.03,75.67 416.83,83.58 414.00,86.00 C411.17,88.42 401.50,87.67 395.00,88.00 C388.50,88.33 378.42,91.00 375.00,88.00 C371.58,85.00 374.58,75.23 374.50,70.00 C374.42,64.77 373.25,59.77 374.50,56.60 Z" stroke="#909090" stroke-width="0.6" fill="#f6f6f6"/>
<path d="M376.68,58.91 C377.74,56.22 380.87,55.51 383.05,54.15 C385.23,52.79 387.78,52.02 389.76,50.75 C391.75,49.48 393.26,47.56 394.95,46.50 C396.64,45.44 398.04,43.99 399.88,44.38 C401.72,44.76 404.81,46.88 406.00,48.80 C407.19,50.71 407.23,53.68 407.02,55.85 C406.81,58.02 405.41,59.93 404.73,61.80 C404.05,63.67 403.75,65.23 402.94,67.07 C402.13,68.91 398.94,71.82 399.88,72.85 C400.81,73.88 406.82,71.43 408.55,73.28 C410.28,75.12 412.66,81.85 410.25,83.90 C407.84,85.95 399.62,85.32 394.10,85.60 C388.58,85.88 380.00,88.15 377.10,85.60 C374.20,83.05 376.75,74.75 376.68,70.30 C376.60,65.85 375.61,61.60 376.68,58.91 Z" stroke="#8c8c8c" stroke-width="0.6" fill="#ececec"/>
<path d="M378.85,61.22 C379.73,59.00 382.30,58.42 384.10,57.30 C385.90,56.18 388.00,55.55 389.63,54.50 C391.26,53.45 392.51,51.88 393.90,51.00 C395.29,50.12 396.44,48.94 397.96,49.25 C399.48,49.56 402.02,51.31 403.00,52.89 C403.98,54.47 404.01,56.92 403.84,58.70 C403.66,60.48 402.51,62.06 401.95,63.60 C401.39,65.14 401.14,66.42 400.48,67.94 C399.81,69.46 397.19,71.85 397.96,72.70 C398.73,73.55 403.68,71.53 405.10,73.05 C406.52,74.57 408.48,80.11 406.50,81.80 C404.52,83.49 397.75,82.97 393.20,83.20 C388.65,83.43 381.59,85.30 379.20,83.20 C376.81,81.10 378.91,74.26 378.85,70.60 C378.79,66.94 377.98,63.44 378.85,61.22 Z" stroke="#888" stroke-width="0.6" fill="#e2e2e2"/>
<path d="M381.02,63.53 C381.71,61.79 383.74,61.33 385.15,60.45 C386.56,59.57 388.21,59.08 389.50,58.25 C390.78,57.42 391.76,56.19 392.85,55.50 C393.94,54.81 394.85,53.88 396.04,54.12 C397.23,54.37 399.23,55.75 400.00,56.98 C400.77,58.22 400.80,60.15 400.66,61.55 C400.52,62.95 399.62,64.19 399.18,65.40 C398.74,66.61 398.54,67.62 398.02,68.81 C397.50,70.00 395.44,71.88 396.04,72.55 C396.65,73.22 400.53,71.63 401.65,72.83 C402.77,74.02 404.31,78.37 402.75,79.70 C401.19,81.03 395.88,80.62 392.30,80.80 C388.73,80.98 383.18,82.45 381.30,80.80 C379.42,79.15 381.07,73.78 381.02,70.90 C380.98,68.02 380.34,65.27 381.02,63.53 Z" stroke="#888" stroke-width="0.6" fill="#d8d8d8"/>
<path d="M383.20,65.84 C383.70,64.57 385.17,64.24 386.20,63.60 C387.23,62.96 388.43,62.60 389.36,62.00 C390.29,61.40 391.01,60.50 391.80,60.00 C392.59,59.50 393.25,58.82 394.12,59.00 C394.99,59.18 396.44,60.18 397.00,61.08 C397.56,61.98 397.58,63.38 397.48,64.40 C397.38,65.42 396.72,66.32 396.40,67.20 C396.08,68.08 395.94,68.81 395.56,69.68 C395.18,70.55 393.68,71.91 394.12,72.40 C394.56,72.89 397.39,71.73 398.20,72.60 C399.01,73.47 400.13,76.63 399.00,77.60 C397.87,78.57 394.00,78.27 391.40,78.40 C388.80,78.53 384.77,79.60 383.40,78.40 C382.03,77.20 383.23,73.29 383.20,71.20 C383.17,69.11 382.70,67.11 383.20,65.84 Z" stroke="#888" stroke-width="0.6" fill="#d0d0d0"/>
<path d="M399.07,64.67 C398.98,66.05 398.94,67.35 398.72,68.75 C398.51,70.15 398.30,72.02 397.78,73.07 C397.27,74.13 396.35,74.77 395.63,75.07 C394.91,75.37 394.15,75.02 393.45,74.87 C392.75,74.71 392.05,74.65 391.45,74.14 C390.84,73.63 390.26,72.77 389.80,71.80 C389.34,70.84 388.98,69.63 388.69,68.35 C388.41,67.06 388.03,65.51 388.08,64.09 C388.14,62.67 388.56,60.97 389.02,59.81 C389.47,58.65 390.25,58.01 390.83,57.13 C391.41,56.25 391.86,55.26 392.49,54.55 C393.12,53.85 393.90,52.98 394.60,52.90 C395.31,52.81 396.08,53.43 396.71,54.06 C397.34,54.69 397.95,55.61 398.38,56.68 C398.81,57.74 399.17,59.14 399.28,60.47 C399.40,61.80 399.16,63.29 399.07,64.67 Z" stroke="#999" stroke-width="0.6" fill="#e6e6e6"/>
<path d="M397.80,64.60 C397.73,65.63 397.70,66.61 397.54,67.66 C397.38,68.71 397.22,70.11 396.84,70.90 C396.45,71.69 395.77,72.18 395.22,72.40 C394.68,72.63 394.11,72.37 393.59,72.25 C393.07,72.13 392.54,72.09 392.08,71.70 C391.63,71.32 391.19,70.68 390.85,69.95 C390.51,69.23 390.23,68.32 390.02,67.36 C389.81,66.40 389.52,65.23 389.56,64.17 C389.60,63.10 389.92,61.83 390.26,60.96 C390.61,60.09 391.19,59.60 391.62,58.95 C392.06,58.29 392.40,57.54 392.87,57.01 C393.34,56.49 393.92,55.83 394.45,55.77 C394.98,55.71 395.56,56.17 396.03,56.65 C396.51,57.12 396.96,57.81 397.29,58.61 C397.61,59.41 397.88,60.45 397.96,61.45 C398.05,62.45 397.87,63.56 397.80,64.60 Z" stroke="#999" stroke-width="0.6" fill="#d6d6d6"/>
<path d="M396.67,64.54 C396.59,65.25 396.44,65.94 396.26,66.56 C396.08,67.17 395.86,67.80 395.60,68.23 C395.34,68.66 395.01,68.89 394.69,69.15 C394.38,69.41 394.06,69.69 393.72,69.80 C393.37,69.91 392.93,70.06 392.63,69.79 C392.33,69.52 392.08,68.79 391.93,68.18 C391.77,67.58 391.76,66.84 391.68,66.19 C391.61,65.54 391.48,64.94 391.47,64.27 C391.47,63.60 391.54,62.82 391.68,62.18 C391.82,61.54 392.07,60.93 392.33,60.41 C392.59,59.89 392.90,59.31 393.23,59.08 C393.55,58.85 393.96,58.87 394.28,59.02 C394.60,59.16 394.85,59.64 395.14,59.93 C395.42,60.22 395.74,60.35 396.00,60.75 C396.26,61.15 396.59,61.68 396.70,62.31 C396.81,62.95 396.74,63.83 396.67,64.54 Z" stroke="#555555" stroke-width="0.6" fill="#777777"/>
<path d="M396.20,64.52 C396.14,65.10 396.01,65.67 395.86,66.18 C395.72,66.69 395.54,67.20 395.32,67.56 C395.11,67.92 394.83,68.10 394.57,68.32 C394.31,68.53 394.05,68.77 393.77,68.86 C393.48,68.94 393.11,69.07 392.87,68.85 C392.62,68.63 392.42,68.02 392.29,67.52 C392.16,67.03 392.15,66.42 392.09,65.88 C392.03,65.34 391.92,64.84 391.92,64.29 C391.92,63.74 391.97,63.10 392.08,62.57 C392.20,62.04 392.41,61.54 392.62,61.11 C392.84,60.68 393.09,60.20 393.36,60.01 C393.63,59.82 393.97,59.84 394.23,59.96 C394.50,60.08 394.70,60.48 394.94,60.72 C395.17,60.95 395.43,61.06 395.65,61.39 C395.86,61.72 396.13,62.16 396.23,62.68 C396.32,63.20 396.26,63.93 396.20,64.52 Z" stroke="#444444" stroke-width="0.6" fill="#616161"/>
<path d="M395.73,64.49 C395.69,64.95 395.58,65.40 395.47,65.80 C395.35,66.20 395.21,66.61 395.04,66.89 C394.87,67.17 394.65,67.32 394.45,67.49 C394.24,67.66 394.04,67.84 393.82,67.91 C393.59,67.98 393.30,68.08 393.11,67.91 C392.91,67.73 392.75,67.25 392.65,66.86 C392.55,66.47 392.54,65.99 392.49,65.56 C392.45,65.14 392.36,64.75 392.36,64.31 C392.36,63.88 392.40,63.38 392.49,62.96 C392.58,62.54 392.75,62.14 392.91,61.81 C393.08,61.47 393.29,61.09 393.50,60.94 C393.71,60.79 393.98,60.81 394.18,60.90 C394.39,60.99 394.55,61.31 394.74,61.50 C394.92,61.69 395.13,61.77 395.30,62.03 C395.47,62.29 395.68,62.63 395.75,63.04 C395.83,63.45 395.78,64.03 395.73,64.49 Z" stroke="#333333" stroke-width="0.6" fill="#4c4c4c"/>
<path d="M395.27,64.47 C395.23,64.80 395.16,65.13 395.07,65.43 C394.99,65.72 394.89,66.01 394.76,66.22 C394.64,66.42 394.48,66.53 394.33,66.65 C394.18,66.78 394.03,66.91 393.87,66.97 C393.70,67.02 393.49,67.09 393.35,66.96 C393.21,66.83 393.09,66.48 393.02,66.20 C392.94,65.91 392.94,65.56 392.90,65.25 C392.86,64.94 392.80,64.65 392.80,64.34 C392.80,64.02 392.83,63.65 392.90,63.35 C392.97,63.04 393.08,62.75 393.21,62.51 C393.33,62.26 393.48,61.98 393.63,61.87 C393.79,61.76 393.98,61.77 394.13,61.84 C394.29,61.91 394.40,62.14 394.54,62.28 C394.68,62.42 394.83,62.48 394.95,62.67 C395.07,62.86 395.23,63.11 395.28,63.41 C395.33,63.71 395.30,64.13 395.27,64.47 Z" stroke="#222222" stroke-width="0.6" fill="#373737"/>
<path d="M394.80,64.44 C394.78,64.65 394.73,64.86 394.68,65.05 C394.62,65.23 394.56,65.42 394.48,65.55 C394.40,65.68 394.30,65.75 394.21,65.82 C394.11,65.90 394.02,65.99 393.92,66.02 C393.81,66.05 393.68,66.10 393.59,66.02 C393.50,65.94 393.43,65.72 393.38,65.54 C393.33,65.36 393.33,65.13 393.31,64.94 C393.28,64.74 393.24,64.56 393.24,64.36 C393.24,64.16 393.26,63.93 393.30,63.73 C393.35,63.54 393.42,63.36 393.50,63.20 C393.58,63.05 393.67,62.87 393.77,62.80 C393.87,62.73 393.99,62.74 394.08,62.78 C394.18,62.83 394.26,62.97 394.34,63.06 C394.43,63.15 394.52,63.19 394.60,63.31 C394.68,63.42 394.78,63.58 394.81,63.77 C394.84,63.96 394.82,64.23 394.80,64.44 Z" stroke="#111111" stroke-width="0.6" fill="#222222"/>
<path d="M390.29,79.30 C390.22,79.92 390.02,80.58 389.57,81.10 C389.12,81.63 388.28,82.00 387.60,82.44 C386.91,82.87 386.31,83.33 385.46,83.70 C384.61,84.06 383.51,84.60 382.50,84.63 C381.49,84.66 380.27,84.24 379.42,83.87 C378.58,83.51 378.07,82.89 377.42,82.43 C376.77,81.96 376.00,81.59 375.55,81.07 C375.09,80.55 374.75,79.91 374.69,79.30 C374.62,78.69 374.85,78.04 375.16,77.43 C375.47,76.82 375.84,76.08 376.56,75.65 C377.29,75.21 378.50,74.93 379.49,74.83 C380.48,74.72 381.52,75.00 382.50,75.03 C383.48,75.06 384.40,74.90 385.39,75.00 C386.38,75.11 387.69,75.24 388.45,75.64 C389.21,76.04 389.65,76.79 389.96,77.40 C390.26,78.01 390.35,78.68 390.29,79.30 Z" stroke="#555555" stroke-width="0.6" fill="#888888"/>
<path d="M389.43,79.30 C389.37,79.85 389.19,80.44 388.79,80.90 C388.40,81.37 387.64,81.71 387.03,82.09 C386.42,82.48 385.89,82.89 385.13,83.21 C384.38,83.54 383.40,84.01 382.50,84.04 C381.60,84.07 380.51,83.70 379.76,83.37 C379.01,83.04 378.55,82.50 377.98,82.08 C377.40,81.67 376.72,81.34 376.31,80.88 C375.91,80.41 375.60,79.84 375.55,79.30 C375.49,78.76 375.69,78.18 375.97,77.63 C376.25,77.09 376.58,76.44 377.22,76.05 C377.86,75.66 378.94,75.41 379.82,75.32 C380.70,75.23 381.62,75.47 382.50,75.50 C383.38,75.52 384.19,75.38 385.07,75.48 C385.96,75.57 387.12,75.69 387.80,76.04 C388.47,76.40 388.87,77.06 389.14,77.61 C389.41,78.15 389.49,78.75 389.43,79.30 Z" stroke="#474747" stroke-width="0.6" fill="#727272"/>
<path d="M388.57,79.30 C388.52,79.78 388.37,80.30 388.02,80.71 C387.67,81.11 387.01,81.41 386.47,81.75 C385.94,82.08 385.47,82.44 384.81,82.73 C384.15,83.01 383.28,83.43 382.50,83.45 C381.72,83.48 380.76,83.15 380.10,82.87 C379.44,82.58 379.04,82.10 378.54,81.74 C378.03,81.37 377.43,81.09 377.08,80.68 C376.72,80.28 376.45,79.77 376.40,79.30 C376.35,78.83 376.53,78.32 376.78,77.84 C377.02,77.37 377.31,76.79 377.87,76.45 C378.43,76.11 379.38,75.89 380.15,75.81 C380.92,75.73 381.73,75.94 382.50,75.97 C383.27,75.99 383.98,75.87 384.76,75.95 C385.53,76.03 386.55,76.13 387.14,76.44 C387.73,76.76 388.08,77.34 388.32,77.82 C388.56,78.29 388.62,78.82 388.57,79.30 Z" stroke="#393939" stroke-width="0.6" fill="#5c5c5c"/>
<path d="M387.72,79.30 C387.67,79.71 387.54,80.16 387.24,80.51 C386.94,80.86 386.37,81.11 385.91,81.40 C385.45,81.69 385.05,82.00 384.48,82.24 C383.91,82.49 383.17,82.85 382.50,82.87 C381.83,82.89 381.01,82.61 380.44,82.36 C379.87,82.12 379.53,81.71 379.10,81.39 C378.66,81.08 378.15,80.84 377.84,80.49 C377.54,80.14 377.31,79.71 377.26,79.30 C377.22,78.89 377.37,78.45 377.58,78.05 C377.79,77.64 378.04,77.14 378.52,76.85 C379.01,76.56 379.82,76.37 380.48,76.30 C381.15,76.23 381.84,76.42 382.50,76.44 C383.16,76.46 383.77,76.35 384.44,76.42 C385.10,76.49 385.98,76.58 386.49,76.85 C387.00,77.11 387.29,77.62 387.50,78.03 C387.70,78.44 387.76,78.89 387.72,79.30 Z" stroke="#2c2c2c" stroke-width="0.6" fill="#464646"/>
<path d="M386.86,79.30 C386.82,79.65 386.71,80.02 386.46,80.31 C386.21,80.60 385.74,80.81 385.35,81.06 C384.97,81.30 384.63,81.56 384.16,81.76 C383.68,81.97 383.06,82.27 382.50,82.28 C381.94,82.30 381.25,82.07 380.78,81.86 C380.30,81.66 380.02,81.31 379.65,81.05 C379.29,80.79 378.86,80.58 378.61,80.29 C378.35,80.00 378.16,79.64 378.12,79.30 C378.09,78.96 378.21,78.59 378.39,78.25 C378.57,77.91 378.77,77.50 379.18,77.25 C379.58,77.01 380.26,76.85 380.81,76.79 C381.37,76.74 381.95,76.89 382.50,76.91 C383.05,76.92 383.56,76.84 384.12,76.89 C384.68,76.95 385.41,77.03 385.83,77.25 C386.26,77.47 386.51,77.89 386.68,78.24 C386.85,78.58 386.90,78.95 386.86,79.30 Z" stroke="#1e1e1e" stroke-width="0.6" fill="#303030"/>
<path d="M386.00,79.30 C385.97,79.58 385.88,79.88 385.68,80.11 C385.48,80.35 385.10,80.52 384.79,80.71 C384.48,80.91 384.21,81.11 383.83,81.28 C383.45,81.44 382.95,81.68 382.50,81.70 C382.05,81.71 381.50,81.52 381.12,81.36 C380.73,81.19 380.50,80.92 380.21,80.71 C379.92,80.50 379.58,80.33 379.37,80.10 C379.17,79.86 379.01,79.57 378.98,79.30 C378.95,79.03 379.06,78.73 379.20,78.46 C379.34,78.18 379.50,77.85 379.83,77.66 C380.15,77.46 380.70,77.33 381.14,77.29 C381.59,77.24 382.06,77.36 382.50,77.38 C382.94,77.39 383.36,77.32 383.80,77.37 C384.25,77.41 384.84,77.47 385.18,77.65 C385.52,77.83 385.72,78.17 385.86,78.44 C385.99,78.72 386.03,79.02 386.00,79.30 Z" stroke="#111111" stroke-width="0.6" fill="#1a1a1a"/>
<path d="M386.50,78.80 C386.50,78.98 386.42,79.17 386.27,79.34 C386.13,79.50 385.89,79.66 385.62,79.79 C385.35,79.92 385.00,80.03 384.65,80.09 C384.29,80.16 383.88,80.20 383.50,80.20 C383.12,80.20 382.71,80.16 382.35,80.09 C382.00,80.03 381.65,79.92 381.38,79.79 C381.11,79.66 380.87,79.50 380.73,79.34 C380.58,79.17 380.50,78.98 380.50,78.80 C380.50,78.62 380.58,78.43 380.73,78.26 C380.87,78.10 381.11,77.94 381.38,77.81 C381.65,77.68 382.00,77.57 382.35,77.51 C382.71,77.44 383.12,77.40 383.50,77.40 C383.88,77.40 384.29,77.44 384.65,77.51 C385.00,77.57 385.35,77.68 385.62,77.81 C385.89,77.94 386.13,78.10 386.27,78.26 C386.42,78.43 386.50,78.62 386.50,78.80 Z" stroke="none" stroke-width="0.6" fill="#eee"/>
<path d="M411.61,79.50 C411.49,80.07 410.84,80.58 410.44,81.11 C410.03,81.64 409.76,82.17 409.18,82.69 C408.61,83.20 407.92,83.94 406.97,84.21 C406.03,84.47 404.57,84.41 403.50,84.28 C402.43,84.16 401.51,83.74 400.57,83.46 C399.64,83.19 398.67,83.01 397.91,82.64 C397.15,82.26 396.46,81.76 396.01,81.24 C395.56,80.72 395.33,80.11 395.21,79.50 C395.09,78.89 394.89,78.14 395.29,77.59 C395.68,77.04 396.68,76.50 397.59,76.18 C398.49,75.87 399.71,75.89 400.70,75.71 C401.68,75.52 402.47,75.21 403.50,75.08 C404.53,74.96 405.85,74.79 406.85,74.96 C407.85,75.14 408.79,75.67 409.51,76.13 C410.23,76.59 410.81,77.16 411.16,77.72 C411.51,78.28 411.73,78.93 411.61,79.50 Z" stroke="#999" stroke-width="0.6" fill="#f4f4f4"/>
<path d="M409.17,79.50 C409.09,79.90 408.64,80.26 408.36,80.63 C408.07,81.00 407.88,81.37 407.48,81.73 C407.07,82.09 406.60,82.61 405.93,82.79 C405.27,82.98 404.25,82.93 403.50,82.85 C402.75,82.76 402.10,82.47 401.45,82.27 C400.80,82.08 400.12,81.95 399.59,81.69 C399.06,81.44 398.57,81.08 398.26,80.72 C397.94,80.35 397.78,79.93 397.69,79.50 C397.61,79.07 397.47,78.55 397.75,78.16 C398.03,77.78 398.73,77.40 399.36,77.18 C399.99,76.96 400.85,76.97 401.54,76.84 C402.23,76.72 402.78,76.49 403.50,76.41 C404.22,76.32 405.14,76.20 405.84,76.32 C406.55,76.45 407.20,76.82 407.71,77.14 C408.21,77.46 408.62,77.86 408.87,78.25 C409.11,78.65 409.26,79.10 409.17,79.50 Z" stroke="#999" stroke-width="0.6" fill="#eaeaea"/>
<path d="M407.15,79.50 C407.09,79.75 406.80,79.99 406.62,80.23 C406.44,80.46 406.32,80.70 406.06,80.93 C405.80,81.17 405.49,81.50 405.06,81.62 C404.64,81.74 403.98,81.71 403.50,81.65 C403.02,81.60 402.60,81.41 402.18,81.28 C401.76,81.16 401.33,81.08 400.98,80.91 C400.64,80.74 400.33,80.52 400.13,80.28 C399.93,80.05 399.82,79.77 399.77,79.50 C399.71,79.23 399.63,78.89 399.80,78.64 C399.98,78.39 400.43,78.15 400.84,78.01 C401.24,77.87 401.80,77.88 402.24,77.79 C402.68,77.71 403.04,77.57 403.50,77.51 C403.96,77.46 404.56,77.38 405.01,77.46 C405.46,77.54 405.88,77.78 406.20,77.98 C406.53,78.19 406.79,78.45 406.95,78.70 C407.11,78.95 407.20,79.25 407.15,79.50 Z" stroke="#999" stroke-width="0.6" fill="#e0e0e0"/>
</g>
<rect x="394.20" y="73.30" width="19.60" height="12.20" stroke="#333" stroke-width="1.0" fill="none"/>
<text x="426.50" y="88.90" font-size="7" text-anchor="end" font-weight="bold" fill="#111" stroke="#111" stroke-width="0.3" >6.2</text>
<clipPath id="c9"><rect x="454.70" y="31.30" width="57.30" height="58.20"/></clipPath><g clip-path="url(#c9)">
<path d="M499.94,32.30 C499.96,32.63 499.41,33.00 498.81,33.31 C498.21,33.61 497.30,33.89 496.33,34.12 C495.36,34.34 494.19,34.55 492.97,34.67 C491.75,34.79 490.33,34.83 489.00,34.84 C487.67,34.84 486.26,34.82 484.96,34.71 C483.67,34.61 482.18,34.46 481.23,34.22 C480.28,33.99 479.64,33.62 479.25,33.30 C478.87,32.98 478.91,32.63 478.94,32.30 C478.96,31.97 478.99,31.63 479.41,31.32 C479.83,31.01 480.56,30.68 481.48,30.44 C482.40,30.20 483.68,30.00 484.94,29.87 C486.19,29.74 487.66,29.63 489.00,29.64 C490.34,29.64 491.82,29.76 493.00,29.91 C494.18,30.06 495.14,30.31 496.08,30.55 C497.02,30.78 498.01,31.02 498.66,31.31 C499.30,31.60 499.91,31.97 499.94,32.30 Z" stroke="#666" stroke-width="0.6" fill="#999"/>
<path d="M495.56,32.30 C495.58,32.50 495.25,32.72 494.89,32.90 C494.53,33.09 493.98,33.25 493.40,33.39 C492.81,33.53 492.12,33.65 491.38,33.72 C490.65,33.80 489.80,33.82 489.00,33.82 C488.20,33.83 487.35,33.81 486.58,33.75 C485.80,33.69 484.91,33.60 484.34,33.45 C483.77,33.31 483.38,33.09 483.15,32.90 C482.92,32.71 482.95,32.50 482.96,32.30 C482.98,32.10 482.99,31.90 483.25,31.71 C483.50,31.52 483.94,31.33 484.49,31.18 C485.04,31.04 485.81,30.92 486.56,30.84 C487.31,30.76 488.19,30.70 489.00,30.70 C489.81,30.71 490.69,30.77 491.40,30.87 C492.11,30.96 492.68,31.11 493.25,31.25 C493.81,31.39 494.41,31.53 494.79,31.71 C495.18,31.88 495.55,32.10 495.56,32.30 Z" stroke="#444" stroke-width="0.6" fill="#666"/>
<path d="M455.00,64.00 C456.00,58.00 459.00,55.67 461.00,52.00 C463.00,48.33 465.00,44.67 467.00,42.00 C469.00,39.33 470.83,37.33 473.00,36.00 C475.17,34.67 477.83,33.83 480.00,34.00 C482.17,34.17 484.17,37.17 486.00,37.00 C487.83,36.83 489.50,32.83 491.00,33.00 C492.50,33.17 494.17,35.17 495.00,38.00 C495.83,40.83 496.17,46.00 496.00,50.00 C495.83,54.00 494.50,58.33 494.00,62.00 C493.50,65.67 492.83,70.00 493.00,72.00 C493.17,74.00 494.67,71.67 495.00,74.00 C495.33,76.33 498.33,83.67 495.00,86.00 C491.67,88.33 481.67,87.67 475.00,88.00 C468.33,88.33 458.33,92.00 455.00,88.00 C451.67,84.00 454.00,70.00 455.00,64.00 Z" stroke="#909090" stroke-width="0.6" fill="#f6f6f6"/>
<path d="M457.85,64.90 C458.70,59.80 461.25,57.82 462.95,54.70 C464.65,51.58 466.35,48.47 468.05,46.20 C469.75,43.93 471.31,42.23 473.15,41.10 C474.99,39.97 477.26,39.26 479.10,39.40 C480.94,39.54 482.64,42.09 484.20,41.95 C485.76,41.81 487.17,38.41 488.45,38.55 C489.73,38.69 491.14,40.39 491.85,42.80 C492.56,45.21 492.84,49.60 492.70,53.00 C492.56,56.40 491.43,60.08 491.00,63.20 C490.57,66.32 490.01,70.00 490.15,71.70 C490.29,73.40 491.57,71.42 491.85,73.40 C492.13,75.38 494.68,81.62 491.85,83.60 C489.02,85.58 480.52,85.02 474.85,85.30 C469.18,85.58 460.68,88.70 457.85,85.30 C455.02,81.90 457.00,70.00 457.85,64.90 Z" stroke="#8c8c8c" stroke-width="0.6" fill="#ececec"/>
<path d="M460.70,65.80 C461.40,61.60 463.50,59.97 464.90,57.40 C466.30,54.83 467.70,52.27 469.10,50.40 C470.50,48.53 471.78,47.13 473.30,46.20 C474.82,45.27 476.68,44.68 478.20,44.80 C479.72,44.92 481.12,47.02 482.40,46.90 C483.68,46.78 484.85,43.98 485.90,44.10 C486.95,44.22 488.12,45.62 488.70,47.60 C489.28,49.58 489.52,53.20 489.40,56.00 C489.28,58.80 488.35,61.83 488.00,64.40 C487.65,66.97 487.18,70.00 487.30,71.40 C487.42,72.80 488.47,71.17 488.70,72.80 C488.93,74.43 491.03,79.57 488.70,81.20 C486.37,82.83 479.37,82.37 474.70,82.60 C470.03,82.83 463.03,85.40 460.70,82.60 C458.37,79.80 460.00,70.00 460.70,65.80 Z" stroke="#888" stroke-width="0.6" fill="#e2e2e2"/>
<path d="M463.55,66.70 C464.10,63.40 465.75,62.12 466.85,60.10 C467.95,58.08 469.05,56.07 470.15,54.60 C471.25,53.13 472.26,52.03 473.45,51.30 C474.64,50.57 476.11,50.11 477.30,50.20 C478.49,50.29 479.59,51.94 480.60,51.85 C481.61,51.76 482.53,49.56 483.35,49.65 C484.18,49.74 485.09,50.84 485.55,52.40 C486.01,53.96 486.19,56.80 486.10,59.00 C486.01,61.20 485.27,63.58 485.00,65.60 C484.73,67.62 484.36,70.00 484.45,71.10 C484.54,72.20 485.37,70.92 485.55,72.20 C485.73,73.48 487.38,77.52 485.55,78.80 C483.72,80.08 478.22,79.72 474.55,79.90 C470.88,80.08 465.38,82.10 463.55,79.90 C461.72,77.70 463.00,70.00 463.55,66.70 Z" stroke="#888" stroke-width="0.6" fill="#d8d8d8"/>
<path d="M466.40,67.60 C466.80,65.20 468.00,64.27 468.80,62.80 C469.60,61.33 470.40,59.87 471.20,58.80 C472.00,57.73 472.73,56.93 473.60,56.40 C474.47,55.87 475.53,55.53 476.40,55.60 C477.27,55.67 478.07,56.87 478.80,56.80 C479.53,56.73 480.20,55.13 480.80,55.20 C481.40,55.27 482.07,56.07 482.40,57.20 C482.73,58.33 482.87,60.40 482.80,62.00 C482.73,63.60 482.20,65.33 482.00,66.80 C481.80,68.27 481.53,70.00 481.60,70.80 C481.67,71.60 482.27,70.67 482.40,71.60 C482.53,72.53 483.73,75.47 482.40,76.40 C481.07,77.33 477.07,77.07 474.40,77.20 C471.73,77.33 467.73,78.80 466.40,77.20 C465.07,75.60 466.00,70.00 466.40,67.60 Z" stroke="#888" stroke-width="0.6" fill="#d0d0d0"/>
<path d="M480,75 C478,68 479,60 482,53 C484,48 487,46 489,50 C490,56 489,64 490,73" stroke="#999" stroke-width="0.6" fill="none"/>
<path d="M484,74 C483,66 484,59 486,55 C487,53 488,55 488,60 C488,66 487,70 488,74" stroke="#999" stroke-width="0.6" fill="none"/>
<path d="M463,74 C465,62 468,52 474,44 C478,40 481,42 480,48" stroke="#999" stroke-width="0.6" fill="none"/>
<path d="M478.06,60.94 C477.92,62.26 477.84,63.50 477.59,64.83 C477.33,66.16 477.06,67.93 476.51,68.92 C475.96,69.90 475.03,70.48 474.30,70.74 C473.57,71.00 472.82,70.64 472.13,70.47 C471.44,70.29 470.74,70.21 470.15,69.70 C469.55,69.19 469.00,68.35 468.57,67.41 C468.15,66.47 467.82,65.31 467.58,64.07 C467.33,62.83 467.00,61.34 467.10,59.98 C467.20,58.63 467.67,57.03 468.16,55.94 C468.66,54.85 469.45,54.26 470.06,53.44 C470.66,52.63 471.15,51.70 471.80,51.05 C472.45,50.40 473.25,49.60 473.96,49.55 C474.66,49.49 475.42,50.11 476.03,50.74 C476.64,51.36 477.22,52.26 477.62,53.29 C478.01,54.33 478.33,55.67 478.40,56.95 C478.47,58.22 478.19,59.63 478.06,60.94 Z" stroke="#999" stroke-width="0.6" fill="#e4e4e4"/>
<path d="M476.79,60.83 C476.69,61.82 476.63,62.75 476.44,63.75 C476.25,64.74 476.04,66.07 475.63,66.81 C475.22,67.55 474.52,67.99 473.98,68.18 C473.43,68.38 472.87,68.11 472.35,67.97 C471.83,67.84 471.30,67.78 470.86,67.40 C470.42,67.01 470.00,66.38 469.68,65.68 C469.36,64.98 469.12,64.10 468.93,63.18 C468.75,62.25 468.50,61.13 468.57,60.11 C468.65,59.10 469.00,57.89 469.37,57.08 C469.74,56.26 470.34,55.82 470.79,55.21 C471.25,54.60 471.61,53.90 472.10,53.41 C472.59,52.92 473.19,52.32 473.72,52.28 C474.25,52.25 474.82,52.71 475.27,53.18 C475.73,53.64 476.17,54.32 476.46,55.10 C476.76,55.87 476.99,56.88 477.05,57.84 C477.10,58.79 476.89,59.85 476.79,60.83 Z" stroke="#999" stroke-width="0.6" fill="#d4d4d4"/>
<path d="M476.27,60.79 C476.15,61.70 475.92,62.60 475.68,63.39 C475.43,64.18 475.13,64.98 474.79,65.52 C474.44,66.07 474.02,66.35 473.62,66.68 C473.22,67.00 472.82,67.36 472.39,67.48 C471.96,67.61 471.40,67.79 471.05,67.43 C470.69,67.07 470.43,66.10 470.27,65.32 C470.10,64.54 470.12,63.58 470.06,62.73 C470.00,61.88 469.87,61.09 469.90,60.23 C469.93,59.36 470.04,58.36 470.25,57.53 C470.46,56.71 470.80,55.93 471.14,55.27 C471.48,54.61 471.89,53.87 472.31,53.58 C472.72,53.29 473.22,53.34 473.61,53.54 C473.99,53.73 474.28,54.37 474.62,54.76 C474.95,55.15 475.34,55.33 475.64,55.85 C475.94,56.38 476.31,57.08 476.42,57.91 C476.53,58.73 476.40,59.87 476.27,60.79 Z" stroke="#555555" stroke-width="0.6" fill="#777777"/>
<path d="M475.70,60.74 C475.60,61.49 475.41,62.23 475.21,62.88 C475.00,63.53 474.76,64.19 474.47,64.64 C474.19,65.10 473.84,65.33 473.51,65.60 C473.18,65.86 472.85,66.16 472.50,66.26 C472.14,66.37 471.68,66.52 471.39,66.22 C471.10,65.92 470.88,65.12 470.74,64.48 C470.61,63.83 470.63,63.04 470.58,62.34 C470.53,61.64 470.42,60.99 470.44,60.28 C470.47,59.56 470.56,58.74 470.73,58.05 C470.90,57.37 471.18,56.73 471.47,56.18 C471.75,55.64 472.09,55.03 472.43,54.79 C472.77,54.55 473.19,54.59 473.50,54.76 C473.82,54.92 474.05,55.45 474.33,55.77 C474.61,56.08 474.93,56.23 475.18,56.67 C475.42,57.10 475.73,57.68 475.82,58.36 C475.91,59.04 475.80,59.98 475.70,60.74 Z" stroke="#444444" stroke-width="0.6" fill="#616161"/>
<path d="M475.13,60.69 C475.05,61.28 474.90,61.86 474.74,62.38 C474.58,62.89 474.38,63.41 474.16,63.77 C473.94,64.12 473.66,64.30 473.40,64.51 C473.14,64.73 472.88,64.96 472.60,65.04 C472.32,65.12 471.96,65.24 471.73,65.01 C471.50,64.77 471.33,64.14 471.22,63.63 C471.12,63.12 471.13,62.50 471.09,61.95 C471.05,61.40 470.96,60.89 470.98,60.32 C471.00,59.76 471.08,59.11 471.21,58.57 C471.35,58.03 471.57,57.53 471.79,57.10 C472.01,56.67 472.28,56.19 472.55,56.00 C472.82,55.81 473.15,55.85 473.40,55.97 C473.65,56.10 473.83,56.52 474.05,56.77 C474.27,57.02 474.52,57.14 474.71,57.48 C474.91,57.82 475.15,58.28 475.22,58.81 C475.29,59.35 475.21,60.09 475.13,60.69 Z" stroke="#333333" stroke-width="0.6" fill="#4c4c4c"/>
<path d="M474.56,60.64 C474.50,61.07 474.39,61.50 474.27,61.87 C474.15,62.25 474.01,62.63 473.85,62.89 C473.69,63.15 473.48,63.28 473.29,63.43 C473.10,63.59 472.91,63.76 472.71,63.82 C472.51,63.88 472.24,63.96 472.07,63.79 C471.90,63.62 471.78,63.16 471.70,62.79 C471.62,62.42 471.63,61.96 471.61,61.56 C471.58,61.15 471.51,60.78 471.53,60.37 C471.54,59.96 471.60,59.48 471.69,59.09 C471.79,58.70 471.95,58.33 472.12,58.01 C472.28,57.70 472.48,57.35 472.67,57.21 C472.87,57.07 473.11,57.10 473.29,57.19 C473.47,57.29 473.61,57.59 473.77,57.77 C473.93,57.96 474.11,58.04 474.25,58.29 C474.40,58.54 474.57,58.88 474.62,59.27 C474.68,59.66 474.61,60.20 474.56,60.64 Z" stroke="#222222" stroke-width="0.6" fill="#373737"/>
<path d="M473.98,60.59 C473.95,60.86 473.88,61.13 473.80,61.37 C473.73,61.60 473.64,61.84 473.54,62.01 C473.43,62.17 473.31,62.25 473.19,62.35 C473.07,62.45 472.95,62.56 472.82,62.60 C472.69,62.63 472.52,62.69 472.41,62.58 C472.31,62.47 472.23,62.18 472.18,61.95 C472.13,61.71 472.14,61.42 472.12,61.17 C472.10,60.91 472.06,60.68 472.07,60.42 C472.08,60.16 472.11,59.86 472.18,59.61 C472.24,59.36 472.34,59.13 472.44,58.93 C472.54,58.73 472.67,58.51 472.79,58.42 C472.92,58.34 473.07,58.35 473.18,58.41 C473.30,58.47 473.38,58.66 473.48,58.78 C473.59,58.89 473.70,58.95 473.79,59.11 C473.88,59.26 473.99,59.47 474.03,59.72 C474.06,59.97 474.02,60.31 473.98,60.59 Z" stroke="#111111" stroke-width="0.6" fill="#222222"/>
<path d="M471.49,79.30 C471.42,79.92 471.23,80.58 470.80,81.10 C470.37,81.63 469.56,82.00 468.90,82.44 C468.24,82.87 467.66,83.33 466.84,83.70 C466.03,84.06 464.97,84.60 464.00,84.63 C463.03,84.66 461.85,84.24 461.04,83.87 C460.23,83.51 459.74,82.89 459.11,82.43 C458.49,81.96 457.75,81.59 457.31,81.07 C456.88,80.55 456.55,79.91 456.49,79.30 C456.42,78.69 456.64,78.04 456.94,77.43 C457.24,76.82 457.60,76.08 458.29,75.65 C458.99,75.21 460.15,74.93 461.10,74.83 C462.06,74.72 463.05,75.00 464.00,75.03 C464.95,75.06 465.83,74.90 466.78,75.00 C467.73,75.11 468.99,75.24 469.72,75.64 C470.45,76.04 470.88,76.79 471.17,77.40 C471.47,78.01 471.55,78.68 471.49,79.30 Z" stroke="#555555" stroke-width="0.6" fill="#888888"/>
<path d="M470.66,79.30 C470.61,79.85 470.44,80.44 470.05,80.90 C469.67,81.37 468.95,81.71 468.36,82.09 C467.77,82.48 467.26,82.89 466.53,83.21 C465.81,83.54 464.86,84.01 464.00,84.04 C463.14,84.07 462.09,83.70 461.37,83.37 C460.64,83.04 460.20,82.50 459.65,82.08 C459.10,81.67 458.44,81.34 458.05,80.88 C457.66,80.41 457.37,79.84 457.31,79.30 C457.26,78.76 457.45,78.18 457.72,77.63 C457.99,77.09 458.30,76.44 458.92,76.05 C459.54,75.66 460.58,75.41 461.42,75.32 C462.27,75.23 463.16,75.47 464.00,75.50 C464.84,75.52 465.63,75.38 466.48,75.48 C467.32,75.57 468.44,75.69 469.09,76.04 C469.74,76.40 470.12,77.06 470.38,77.61 C470.64,78.15 470.72,78.75 470.66,79.30 Z" stroke="#474747" stroke-width="0.6" fill="#727272"/>
<path d="M469.84,79.30 C469.79,79.78 469.64,80.30 469.30,80.71 C468.97,81.11 468.34,81.41 467.82,81.75 C467.31,82.08 466.86,82.44 466.22,82.73 C465.58,83.01 464.75,83.43 464.00,83.45 C463.25,83.48 462.33,83.15 461.69,82.87 C461.06,82.58 460.67,82.10 460.19,81.74 C459.70,81.37 459.13,81.09 458.78,80.68 C458.44,80.28 458.19,79.77 458.14,79.30 C458.09,78.83 458.26,78.32 458.50,77.84 C458.73,77.37 459.01,76.79 459.55,76.45 C460.09,76.11 461.00,75.89 461.74,75.81 C462.48,75.73 463.26,75.94 464.00,75.97 C464.74,75.99 465.43,75.87 466.17,75.95 C466.91,76.03 467.89,76.13 468.46,76.44 C469.03,76.76 469.36,77.34 469.59,77.82 C469.82,78.29 469.89,78.82 469.84,79.30 Z" stroke="#393939" stroke-width="0.6" fill="#5c5c5c"/>
<path d="M469.02,79.30 C468.97,79.71 468.85,80.16 468.56,80.51 C468.27,80.86 467.72,81.11 467.28,81.40 C466.84,81.69 466.45,82.00 465.91,82.24 C465.36,82.49 464.65,82.85 464.00,82.87 C463.35,82.89 462.56,82.61 462.02,82.36 C461.47,82.12 461.14,81.71 460.73,81.39 C460.31,81.08 459.81,80.84 459.52,80.49 C459.23,80.14 459.01,79.71 458.97,79.30 C458.92,78.89 459.07,78.45 459.27,78.05 C459.47,77.64 459.71,77.14 460.18,76.85 C460.64,76.56 461.42,76.37 462.06,76.30 C462.70,76.23 463.37,76.42 464.00,76.44 C464.63,76.46 465.22,76.35 465.86,76.42 C466.50,76.49 467.34,76.58 467.83,76.85 C468.32,77.11 468.61,77.62 468.81,78.03 C469.00,78.44 469.06,78.89 469.02,79.30 Z" stroke="#2c2c2c" stroke-width="0.6" fill="#464646"/>
<path d="M468.19,79.30 C468.16,79.65 468.05,80.02 467.81,80.31 C467.57,80.60 467.11,80.81 466.74,81.06 C466.37,81.30 466.05,81.56 465.59,81.76 C465.14,81.97 464.54,82.27 464.00,82.28 C463.46,82.30 462.80,82.07 462.34,81.86 C461.89,81.66 461.61,81.31 461.26,81.05 C460.92,80.79 460.50,80.58 460.26,80.29 C460.01,80.00 459.83,79.64 459.79,79.30 C459.76,78.96 459.88,78.59 460.05,78.25 C460.22,77.91 460.42,77.50 460.80,77.25 C461.19,77.01 461.85,76.85 462.38,76.79 C462.91,76.74 463.47,76.89 464.00,76.91 C464.53,76.92 465.02,76.84 465.56,76.89 C466.09,76.95 466.79,77.03 467.20,77.25 C467.61,77.47 467.85,77.89 468.02,78.24 C468.18,78.58 468.23,78.95 468.19,79.30 Z" stroke="#1e1e1e" stroke-width="0.6" fill="#303030"/>
<path d="M467.37,79.30 C467.34,79.58 467.25,79.88 467.06,80.11 C466.87,80.35 466.50,80.52 466.20,80.71 C465.91,80.91 465.65,81.11 465.28,81.28 C464.91,81.44 464.44,81.68 464.00,81.70 C463.56,81.71 463.03,81.52 462.67,81.36 C462.30,81.19 462.08,80.92 461.80,80.71 C461.52,80.50 461.19,80.33 460.99,80.10 C460.79,79.86 460.65,79.57 460.62,79.30 C460.59,79.03 460.69,78.73 460.82,78.46 C460.96,78.18 461.12,77.85 461.43,77.66 C461.74,77.46 462.27,77.33 462.70,77.29 C463.13,77.24 463.57,77.36 464.00,77.38 C464.43,77.39 464.82,77.32 465.25,77.37 C465.68,77.41 466.25,77.47 466.57,77.65 C466.90,77.83 467.09,78.17 467.23,78.44 C467.36,78.72 467.40,79.02 467.37,79.30 Z" stroke="#111111" stroke-width="0.6" fill="#1a1a1a"/>
<path d="M466.80,78.80 C466.80,78.99 466.72,79.20 466.59,79.37 C466.45,79.55 466.23,79.73 465.98,79.86 C465.73,80.00 465.40,80.11 465.07,80.19 C464.74,80.26 464.36,80.30 464.00,80.30 C463.64,80.30 463.26,80.26 462.93,80.19 C462.60,80.11 462.27,80.00 462.02,79.86 C461.77,79.73 461.55,79.55 461.41,79.37 C461.28,79.20 461.20,78.99 461.20,78.80 C461.20,78.61 461.28,78.40 461.41,78.23 C461.55,78.05 461.77,77.87 462.02,77.74 C462.27,77.60 462.60,77.49 462.93,77.41 C463.26,77.34 463.64,77.30 464.00,77.30 C464.36,77.30 464.74,77.34 465.07,77.41 C465.40,77.49 465.73,77.60 465.98,77.74 C466.23,77.87 466.45,78.05 466.59,78.23 C466.72,78.40 466.80,78.61 466.80,78.80 Z" stroke="none" stroke-width="0.6" fill="#eee"/>
<path d="M492.23,79.50 C492.14,80.15 491.57,80.77 491.14,81.37 C490.71,81.97 490.30,82.57 489.63,83.12 C488.96,83.67 488.15,84.38 487.13,84.67 C486.10,84.96 484.64,84.95 483.50,84.85 C482.36,84.75 481.31,84.37 480.29,84.07 C479.28,83.78 478.25,83.52 477.44,83.08 C476.63,82.65 475.91,82.07 475.44,81.47 C474.97,80.88 474.72,80.18 474.63,79.50 C474.54,78.82 474.45,78.01 474.88,77.39 C475.31,76.77 476.27,76.16 477.19,75.77 C478.11,75.38 479.34,75.28 480.39,75.06 C481.44,74.84 482.39,74.55 483.50,74.45 C484.61,74.35 485.97,74.25 487.03,74.46 C488.09,74.68 489.10,75.22 489.88,75.73 C490.66,76.23 491.31,76.86 491.70,77.49 C492.09,78.12 492.32,78.85 492.23,79.50 Z" stroke="#999" stroke-width="0.6" fill="#ececec"/>
<path d="M490.48,79.50 C490.41,80.02 489.96,80.51 489.61,81.00 C489.27,81.48 488.94,81.96 488.41,82.40 C487.87,82.84 487.22,83.41 486.40,83.64 C485.58,83.87 484.41,83.86 483.50,83.78 C482.59,83.70 481.74,83.39 480.94,83.16 C480.13,82.92 479.30,82.71 478.65,82.37 C478.00,82.02 477.43,81.56 477.05,81.08 C476.68,80.60 476.48,80.04 476.40,79.50 C476.33,78.96 476.26,78.31 476.61,77.81 C476.95,77.32 477.72,76.83 478.45,76.52 C479.19,76.21 480.17,76.13 481.01,75.95 C481.85,75.77 482.61,75.54 483.50,75.46 C484.39,75.38 485.47,75.30 486.32,75.47 C487.18,75.64 487.98,76.08 488.61,76.48 C489.23,76.89 489.75,77.39 490.06,77.89 C490.37,78.40 490.56,78.98 490.48,79.50 Z" stroke="#888" stroke-width="0.6" fill="#d6d6d6"/>
<path d="M488.74,79.50 C488.68,79.89 488.34,80.26 488.09,80.62 C487.83,80.98 487.58,81.34 487.18,81.67 C486.78,82.00 486.29,82.43 485.68,82.60 C485.06,82.78 484.18,82.77 483.50,82.71 C482.82,82.65 482.18,82.42 481.58,82.24 C480.97,82.07 480.35,81.91 479.86,81.65 C479.38,81.39 478.94,81.04 478.66,80.68 C478.38,80.33 478.23,79.91 478.18,79.50 C478.12,79.09 478.07,78.61 478.33,78.23 C478.58,77.86 479.16,77.50 479.71,77.26 C480.26,77.03 481.00,76.97 481.63,76.84 C482.27,76.71 482.84,76.53 483.50,76.47 C484.16,76.41 484.98,76.35 485.62,76.48 C486.26,76.61 486.86,76.93 487.33,77.24 C487.80,77.54 488.18,77.92 488.42,78.30 C488.65,78.67 488.79,79.11 488.74,79.50 Z" stroke="#777" stroke-width="0.6" fill="#c0c0c0"/>
<path d="M486.99,79.50 C486.95,79.76 486.73,80.01 486.56,80.25 C486.38,80.49 486.22,80.73 485.95,80.95 C485.69,81.17 485.36,81.45 484.95,81.57 C484.54,81.68 483.96,81.68 483.50,81.64 C483.04,81.60 482.62,81.45 482.22,81.33 C481.81,81.21 481.40,81.11 481.08,80.93 C480.75,80.76 480.46,80.53 480.28,80.29 C480.09,80.05 479.99,79.77 479.95,79.50 C479.91,79.23 479.88,78.90 480.05,78.66 C480.22,78.41 480.61,78.16 480.98,78.01 C481.34,77.85 481.84,77.81 482.26,77.73 C482.68,77.64 483.06,77.52 483.50,77.48 C483.94,77.44 484.49,77.40 484.91,77.49 C485.34,77.57 485.74,77.79 486.05,77.99 C486.36,78.19 486.62,78.45 486.78,78.70 C486.94,78.95 487.03,79.24 486.99,79.50 Z" stroke="#666" stroke-width="0.6" fill="#a8a8a8"/>
<path d="M476,83 C480,81 488,81 492,83 C490,84.8 478,84.8 476,83 Z" fill="#222" stroke="#333" stroke-width="0.6"/>
</g>
<rect x="473.50" y="72.90" width="20.20" height="12.60" stroke="#333" stroke-width="1.0" fill="none"/>
<text x="504.30" y="88.90" font-size="7" text-anchor="end" font-weight="bold" fill="#111" stroke="#111" stroke-width="0.3" >16</text>
<clipPath id="c10"><rect x="294.70" y="121.40" width="57.30" height="58.00"/></clipPath><g clip-path="url(#c10)">
<path d="M295.00,135.00 C296.33,131.33 300.67,138.00 303.00,138.00 C305.33,138.00 306.83,135.83 309.00,135.00 C311.17,134.17 313.83,133.17 316.00,133.00 C318.17,132.83 320.67,133.17 322.00,134.00 C323.33,134.83 324.67,137.00 324.00,138.00 C323.33,139.00 319.08,138.00 318.00,140.00 C316.92,142.00 317.67,146.33 317.50,150.00 C317.33,153.67 317.75,158.67 317.00,162.00 C316.25,165.33 315.00,168.17 313.00,170.00 C311.00,171.83 307.67,172.83 305.00,173.00 C302.33,173.17 298.67,173.17 297.00,171.00 C295.33,168.83 295.33,166.00 295.00,160.00 C294.67,154.00 293.67,138.67 295.00,135.00 Z" stroke="#888" stroke-width="0.6" fill="#f0f0f0"/>
<path d="M296.65,137.55 C297.78,134.43 301.47,140.10 303.45,140.10 C305.43,140.10 306.71,138.26 308.55,137.55 C310.39,136.84 312.66,135.99 314.50,135.85 C316.34,135.71 318.47,135.99 319.60,136.70 C320.73,137.41 321.87,139.25 321.30,140.10 C320.73,140.95 317.12,140.10 316.20,141.80 C315.28,143.50 315.92,147.18 315.77,150.30 C315.63,153.42 315.99,157.67 315.35,160.50 C314.71,163.33 313.65,165.74 311.95,167.30 C310.25,168.86 307.42,169.71 305.15,169.85 C302.88,169.99 299.77,169.99 298.35,168.15 C296.93,166.31 296.93,163.90 296.65,158.80 C296.37,153.70 295.52,140.67 296.65,137.55 Z" stroke="#808080" stroke-width="0.6" fill="#e2e2e2"/>
<path d="M298.30,140.10 C299.23,137.53 302.27,142.20 303.90,142.20 C305.53,142.20 306.58,140.68 308.10,140.10 C309.62,139.52 311.48,138.82 313.00,138.70 C314.52,138.58 316.27,138.82 317.20,139.40 C318.13,139.98 319.07,141.50 318.60,142.20 C318.13,142.90 315.16,142.20 314.40,143.60 C313.64,145.00 314.17,148.03 314.05,150.60 C313.93,153.17 314.23,156.67 313.70,159.00 C313.17,161.33 312.30,163.32 310.90,164.60 C309.50,165.88 307.17,166.58 305.30,166.70 C303.43,166.82 300.87,166.82 299.70,165.30 C298.53,163.78 298.53,161.80 298.30,157.60 C298.07,153.40 297.37,142.67 298.30,140.10 Z" stroke="#777" stroke-width="0.6" fill="#d4d4d4"/>
<path d="M299.95,142.65 C300.68,140.63 303.07,144.30 304.35,144.30 C305.63,144.30 306.46,143.11 307.65,142.65 C308.84,142.19 310.31,141.64 311.50,141.55 C312.69,141.46 314.07,141.64 314.80,142.10 C315.53,142.56 316.27,143.75 315.90,144.30 C315.53,144.85 313.20,144.30 312.60,145.40 C312.00,146.50 312.42,148.88 312.32,150.90 C312.23,152.92 312.46,155.67 312.05,157.50 C311.64,159.33 310.95,160.89 309.85,161.90 C308.75,162.91 306.92,163.46 305.45,163.55 C303.98,163.64 301.97,163.64 301.05,162.45 C300.13,161.26 300.13,159.70 299.95,156.40 C299.77,153.10 299.22,144.67 299.95,142.65 Z" stroke="#707070" stroke-width="0.6" fill="#c8c8c8"/>
<path d="M301.60,145.20 C302.13,143.73 303.87,146.40 304.80,146.40 C305.73,146.40 306.33,145.53 307.20,145.20 C308.07,144.87 309.13,144.47 310.00,144.40 C310.87,144.33 311.87,144.47 312.40,144.80 C312.93,145.13 313.47,146.00 313.20,146.40 C312.93,146.80 311.23,146.40 310.80,147.20 C310.37,148.00 310.67,149.73 310.60,151.20 C310.53,152.67 310.70,154.67 310.40,156.00 C310.10,157.33 309.60,158.47 308.80,159.20 C308.00,159.93 306.67,160.33 305.60,160.40 C304.53,160.47 303.07,160.47 302.40,159.60 C301.73,158.73 301.73,157.60 301.60,155.20 C301.47,152.80 301.07,146.67 301.60,145.20 Z" stroke="#707070" stroke-width="0.6" fill="#bebebe"/>
<path d="M303.25,147.75 C303.58,146.83 304.67,148.50 305.25,148.50 C305.83,148.50 306.21,147.96 306.75,147.75 C307.29,147.54 307.96,147.29 308.50,147.25 C309.04,147.21 309.67,147.29 310.00,147.50 C310.33,147.71 310.67,148.25 310.50,148.50 C310.33,148.75 309.27,148.50 309.00,149.00 C308.73,149.50 308.92,150.58 308.88,151.50 C308.83,152.42 308.94,153.67 308.75,154.50 C308.56,155.33 308.25,156.04 307.75,156.50 C307.25,156.96 306.42,157.21 305.75,157.25 C305.08,157.29 304.17,157.29 303.75,156.75 C303.33,156.21 303.33,155.50 303.25,154.00 C303.17,152.50 302.92,148.67 303.25,147.75 Z" stroke="#777" stroke-width="0.6" fill="#b4b4b4"/>
<path d="M321.00,132.50 C319.50,131.84 318.00,132.94 334.50,133.38" stroke="#999" stroke-width="0.6" fill="none"/>
<path d="M321.00,133.90 C319.50,133.66 318.00,134.06 334.50,134.22" stroke="#888" stroke-width="0.6" fill="none"/>
<path d="M321.00,135.30 C319.50,135.48 318.00,135.18 334.50,135.06" stroke="#888" stroke-width="0.6" fill="none"/>
<path d="M321.00,136.70 C319.50,137.30 318.00,136.30 334.50,135.90" stroke="#999" stroke-width="0.6" fill="none"/>
<path d="M338.19,140.64 C338.21,141.26 338.03,141.97 337.87,142.54 C337.71,143.10 337.48,143.59 337.24,144.00 C337.01,144.42 336.74,144.83 336.45,145.04 C336.16,145.26 335.82,145.29 335.50,145.31 C335.18,145.33 334.85,145.33 334.53,145.17 C334.21,145.01 333.81,144.78 333.58,144.34 C333.35,143.90 333.22,143.13 333.15,142.51 C333.08,141.90 333.14,141.26 333.15,140.64 C333.17,140.02 333.13,139.40 333.22,138.82 C333.30,138.23 333.46,137.59 333.68,137.13 C333.90,136.67 334.21,136.32 334.52,136.06 C334.82,135.81 335.18,135.57 335.50,135.59 C335.82,135.61 336.18,135.87 336.46,136.19 C336.73,136.50 336.92,137.03 337.14,137.47 C337.37,137.90 337.64,138.27 337.81,138.79 C337.99,139.32 338.18,140.02 338.19,140.64 Z" stroke="#999" stroke-width="0.6" fill="#ddd"/>
<path d="M337.12,140.64 C337.12,141.01 337.02,141.44 336.92,141.78 C336.83,142.11 336.69,142.41 336.55,142.66 C336.40,142.91 336.24,143.15 336.07,143.28 C335.89,143.41 335.69,143.43 335.50,143.44 C335.31,143.45 335.11,143.45 334.92,143.36 C334.72,143.26 334.49,143.13 334.35,142.86 C334.21,142.60 334.13,142.13 334.09,141.76 C334.05,141.39 334.09,141.01 334.09,140.64 C334.10,140.27 334.08,139.90 334.13,139.55 C334.18,139.19 334.28,138.81 334.41,138.53 C334.54,138.26 334.73,138.05 334.91,137.89 C335.09,137.74 335.31,137.60 335.50,137.61 C335.69,137.62 335.91,137.78 336.07,137.97 C336.24,138.16 336.35,138.48 336.49,138.74 C336.62,139.00 336.78,139.22 336.89,139.53 C336.99,139.85 337.11,140.27 337.12,140.64 Z" stroke="#888" stroke-width="0.6" fill="#bbb"/>
<path d="M340.80,134.70 C340.80,135.26 340.69,135.84 340.49,136.37 C340.29,136.90 339.98,137.42 339.60,137.87 C339.22,138.32 338.73,138.74 338.20,139.07 C337.68,139.40 337.06,139.66 336.45,139.84 C335.83,140.01 335.14,140.14 334.50,140.10 C333.86,140.06 333.40,139.88 332.62,139.57 C331.84,139.26 331.06,138.71 329.83,138.24 C328.59,137.77 326.83,137.18 325.23,136.73 C323.63,136.28 321.44,135.88 320.23,135.54 C319.03,135.20 318.00,134.98 318.00,134.70 C318.00,134.42 319.03,134.20 320.23,133.86 C321.44,133.52 323.63,133.12 325.23,132.67 C326.83,132.22 328.59,131.63 329.83,131.16 C331.06,130.69 331.84,130.14 332.62,129.83 C333.40,129.52 333.86,129.34 334.50,129.30 C335.14,129.26 335.83,129.39 336.45,129.56 C337.06,129.74 337.68,130.00 338.20,130.33 C338.73,130.66 339.22,131.08 339.60,131.53 C339.98,131.98 340.29,132.50 340.49,133.03 C340.69,133.56 340.80,134.14 340.80,134.70 Z" stroke="#777" stroke-width="0.6" fill="#cfcfcf"/>
<path d="M340.16,134.70 C340.16,135.19 340.07,135.70 339.89,136.17 C339.72,136.63 339.44,137.10 339.11,137.49 C338.77,137.89 338.34,138.26 337.88,138.54 C337.42,138.83 336.88,139.07 336.33,139.22 C335.79,139.37 335.18,139.49 334.62,139.45 C334.06,139.41 333.65,139.26 332.96,138.98 C332.28,138.71 331.59,138.23 330.51,137.81 C329.42,137.40 327.87,136.88 326.47,136.49 C325.06,136.09 323.13,135.74 322.07,135.44 C321.00,135.14 320.10,134.95 320.10,134.70 C320.10,134.45 321.00,134.26 322.07,133.96 C323.13,133.66 325.06,133.31 326.47,132.91 C327.87,132.52 329.42,132.00 330.51,131.59 C331.59,131.17 332.28,130.69 332.96,130.42 C333.65,130.14 334.06,129.99 334.62,129.95 C335.18,129.91 335.79,130.03 336.33,130.18 C336.88,130.33 337.42,130.57 337.88,130.86 C338.34,131.14 338.77,131.51 339.11,131.91 C339.44,132.30 339.72,132.77 339.89,133.23 C340.07,133.70 340.16,134.21 340.16,134.70 Z" stroke="#333" stroke-width="0.6" fill="#555"/>
<path d="M339.53,134.70 C339.53,135.12 339.45,135.57 339.29,135.97 C339.14,136.37 338.90,136.77 338.61,137.11 C338.32,137.45 337.95,137.77 337.55,138.02 C337.16,138.27 336.69,138.47 336.22,138.60 C335.75,138.73 335.23,138.84 334.74,138.80 C334.25,138.77 333.90,138.63 333.31,138.40 C332.72,138.16 332.12,137.75 331.19,137.39 C330.25,137.03 328.91,136.59 327.70,136.24 C326.48,135.90 324.81,135.59 323.90,135.34 C322.98,135.08 322.20,134.91 322.20,134.70 C322.20,134.49 322.98,134.32 323.90,134.06 C324.81,133.81 326.48,133.50 327.70,133.16 C328.91,132.81 330.25,132.37 331.19,132.01 C332.12,131.65 332.72,131.24 333.31,131.00 C333.90,130.77 334.25,130.63 334.74,130.60 C335.23,130.56 335.75,130.67 336.22,130.80 C336.69,130.93 337.16,131.13 337.55,131.38 C337.95,131.63 338.32,131.95 338.61,132.29 C338.90,132.63 339.14,133.03 339.29,133.43 C339.45,133.83 339.53,134.28 339.53,134.70 Z" stroke="#111" stroke-width="0.6" fill="#161616"/>
<path d="M338.79,134.70 C338.79,135.04 338.72,135.41 338.59,135.73 C338.47,136.06 338.28,136.39 338.04,136.67 C337.80,136.95 337.50,137.21 337.18,137.41 C336.85,137.61 336.47,137.78 336.09,137.88 C335.70,137.99 335.28,138.08 334.88,138.05 C334.48,138.02 334.20,137.91 333.71,137.72 C333.23,137.52 332.74,137.19 331.98,136.89 C331.22,136.60 330.13,136.24 329.13,135.96 C328.14,135.68 326.78,135.43 326.03,135.22 C325.29,135.01 324.65,134.87 324.65,134.70 C324.65,134.53 325.29,134.39 326.03,134.18 C326.78,133.97 328.14,133.72 329.13,133.44 C330.13,133.16 331.22,132.80 331.98,132.51 C332.74,132.21 333.23,131.88 333.71,131.68 C334.20,131.49 334.48,131.38 334.88,131.35 C335.28,131.32 335.70,131.41 336.09,131.52 C336.47,131.62 336.85,131.79 337.18,131.99 C337.50,132.19 337.80,132.45 338.04,132.73 C338.28,133.01 338.47,133.34 338.59,133.67 C338.72,133.99 338.79,134.36 338.79,134.70 Z" stroke="#111" stroke-width="0.6" fill="#2a2a2a"/>
<path d="M338.15,134.70 C338.15,134.98 338.10,135.27 338.00,135.53 C337.90,135.80 337.74,136.06 337.55,136.29 C337.36,136.51 337.11,136.72 336.85,136.88 C336.59,137.05 336.28,137.18 335.97,137.27 C335.66,137.35 335.32,137.42 335.00,137.40 C334.68,137.38 334.45,137.29 334.06,137.13 C333.67,136.98 333.28,136.71 332.66,136.47 C332.05,136.23 331.17,135.94 330.37,135.72 C329.57,135.49 328.47,135.29 327.87,135.12 C327.26,134.95 326.75,134.84 326.75,134.70 C326.75,134.56 327.26,134.45 327.87,134.28 C328.47,134.11 329.57,133.91 330.37,133.68 C331.17,133.46 332.05,133.17 332.66,132.93 C333.28,132.69 333.67,132.42 334.06,132.27 C334.45,132.11 334.68,132.02 335.00,132.00 C335.32,131.98 335.66,132.05 335.97,132.13 C336.28,132.22 336.59,132.35 336.85,132.52 C337.11,132.68 337.36,132.89 337.55,133.11 C337.74,133.34 337.90,133.60 338.00,133.87 C338.10,134.13 338.15,134.42 338.15,134.70 Z" stroke="#444" stroke-width="0.6" fill="#666"/>
<path d="M337.41,134.70 C337.41,134.90 337.37,135.11 337.30,135.30 C337.22,135.49 337.11,135.68 336.97,135.84 C336.84,136.00 336.66,136.16 336.47,136.27 C336.28,136.39 336.06,136.49 335.84,136.55 C335.62,136.61 335.37,136.66 335.14,136.64 C334.91,136.63 334.74,136.56 334.46,136.45 C334.18,136.34 333.90,136.14 333.46,135.97 C333.01,135.80 332.38,135.59 331.80,135.43 C331.23,135.27 330.44,135.12 330.00,135.00 C329.57,134.88 329.20,134.80 329.20,134.70 C329.20,134.60 329.57,134.52 330.00,134.40 C330.44,134.28 331.23,134.13 331.80,133.97 C332.38,133.81 333.01,133.60 333.46,133.43 C333.90,133.26 334.18,133.06 334.46,132.95 C334.74,132.84 334.91,132.77 335.14,132.76 C335.37,132.74 335.62,132.79 335.84,132.85 C336.06,132.91 336.28,133.01 336.47,133.13 C336.66,133.24 336.84,133.40 336.97,133.56 C337.11,133.72 337.22,133.91 337.30,134.10 C337.37,134.29 337.41,134.50 337.41,134.70 Z" stroke="#777" stroke-width="0.6" fill="#9a9a9a"/>
<path d="M336.67,134.70 C336.67,134.82 336.64,134.95 336.60,135.07 C336.55,135.18 336.49,135.30 336.40,135.40 C336.32,135.50 336.21,135.59 336.09,135.66 C335.98,135.73 335.84,135.79 335.71,135.83 C335.57,135.87 335.42,135.90 335.28,135.89 C335.14,135.88 335.04,135.84 334.87,135.77 C334.69,135.70 334.52,135.58 334.25,135.48 C333.98,135.37 333.59,135.25 333.24,135.15 C332.89,135.05 332.41,134.96 332.14,134.88 C331.88,134.81 331.65,134.76 331.65,134.70 C331.65,134.64 331.88,134.59 332.14,134.52 C332.41,134.44 332.89,134.35 333.24,134.25 C333.59,134.15 333.98,134.03 334.25,133.92 C334.52,133.82 334.69,133.70 334.87,133.63 C335.04,133.56 335.14,133.52 335.28,133.51 C335.42,133.50 335.57,133.53 335.71,133.57 C335.84,133.61 335.98,133.67 336.09,133.74 C336.21,133.81 336.32,133.90 336.40,134.00 C336.49,134.10 336.55,134.22 336.60,134.33 C336.64,134.45 336.67,134.58 336.67,134.70 Z" stroke="#999" stroke-width="0.6" fill="#c4c4c4"/>
<path d="M296.30,138.00 C299.30,142.00 299.30,164.50 296.30,168.50 C295.40,164.50 295.40,142.00 296.30,138.00 Z" fill="#151515"/>
</g>
<line x1="323.20" y1="121.40" x2="323.20" y2="179.40" stroke="#555" stroke-width="0.9" />
<line x1="294.70" y1="149.20" x2="352.00" y2="149.20" stroke="#555" stroke-width="0.9" />
<text x="297.10" y="130.40" font-size="7" text-anchor="start" font-weight="bold" fill="#111" stroke="#111" stroke-width="0.3" >21</text>
<text x="351.00" y="130.40" font-size="7" text-anchor="end" font-weight="bold" fill="#111" stroke="#111" stroke-width="0.3" >25</text>
<text x="297.10" y="178.20" font-size="7" text-anchor="start" font-weight="bold" fill="#111" stroke="#111" stroke-width="0.3" >53</text>
<text x="351.00" y="178.20" font-size="7" text-anchor="end" font-weight="bold" fill="#111" stroke="#111" stroke-width="0.3" >0.08</text>
<clipPath id="c11"><rect x="374.80" y="121.40" width="57.40" height="58.00"/></clipPath><g clip-path="url(#c11)">
<path d="M375.00,133.00 C376.00,128.50 379.00,131.00 381.00,131.00 C383.00,131.00 385.00,133.17 387.00,133.00 C389.00,132.83 390.83,130.33 393.00,130.00 C395.17,129.67 398.17,130.33 400.00,131.00 C401.83,131.67 403.83,132.50 404.00,134.00 C404.17,135.50 401.58,137.33 401.00,140.00 C400.42,142.67 401.00,146.67 400.50,150.00 C400.00,153.33 399.42,157.17 398.00,160.00 C396.58,162.83 394.33,165.42 392.00,167.00 C389.67,168.58 386.50,169.33 384.00,169.50 C381.50,169.67 378.50,169.92 377.00,168.00 C375.50,166.08 375.33,163.83 375.00,158.00 C374.67,152.17 374.00,137.50 375.00,133.00 Z" stroke="#888" stroke-width="0.6" fill="#f0f0f0"/>
<path d="M376.95,135.85 C377.80,132.03 380.35,134.15 382.05,134.15 C383.75,134.15 385.45,135.99 387.15,135.85 C388.85,135.71 390.41,133.58 392.25,133.30 C394.09,133.02 396.64,133.58 398.20,134.15 C399.76,134.72 401.46,135.42 401.60,136.70 C401.74,137.97 399.55,139.53 399.05,141.80 C398.55,144.07 399.05,147.47 398.62,150.30 C398.20,153.13 397.70,156.39 396.50,158.80 C395.30,161.21 393.38,163.40 391.40,164.75 C389.42,166.10 386.73,166.73 384.60,166.88 C382.48,167.02 379.92,167.23 378.65,165.60 C377.38,163.97 377.23,162.06 376.95,157.10 C376.67,152.14 376.10,139.67 376.95,135.85 Z" stroke="#808080" stroke-width="0.6" fill="#e2e2e2"/>
<path d="M378.90,138.70 C379.60,135.55 381.70,137.30 383.10,137.30 C384.50,137.30 385.90,138.82 387.30,138.70 C388.70,138.58 389.98,136.83 391.50,136.60 C393.02,136.37 395.12,136.83 396.40,137.30 C397.68,137.77 399.08,138.35 399.20,139.40 C399.32,140.45 397.51,141.73 397.10,143.60 C396.69,145.47 397.10,148.27 396.75,150.60 C396.40,152.93 395.99,155.62 395.00,157.60 C394.01,159.58 392.43,161.39 390.80,162.50 C389.17,163.61 386.95,164.13 385.20,164.25 C383.45,164.37 381.35,164.54 380.30,163.20 C379.25,161.86 379.13,160.28 378.90,156.20 C378.67,152.12 378.20,141.85 378.90,138.70 Z" stroke="#777" stroke-width="0.6" fill="#d4d4d4"/>
<path d="M380.85,141.55 C381.40,139.08 383.05,140.45 384.15,140.45 C385.25,140.45 386.35,141.64 387.45,141.55 C388.55,141.46 389.56,140.08 390.75,139.90 C391.94,139.72 393.59,140.08 394.60,140.45 C395.61,140.82 396.71,141.27 396.80,142.10 C396.89,142.93 395.47,143.93 395.15,145.40 C394.83,146.87 395.15,149.07 394.88,150.90 C394.60,152.73 394.28,154.84 393.50,156.40 C392.72,157.96 391.48,159.38 390.20,160.25 C388.92,161.12 387.18,161.53 385.80,161.62 C384.43,161.72 382.77,161.85 381.95,160.80 C381.12,159.75 381.03,158.51 380.85,155.30 C380.67,152.09 380.30,144.03 380.85,141.55 Z" stroke="#707070" stroke-width="0.6" fill="#c8c8c8"/>
<path d="M382.80,144.40 C383.20,142.60 384.40,143.60 385.20,143.60 C386.00,143.60 386.80,144.47 387.60,144.40 C388.40,144.33 389.13,143.33 390.00,143.20 C390.87,143.07 392.07,143.33 392.80,143.60 C393.53,143.87 394.33,144.20 394.40,144.80 C394.47,145.40 393.43,146.13 393.20,147.20 C392.97,148.27 393.20,149.87 393.00,151.20 C392.80,152.53 392.57,154.07 392.00,155.20 C391.43,156.33 390.53,157.37 389.60,158.00 C388.67,158.63 387.40,158.93 386.40,159.00 C385.40,159.07 384.20,159.17 383.60,158.40 C383.00,157.63 382.93,156.73 382.80,154.40 C382.67,152.07 382.40,146.20 382.80,144.40 Z" stroke="#707070" stroke-width="0.6" fill="#bebebe"/>
<path d="M384.75,147.25 C385.00,146.12 385.75,146.75 386.25,146.75 C386.75,146.75 387.25,147.29 387.75,147.25 C388.25,147.21 388.71,146.58 389.25,146.50 C389.79,146.42 390.54,146.58 391.00,146.75 C391.46,146.92 391.96,147.12 392.00,147.50 C392.04,147.88 391.40,148.33 391.25,149.00 C391.10,149.67 391.25,150.67 391.12,151.50 C391.00,152.33 390.85,153.29 390.50,154.00 C390.15,154.71 389.58,155.35 389.00,155.75 C388.42,156.15 387.62,156.33 387.00,156.38 C386.38,156.42 385.62,156.48 385.25,156.00 C384.88,155.52 384.83,154.96 384.75,153.50 C384.67,152.04 384.50,148.38 384.75,147.25 Z" stroke="#777" stroke-width="0.6" fill="#b4b4b4"/>
<path d="M401.00,132.50 C401.00,131.84 401.00,132.94 413.50,133.38" stroke="#999" stroke-width="0.6" fill="none"/>
<path d="M401.00,133.90 C401.00,133.66 401.00,134.06 413.50,134.22" stroke="#888" stroke-width="0.6" fill="none"/>
<path d="M401.00,135.30 C401.00,135.48 401.00,135.18 413.50,135.06" stroke="#888" stroke-width="0.6" fill="none"/>
<path d="M401.00,136.70 C401.00,137.30 401.00,136.30 413.50,135.90" stroke="#999" stroke-width="0.6" fill="none"/>
<path d="M421.10,134.70 C421.10,135.50 420.97,136.35 420.73,137.11 C420.49,137.87 420.11,138.63 419.65,139.28 C419.19,139.93 418.60,140.54 417.97,141.01 C417.33,141.48 416.59,141.87 415.85,142.12 C415.10,142.37 414.13,142.56 413.50,142.50 C412.87,142.44 412.66,142.18 412.07,141.73 C411.48,141.28 410.89,140.49 409.96,139.81 C409.03,139.13 407.69,138.28 406.48,137.63 C405.27,136.98 403.61,136.40 402.69,135.91 C401.78,135.42 401.00,135.10 401.00,134.70 C401.00,134.30 401.78,133.98 402.69,133.49 C403.61,133.00 405.27,132.42 406.48,131.77 C407.69,131.12 409.03,130.27 409.96,129.59 C410.89,128.91 411.48,128.12 412.07,127.67 C412.66,127.22 412.87,126.96 413.50,126.90 C414.13,126.84 415.10,127.03 415.85,127.28 C416.59,127.53 417.33,127.92 417.97,128.39 C418.60,128.86 419.19,129.47 419.65,130.12 C420.11,130.77 420.49,131.53 420.73,132.29 C420.97,133.05 421.10,133.90 421.10,134.70 Z" stroke="#777" stroke-width="0.6" fill="#cfcfcf"/>
<path d="M420.31,134.70 C420.31,135.41 420.19,136.15 419.98,136.82 C419.77,137.49 419.44,138.16 419.03,138.73 C418.63,139.31 418.11,139.84 417.55,140.25 C416.99,140.67 416.34,141.01 415.69,141.23 C415.03,141.45 414.17,141.62 413.62,141.56 C413.07,141.51 412.88,141.28 412.37,140.89 C411.85,140.49 411.32,139.80 410.50,139.20 C409.68,138.60 408.51,137.85 407.44,137.28 C406.38,136.71 404.91,136.20 404.11,135.77 C403.31,135.34 402.62,135.06 402.62,134.70 C402.62,134.34 403.31,134.06 404.11,133.63 C404.91,133.20 406.38,132.69 407.44,132.12 C408.51,131.55 409.68,130.80 410.50,130.20 C411.32,129.60 411.85,128.91 412.37,128.51 C412.88,128.12 413.07,127.89 413.62,127.84 C414.17,127.78 415.03,127.95 415.69,128.17 C416.34,128.39 416.99,128.73 417.55,129.15 C418.11,129.56 418.63,130.09 419.03,130.67 C419.44,131.24 419.77,131.91 419.98,132.58 C420.19,133.25 420.31,133.99 420.31,134.70 Z" stroke="#333" stroke-width="0.6" fill="#555"/>
<path d="M419.52,134.70 C419.52,135.31 419.42,135.95 419.23,136.53 C419.05,137.11 418.76,137.69 418.41,138.18 C418.06,138.68 417.62,139.14 417.14,139.50 C416.65,139.85 416.09,140.15 415.52,140.34 C414.96,140.53 414.22,140.68 413.74,140.63 C413.26,140.58 413.10,140.38 412.66,140.04 C412.21,139.70 411.76,139.10 411.05,138.58 C410.34,138.07 409.33,137.42 408.40,136.93 C407.48,136.44 406.22,135.99 405.53,135.62 C404.83,135.25 404.24,135.01 404.24,134.70 C404.24,134.39 404.83,134.15 405.53,133.78 C406.22,133.41 407.48,132.96 408.40,132.47 C409.33,131.98 410.34,131.33 411.05,130.82 C411.76,130.30 412.21,129.70 412.66,129.36 C413.10,129.02 413.26,128.82 413.74,128.77 C414.22,128.72 414.96,128.87 415.52,129.06 C416.09,129.25 416.65,129.55 417.14,129.90 C417.62,130.26 418.06,130.72 418.41,131.22 C418.76,131.71 419.05,132.29 419.23,132.87 C419.42,133.45 419.52,134.09 419.52,134.70 Z" stroke="#111" stroke-width="0.6" fill="#161616"/>
<path d="M418.59,134.70 C418.59,135.20 418.51,135.72 418.36,136.19 C418.21,136.67 417.98,137.14 417.69,137.54 C417.41,137.95 417.04,138.32 416.65,138.61 C416.26,138.91 415.80,139.15 415.34,139.30 C414.87,139.45 414.27,139.58 413.88,139.54 C413.49,139.50 413.36,139.34 413.00,139.06 C412.63,138.78 412.26,138.29 411.68,137.87 C411.11,137.45 410.28,136.92 409.53,136.52 C408.78,136.12 407.75,135.75 407.18,135.45 C406.61,135.15 406.13,134.95 406.13,134.70 C406.13,134.45 406.61,134.25 407.18,133.95 C407.75,133.65 408.78,133.28 409.53,132.88 C410.28,132.48 411.11,131.95 411.68,131.53 C412.26,131.11 412.63,130.62 413.00,130.34 C413.36,130.06 413.49,129.90 413.88,129.86 C414.27,129.82 414.87,129.95 415.34,130.10 C415.80,130.25 416.26,130.49 416.65,130.79 C417.04,131.08 417.41,131.45 417.69,131.86 C417.98,132.26 418.21,132.73 418.36,133.21 C418.51,133.68 418.59,134.20 418.59,134.70 Z" stroke="#111" stroke-width="0.6" fill="#2a2a2a"/>
<path d="M417.80,134.70 C417.80,135.10 417.73,135.52 417.61,135.91 C417.49,136.29 417.30,136.67 417.07,136.99 C416.84,137.32 416.55,137.62 416.23,137.86 C415.92,138.09 415.55,138.28 415.17,138.41 C414.80,138.53 414.31,138.63 414.00,138.60 C413.69,138.57 413.58,138.44 413.29,138.21 C412.99,137.99 412.70,137.60 412.23,137.26 C411.76,136.91 411.10,136.49 410.49,136.17 C409.88,135.84 409.05,135.55 408.60,135.31 C408.14,135.06 407.75,134.90 407.75,134.70 C407.75,134.50 408.14,134.34 408.60,134.09 C409.05,133.85 409.88,133.56 410.49,133.23 C411.10,132.91 411.76,132.49 412.23,132.14 C412.70,131.80 412.99,131.41 413.29,131.19 C413.58,130.96 413.69,130.83 414.00,130.80 C414.31,130.77 414.80,130.87 415.17,130.99 C415.55,131.12 415.92,131.31 416.23,131.54 C416.55,131.78 416.84,132.08 417.07,132.41 C417.30,132.73 417.49,133.11 417.61,133.49 C417.73,133.88 417.80,134.30 417.80,134.70 Z" stroke="#444" stroke-width="0.6" fill="#666"/>
<path d="M416.88,134.70 C416.88,134.99 416.83,135.29 416.74,135.57 C416.66,135.84 416.52,136.12 416.35,136.35 C416.19,136.58 415.98,136.80 415.75,136.97 C415.52,137.14 415.25,137.28 414.99,137.37 C414.72,137.46 414.37,137.53 414.14,137.51 C413.91,137.48 413.84,137.39 413.63,137.23 C413.41,137.07 413.20,136.79 412.87,136.54 C412.53,136.29 412.05,135.99 411.61,135.76 C411.18,135.52 410.58,135.31 410.25,135.14 C409.92,134.96 409.64,134.85 409.64,134.70 C409.64,134.55 409.92,134.44 410.25,134.26 C410.58,134.09 411.18,133.88 411.61,133.64 C412.05,133.41 412.53,133.11 412.87,132.86 C413.20,132.61 413.41,132.33 413.63,132.17 C413.84,132.01 413.91,131.92 414.14,131.89 C414.37,131.87 414.72,131.94 414.99,132.03 C415.25,132.12 415.52,132.26 415.75,132.43 C415.98,132.60 416.19,132.82 416.35,133.05 C416.52,133.28 416.66,133.56 416.74,133.83 C416.83,134.11 416.88,134.41 416.88,134.70 Z" stroke="#777" stroke-width="0.6" fill="#9a9a9a"/>
<path d="M415.95,134.70 C415.95,134.88 415.92,135.06 415.87,135.23 C415.82,135.40 415.73,135.57 415.63,135.71 C415.53,135.85 415.40,135.98 415.26,136.09 C415.12,136.19 414.96,136.28 414.80,136.33 C414.63,136.39 414.42,136.43 414.28,136.42 C414.14,136.40 414.10,136.34 413.97,136.25 C413.84,136.15 413.71,135.97 413.50,135.82 C413.30,135.67 413.00,135.49 412.74,135.35 C412.47,135.20 412.10,135.07 411.90,134.97 C411.70,134.86 411.53,134.79 411.53,134.70 C411.53,134.61 411.70,134.54 411.90,134.43 C412.10,134.33 412.47,134.20 412.74,134.05 C413.00,133.91 413.30,133.73 413.50,133.58 C413.71,133.43 413.84,133.25 413.97,133.15 C414.10,133.06 414.14,133.00 414.28,132.98 C414.42,132.97 414.63,133.01 414.80,133.07 C414.96,133.12 415.12,133.21 415.26,133.31 C415.40,133.42 415.53,133.55 415.63,133.69 C415.73,133.83 415.82,134.00 415.87,134.17 C415.92,134.34 415.95,134.52 415.95,134.70 Z" stroke="#999" stroke-width="0.6" fill="#c4c4c4"/>
<path d="M375.70,140.00 C377.70,144.00 377.70,166.00 375.70,170.00 C375.10,166.00 375.10,144.00 375.70,140.00 Z" fill="#555"/>
</g>
<line x1="402.80" y1="121.40" x2="402.80" y2="179.40" stroke="#555" stroke-width="0.9" />
<line x1="374.80" y1="149.20" x2="432.20" y2="149.20" stroke="#555" stroke-width="0.9" />
<text x="377.20" y="130.40" font-size="7" text-anchor="start" font-weight="bold" fill="#111" stroke="#111" stroke-width="0.3" >19</text>
<text x="431.20" y="130.40" font-size="7" text-anchor="end" font-weight="bold" fill="#111" stroke="#111" stroke-width="0.3" >54</text>
<text x="377.20" y="178.20" font-size="7" text-anchor="start" font-weight="bold" fill="#111" stroke="#111" stroke-width="0.3" >27</text>
<text x="431.20" y="178.20" font-size="7" text-anchor="end" font-weight="bold" fill="#111" stroke="#111" stroke-width="0.3" >0</text>
<clipPath id="c12"><rect x="454.20" y="121.40" width="57.50" height="58.00"/></clipPath><g clip-path="url(#c12)">
<path d="M455.00,135.00 C456.00,131.00 458.83,136.08 461.00,136.00 C463.17,135.92 465.67,134.67 468.00,134.50 C470.33,134.33 472.83,134.75 475.00,135.00 C477.17,135.25 479.50,135.33 481.00,136.00 C482.50,136.67 484.17,138.00 484.00,139.00 C483.83,140.00 480.67,139.83 480.00,142.00 C479.33,144.17 480.33,148.67 480.00,152.00 C479.67,155.33 479.33,159.33 478.00,162.00 C476.67,164.67 474.50,166.50 472.00,168.00 C469.50,169.50 465.75,170.67 463.00,171.00 C460.25,171.33 456.83,171.83 455.50,170.00 C454.17,168.17 455.08,165.83 455.00,160.00 C454.92,154.17 454.00,139.00 455.00,135.00 Z" stroke="#888" stroke-width="0.6" fill="#f0f0f0"/>
<path d="M456.80,137.55 C457.65,134.15 460.06,138.47 461.90,138.40 C463.74,138.33 465.87,137.27 467.85,137.12 C469.83,136.98 471.96,137.34 473.80,137.55 C475.64,137.76 477.62,137.83 478.90,138.40 C480.17,138.97 481.59,140.10 481.45,140.95 C481.31,141.80 478.62,141.66 478.05,143.50 C477.48,145.34 478.33,149.17 478.05,152.00 C477.77,154.83 477.48,158.23 476.35,160.50 C475.22,162.77 473.38,164.32 471.25,165.60 C469.12,166.88 465.94,167.87 463.60,168.15 C461.26,168.43 458.36,168.86 457.23,167.30 C456.09,165.74 456.87,163.76 456.80,158.80 C456.73,153.84 455.95,140.95 456.80,137.55 Z" stroke="#808080" stroke-width="0.6" fill="#e2e2e2"/>
<path d="M458.60,140.10 C459.30,137.30 461.28,140.86 462.80,140.80 C464.32,140.74 466.07,139.87 467.70,139.75 C469.33,139.63 471.08,139.92 472.60,140.10 C474.12,140.28 475.75,140.33 476.80,140.80 C477.85,141.27 479.02,142.20 478.90,142.90 C478.78,143.60 476.57,143.48 476.10,145.00 C475.63,146.52 476.33,149.67 476.10,152.00 C475.87,154.33 475.63,157.13 474.70,159.00 C473.77,160.87 472.25,162.15 470.50,163.20 C468.75,164.25 466.12,165.07 464.20,165.30 C462.27,165.53 459.88,165.88 458.95,164.60 C458.02,163.32 458.66,161.68 458.60,157.60 C458.54,153.52 457.90,142.90 458.60,140.10 Z" stroke="#777" stroke-width="0.6" fill="#d4d4d4"/>
<path d="M460.40,142.65 C460.95,140.45 462.51,143.25 463.70,143.20 C464.89,143.15 466.27,142.47 467.55,142.38 C468.83,142.28 470.21,142.51 471.40,142.65 C472.59,142.79 473.88,142.83 474.70,143.20 C475.52,143.57 476.44,144.30 476.35,144.85 C476.26,145.40 474.52,145.31 474.15,146.50 C473.78,147.69 474.33,150.17 474.15,152.00 C473.97,153.83 473.78,156.03 473.05,157.50 C472.32,158.97 471.12,159.98 469.75,160.80 C468.38,161.62 466.31,162.27 464.80,162.45 C463.29,162.63 461.41,162.91 460.68,161.90 C459.94,160.89 460.45,159.61 460.40,156.40 C460.35,153.19 459.85,144.85 460.40,142.65 Z" stroke="#707070" stroke-width="0.6" fill="#c8c8c8"/>
<path d="M462.20,145.20 C462.60,143.60 463.73,145.63 464.60,145.60 C465.47,145.57 466.47,145.07 467.40,145.00 C468.33,144.93 469.33,145.10 470.20,145.20 C471.07,145.30 472.00,145.33 472.60,145.60 C473.20,145.87 473.87,146.40 473.80,146.80 C473.73,147.20 472.47,147.13 472.20,148.00 C471.93,148.87 472.33,150.67 472.20,152.00 C472.07,153.33 471.93,154.93 471.40,156.00 C470.87,157.07 470.00,157.80 469.00,158.40 C468.00,159.00 466.50,159.47 465.40,159.60 C464.30,159.73 462.93,159.93 462.40,159.20 C461.87,158.47 462.23,157.53 462.20,155.20 C462.17,152.87 461.80,146.80 462.20,145.20 Z" stroke="#707070" stroke-width="0.6" fill="#bebebe"/>
<path d="M464.00,147.75 C464.25,146.75 464.96,148.02 465.50,148.00 C466.04,147.98 466.67,147.67 467.25,147.62 C467.83,147.58 468.46,147.69 469.00,147.75 C469.54,147.81 470.12,147.83 470.50,148.00 C470.88,148.17 471.29,148.50 471.25,148.75 C471.21,149.00 470.42,148.96 470.25,149.50 C470.08,150.04 470.33,151.17 470.25,152.00 C470.17,152.83 470.08,153.83 469.75,154.50 C469.42,155.17 468.88,155.62 468.25,156.00 C467.62,156.38 466.69,156.67 466.00,156.75 C465.31,156.83 464.46,156.96 464.12,156.50 C463.79,156.04 464.02,155.46 464.00,154.00 C463.98,152.54 463.75,148.75 464.00,147.75 Z" stroke="#777" stroke-width="0.6" fill="#b4b4b4"/>
<path d="M481.00,136.10 C481.50,135.44 482.00,136.54 492.00,136.98" stroke="#999" stroke-width="0.6" fill="none"/>
<path d="M481.00,137.50 C481.50,137.26 482.00,137.66 492.00,137.82" stroke="#888" stroke-width="0.6" fill="none"/>
<path d="M481.00,138.90 C481.50,139.08 482.00,138.78 492.00,138.66" stroke="#888" stroke-width="0.6" fill="none"/>
<path d="M481.00,140.30 C481.50,140.90 482.00,139.90 492.00,139.50" stroke="#999" stroke-width="0.6" fill="none"/>
<path d="M497.60,138.30 C497.60,138.84 497.50,139.40 497.33,139.91 C497.15,140.42 496.87,140.92 496.53,141.36 C496.19,141.79 495.76,142.19 495.29,142.51 C494.82,142.82 494.28,143.08 493.73,143.25 C493.18,143.41 492.48,143.54 492.00,143.50 C491.52,143.46 491.33,143.28 490.86,142.99 C490.39,142.69 489.91,142.16 489.17,141.71 C488.42,141.25 487.35,140.69 486.38,140.26 C485.42,139.82 484.08,139.43 483.35,139.11 C482.62,138.78 482.00,138.57 482.00,138.30 C482.00,138.03 482.62,137.82 483.35,137.49 C484.08,137.17 485.42,136.78 486.38,136.34 C487.35,135.91 488.42,135.35 489.17,134.89 C489.91,134.44 490.39,133.91 490.86,133.61 C491.33,133.32 491.52,133.14 492.00,133.10 C492.48,133.06 493.18,133.19 493.73,133.35 C494.28,133.52 494.82,133.78 495.29,134.09 C495.76,134.41 496.19,134.81 496.53,135.24 C496.87,135.68 497.15,136.18 497.33,136.69 C497.50,137.20 497.60,137.76 497.60,138.30 Z" stroke="#777" stroke-width="0.6" fill="#cfcfcf"/>
<path d="M497.05,138.30 C497.05,138.77 496.96,139.27 496.81,139.71 C496.65,140.16 496.41,140.61 496.11,140.99 C495.81,141.37 495.43,141.73 495.02,142.00 C494.61,142.28 494.13,142.51 493.64,142.65 C493.16,142.80 492.54,142.91 492.12,142.88 C491.70,142.84 491.53,142.69 491.12,142.42 C490.70,142.16 490.28,141.70 489.63,141.30 C488.97,140.90 488.03,140.40 487.18,140.02 C486.33,139.64 485.15,139.30 484.51,139.01 C483.87,138.72 483.32,138.54 483.32,138.30 C483.32,138.06 483.87,137.88 484.51,137.59 C485.15,137.30 486.33,136.96 487.18,136.58 C488.03,136.20 488.97,135.70 489.63,135.30 C490.28,134.90 490.70,134.44 491.12,134.18 C491.53,133.91 491.70,133.76 492.12,133.72 C492.54,133.69 493.16,133.80 493.64,133.95 C494.13,134.09 494.61,134.32 495.02,134.60 C495.43,134.87 495.81,135.23 496.11,135.61 C496.41,135.99 496.65,136.44 496.81,136.89 C496.96,137.33 497.05,137.83 497.05,138.30 Z" stroke="#333" stroke-width="0.6" fill="#555"/>
<path d="M496.50,138.30 C496.50,138.71 496.42,139.13 496.29,139.52 C496.15,139.91 495.94,140.29 495.68,140.62 C495.43,140.95 495.10,141.26 494.74,141.50 C494.39,141.74 493.97,141.93 493.56,142.06 C493.14,142.18 492.60,142.28 492.24,142.25 C491.88,142.22 491.73,142.09 491.37,141.86 C491.01,141.63 490.65,141.24 490.09,140.89 C489.52,140.54 488.71,140.12 487.97,139.79 C487.24,139.46 486.22,139.16 485.67,138.91 C485.11,138.67 484.64,138.50 484.64,138.30 C484.64,138.10 485.11,137.93 485.67,137.69 C486.22,137.44 487.24,137.14 487.97,136.81 C488.71,136.48 489.52,136.06 490.09,135.71 C490.65,135.36 491.01,134.97 491.37,134.74 C491.73,134.51 491.88,134.38 492.24,134.35 C492.60,134.32 493.14,134.42 493.56,134.54 C493.97,134.67 494.39,134.86 494.74,135.10 C495.10,135.34 495.43,135.65 495.68,135.98 C495.94,136.31 496.15,136.69 496.29,137.08 C496.42,137.47 496.50,137.89 496.50,138.30 Z" stroke="#111" stroke-width="0.6" fill="#161616"/>
<path d="M495.85,138.30 C495.85,138.63 495.79,138.98 495.68,139.30 C495.57,139.61 495.40,139.93 495.19,140.20 C494.98,140.46 494.71,140.71 494.42,140.91 C494.13,141.10 493.79,141.26 493.45,141.37 C493.11,141.47 492.68,141.55 492.38,141.52 C492.08,141.50 491.97,141.39 491.67,141.21 C491.38,141.02 491.09,140.69 490.62,140.41 C490.16,140.13 489.50,139.78 488.90,139.51 C488.30,139.24 487.47,139.00 487.02,138.80 C486.57,138.60 486.18,138.47 486.18,138.30 C486.18,138.13 486.57,138.00 487.02,137.80 C487.47,137.60 488.30,137.36 488.90,137.09 C489.50,136.82 490.16,136.47 490.62,136.19 C491.09,135.91 491.38,135.58 491.67,135.39 C491.97,135.21 492.08,135.10 492.38,135.08 C492.68,135.05 493.11,135.13 493.45,135.23 C493.79,135.34 494.13,135.50 494.42,135.69 C494.71,135.89 494.98,136.14 495.19,136.40 C495.40,136.67 495.57,136.99 495.68,137.30 C495.79,137.62 495.85,137.97 495.85,138.30 Z" stroke="#111" stroke-width="0.6" fill="#2a2a2a"/>
<path d="M495.30,138.30 C495.30,138.57 495.25,138.85 495.16,139.10 C495.07,139.36 494.93,139.61 494.77,139.83 C494.60,140.04 494.38,140.25 494.15,140.40 C493.91,140.56 493.64,140.69 493.37,140.77 C493.09,140.86 492.74,140.92 492.50,140.90 C492.26,140.88 492.17,140.79 491.93,140.64 C491.69,140.49 491.46,140.23 491.08,140.00 C490.71,139.78 490.18,139.49 489.69,139.28 C489.21,139.06 488.54,138.87 488.18,138.70 C487.81,138.54 487.50,138.43 487.50,138.30 C487.50,138.17 487.81,138.06 488.18,137.90 C488.54,137.73 489.21,137.54 489.69,137.32 C490.18,137.11 490.71,136.82 491.08,136.60 C491.46,136.37 491.69,136.11 491.93,135.96 C492.17,135.81 492.26,135.72 492.50,135.70 C492.74,135.68 493.09,135.74 493.37,135.83 C493.64,135.91 493.91,136.04 494.15,136.20 C494.38,136.35 494.60,136.56 494.77,136.77 C494.93,136.99 495.07,137.24 495.16,137.50 C495.25,137.75 495.30,138.03 495.30,138.30 Z" stroke="#444" stroke-width="0.6" fill="#666"/>
<path d="M494.66,138.30 C494.66,138.49 494.62,138.70 494.56,138.88 C494.49,139.06 494.39,139.24 494.27,139.40 C494.15,139.56 493.99,139.70 493.82,139.81 C493.66,139.93 493.46,140.02 493.26,140.08 C493.07,140.14 492.81,140.19 492.64,140.17 C492.47,140.16 492.40,140.09 492.23,139.99 C492.06,139.88 491.89,139.69 491.62,139.53 C491.35,139.36 490.97,139.16 490.62,139.00 C490.27,138.85 489.79,138.71 489.53,138.59 C489.26,138.47 489.04,138.40 489.04,138.30 C489.04,138.20 489.26,138.13 489.53,138.01 C489.79,137.89 490.27,137.75 490.62,137.60 C490.97,137.44 491.35,137.24 491.62,137.07 C491.89,136.91 492.06,136.72 492.23,136.61 C492.40,136.51 492.47,136.44 492.64,136.43 C492.81,136.41 493.07,136.46 493.26,136.52 C493.46,136.58 493.66,136.67 493.82,136.79 C493.99,136.90 494.15,137.04 494.27,137.20 C494.39,137.36 494.49,137.54 494.56,137.72 C494.62,137.90 494.66,138.11 494.66,138.30 Z" stroke="#777" stroke-width="0.6" fill="#9a9a9a"/>
<path d="M494.01,138.30 C494.01,138.42 493.99,138.54 493.95,138.65 C493.91,138.77 493.85,138.88 493.78,138.97 C493.70,139.07 493.61,139.16 493.50,139.23 C493.40,139.29 493.28,139.35 493.16,139.39 C493.04,139.42 492.89,139.45 492.78,139.44 C492.67,139.43 492.63,139.40 492.53,139.33 C492.43,139.27 492.32,139.15 492.16,139.05 C491.99,138.95 491.76,138.83 491.54,138.73 C491.33,138.64 491.04,138.55 490.88,138.48 C490.72,138.41 490.58,138.36 490.58,138.30 C490.58,138.24 490.72,138.19 490.88,138.12 C491.04,138.05 491.33,137.96 491.54,137.87 C491.76,137.77 491.99,137.65 492.16,137.55 C492.32,137.45 492.43,137.33 492.53,137.27 C492.63,137.20 492.67,137.17 492.78,137.16 C492.89,137.15 493.04,137.18 493.16,137.21 C493.28,137.25 493.40,137.31 493.50,137.37 C493.61,137.44 493.70,137.53 493.78,137.63 C493.85,137.72 493.91,137.83 493.95,137.95 C493.99,138.06 494.01,138.18 494.01,138.30 Z" stroke="#999" stroke-width="0.6" fill="#c4c4c4"/>
<path d="M455.80,138.00 C458.80,142.00 458.80,162.00 455.80,166.00 C454.90,162.00 454.90,142.00 455.80,138.00 Z" fill="#111"/>
</g>
<line x1="482.40" y1="121.40" x2="482.40" y2="179.40" stroke="#555" stroke-width="0.9" />
<line x1="454.20" y1="149.20" x2="511.70" y2="149.20" stroke="#555" stroke-width="0.9" />
<text x="456.60" y="130.40" font-size="7" text-anchor="start" font-weight="bold" fill="#111" stroke="#111" stroke-width="0.3" >20</text>
<text x="510.70" y="130.40" font-size="7" text-anchor="end" font-weight="bold" fill="#111" stroke="#111" stroke-width="0.3" >35</text>
<text x="456.60" y="178.20" font-size="7" text-anchor="start" font-weight="bold" fill="#111" stroke="#111" stroke-width="0.3" >44</text>
<text x="510.70" y="178.20" font-size="7" text-anchor="end" font-weight="bold" fill="#111" stroke="#111" stroke-width="0.3" >0.3</text>
<text x="8.90" y="220.30" font-size="11.2" text-anchor="start" font-weight="bold" fill="#111" stroke="#111" stroke-width="0.35" >B</text>
<line x1="50.50" y1="221.40" x2="50.50" y2="342.30" stroke="#111" stroke-width="1.4" />
<line x1="47.70" y1="341.60" x2="50.50" y2="341.60" stroke="#111" stroke-width="1.1" />
<text x="43.10" y="344.30" font-size="7.6" text-anchor="end" fill="#333" stroke="#333" stroke-width="0.15">0</text>
<line x1="47.70" y1="322.07" x2="50.50" y2="322.07" stroke="#111" stroke-width="1.1" />
<text x="43.10" y="324.77" font-size="7.6" text-anchor="end" fill="#333" stroke="#333" stroke-width="0.15">10</text>
<line x1="47.70" y1="302.53" x2="50.50" y2="302.53" stroke="#111" stroke-width="1.1" />
<text x="43.10" y="305.23" font-size="7.6" text-anchor="end" fill="#333" stroke="#333" stroke-width="0.15">20</text>
<line x1="47.70" y1="283.00" x2="50.50" y2="283.00" stroke="#111" stroke-width="1.1" />
<text x="43.10" y="285.70" font-size="7.6" text-anchor="end" fill="#333" stroke="#333" stroke-width="0.15">30</text>
<line x1="47.70" y1="263.47" x2="50.50" y2="263.47" stroke="#111" stroke-width="1.1" />
<text x="43.10" y="266.17" font-size="7.6" text-anchor="end" fill="#333" stroke="#333" stroke-width="0.15">40</text>
<line x1="47.70" y1="243.93" x2="50.50" y2="243.93" stroke="#111" stroke-width="1.1" />
<text x="43.10" y="246.63" font-size="7.6" text-anchor="end" fill="#333" stroke="#333" stroke-width="0.15">50</text>
<line x1="47.70" y1="224.40" x2="50.50" y2="224.40" stroke="#111" stroke-width="1.1" />
<text x="43.10" y="227.10" font-size="7.6" text-anchor="end" fill="#333" stroke="#333" stroke-width="0.15">60</text>
<line x1="49.80" y1="341.60" x2="227.60" y2="341.60" stroke="#111" stroke-width="1.4" />
<line x1="80.20" y1="341.60" x2="80.20" y2="344.60" stroke="#111" stroke-width="1.1" />
<line x1="139.10" y1="341.60" x2="139.10" y2="344.60" stroke="#111" stroke-width="1.1" />
<line x1="198.10" y1="341.60" x2="198.10" y2="344.60" stroke="#111" stroke-width="1.1" />
<text x="27.60" y="304.40" font-size="7.6" text-anchor="start" textLength="43" lengthAdjust="spacingAndGlyphs" font-weight="normal" fill="#222" stroke="#222" stroke-width="0.3" transform="rotate(-90 27.60 304.40)">%H2K<tspan font-size="4.6" dy="-2.8">b</tspan><tspan font-size="4.6" dy="0">+</tspan><tspan dy="2.8">B220</tspan><tspan font-size="4.6" dy="-2.8">+</tspan></text>
<text x="164.00" y="233.50" font-size="7.9" text-anchor="middle" font-weight="normal" fill="#333" stroke="#333" stroke-width="0.18" >p=0.001</text>
<circle cx="76.00" cy="230.00" r="2.65" fill="#6b9d52" stroke="#4e7f3a" stroke-width="0.6"/>
<circle cx="84.40" cy="230.00" r="2.65" fill="#6b9d52" stroke="#4e7f3a" stroke-width="0.6"/>
<circle cx="80.20" cy="243.80" r="2.65" fill="#6b9d52" stroke="#4e7f3a" stroke-width="0.6"/>
<line x1="60.70" y1="234.60" x2="99.90" y2="234.60" stroke="#111" stroke-width="1.45" />
<line x1="70.60" y1="229.80" x2="90.00" y2="229.80" stroke="#1a1a1a" stroke-width="1.2" />
<line x1="70.60" y1="239.20" x2="90.00" y2="239.20" stroke="#1a1a1a" stroke-width="1.2" />
<line x1="80.30" y1="229.80" x2="80.30" y2="239.20" stroke="#1a1a1a" stroke-width="1.1" />
<rect x="136.25" y="282.25" width="5.1" height="5.1" fill="#2c4a8a" stroke="#1f3468" stroke-width="0.5"/>
<rect x="127.65" y="320.45" width="5.1" height="5.1" fill="#2c4a8a" stroke="#1f3468" stroke-width="0.5"/>
<rect x="145.65" y="319.65" width="5.1" height="5.1" fill="#2c4a8a" stroke="#1f3468" stroke-width="0.5"/>
<rect x="136.25" y="322.95" width="5.1" height="5.1" fill="#2c4a8a" stroke="#1f3468" stroke-width="0.5"/>
<rect x="141.05" y="332.25" width="5.1" height="5.1" fill="#2c4a8a" stroke="#1f3468" stroke-width="0.5"/>
<rect x="132.45" y="335.45" width="5.1" height="5.1" fill="#2c4a8a" stroke="#1f3468" stroke-width="0.5"/>
<line x1="119.50" y1="321.20" x2="158.70" y2="321.20" stroke="#111" stroke-width="1.45" />
<line x1="129.50" y1="313.50" x2="148.70" y2="313.50" stroke="#1a1a1a" stroke-width="1.2" />
<line x1="129.50" y1="329.00" x2="148.70" y2="329.00" stroke="#1a1a1a" stroke-width="1.2" />
<line x1="139.10" y1="313.50" x2="139.10" y2="329.00" stroke="#1a1a1a" stroke-width="1.1" />
<polygon points="195.00,240.45 201.20,240.45 198.10,234.55" fill="#931540" stroke="#7a0c28" stroke-width="0.3" stroke-linejoin="round"/>
<polygon points="195.00,272.05 201.20,272.05 198.10,266.15" fill="#931540" stroke="#7a0c28" stroke-width="0.3" stroke-linejoin="round"/>
<polygon points="208.50,275.85 214.70,275.85 211.60,269.95" fill="#931540" stroke="#7a0c28" stroke-width="0.3" stroke-linejoin="round"/>
<polygon points="181.70,279.95 187.90,279.95 184.80,274.05" fill="#931540" stroke="#7a0c28" stroke-width="0.3" stroke-linejoin="round"/>
<polygon points="190.10,282.15 196.30,282.15 193.20,276.25" fill="#931540" stroke="#7a0c28" stroke-width="0.3" stroke-linejoin="round"/>
<polygon points="199.70,280.45 205.90,280.45 202.80,274.55" fill="#931540" stroke="#7a0c28" stroke-width="0.3" stroke-linejoin="round"/>
<polygon points="190.10,293.45 196.30,293.45 193.20,287.55" fill="#931540" stroke="#7a0c28" stroke-width="0.3" stroke-linejoin="round"/>
<polygon points="199.70,299.45 205.90,299.45 202.80,293.55" fill="#931540" stroke="#7a0c28" stroke-width="0.3" stroke-linejoin="round"/>
<polygon points="195.00,313.75 201.20,313.75 198.10,307.85" fill="#931540" stroke="#7a0c28" stroke-width="0.3" stroke-linejoin="round"/>
<line x1="178.60" y1="279.00" x2="217.60" y2="279.00" stroke="#111" stroke-width="1.45" />
<line x1="188.50" y1="272.30" x2="207.70" y2="272.30" stroke="#1a1a1a" stroke-width="1.2" />
<line x1="188.50" y1="286.30" x2="207.70" y2="286.30" stroke="#1a1a1a" stroke-width="1.2" />
<line x1="198.10" y1="272.30" x2="198.10" y2="286.30" stroke="#1a1a1a" stroke-width="1.1" />
<text x="8.50" y="368.40" font-size="11.2" text-anchor="start" font-weight="bold" fill="#111" stroke="#111" stroke-width="0.35" >C</text>
<text x="139.25" y="376.50" font-size="9.8" text-anchor="middle" font-weight="normal" fill="#222" stroke="#222" stroke-width="0.18" >Donor CD4 cells</text>
<line x1="51.20" y1="384.40" x2="51.20" y2="506.50" stroke="#111" stroke-width="1.4" />
<line x1="48.40" y1="505.80" x2="51.20" y2="505.80" stroke="#111" stroke-width="1.1" />
<text x="43.80" y="508.50" font-size="7.6" text-anchor="end" fill="#333" stroke="#333" stroke-width="0.15">0</text>
<line x1="48.40" y1="476.20" x2="51.20" y2="476.20" stroke="#111" stroke-width="1.1" />
<text x="43.80" y="478.90" font-size="7.6" text-anchor="end" fill="#333" stroke="#333" stroke-width="0.15">10</text>
<line x1="48.40" y1="446.60" x2="51.20" y2="446.60" stroke="#111" stroke-width="1.1" />
<text x="43.80" y="449.30" font-size="7.6" text-anchor="end" fill="#333" stroke="#333" stroke-width="0.15">20</text>
<line x1="48.40" y1="417.00" x2="51.20" y2="417.00" stroke="#111" stroke-width="1.1" />
<text x="43.80" y="419.70" font-size="7.6" text-anchor="end" fill="#333" stroke="#333" stroke-width="0.15">30</text>
<line x1="48.40" y1="387.40" x2="51.20" y2="387.40" stroke="#111" stroke-width="1.1" />
<text x="43.80" y="390.10" font-size="7.6" text-anchor="end" fill="#333" stroke="#333" stroke-width="0.15">40</text>
<line x1="50.50" y1="505.80" x2="227.70" y2="505.80" stroke="#111" stroke-width="1.4" />
<line x1="80.40" y1="505.80" x2="80.40" y2="508.80" stroke="#111" stroke-width="1.1" />
<line x1="138.80" y1="505.80" x2="138.80" y2="508.80" stroke="#111" stroke-width="1.1" />
<line x1="197.70" y1="505.80" x2="197.70" y2="508.80" stroke="#111" stroke-width="1.1" />
<text x="28.20" y="471.05" font-size="7.6" text-anchor="start" textLength="50.5" lengthAdjust="spacingAndGlyphs" font-weight="normal" fill="#222" stroke="#222" stroke-width="0.3" transform="rotate(-90 28.20 471.05)">%PD-1<tspan font-size="4.6" dy="-2.8">hi</tspan><tspan dy="2.8">CXCR5</tspan><tspan font-size="4.6" dy="-2.8">+</tspan></text>
<text x="173.00" y="408.30" font-size="7.9" text-anchor="middle" font-weight="normal" fill="#333" stroke="#333" stroke-width="0.18" >p=0.026</text>
<circle cx="80.00" cy="467.30" r="2.65" fill="#6b9d52" stroke="#4e7f3a" stroke-width="0.6"/>
<circle cx="80.00" cy="477.00" r="2.65" fill="#6b9d52" stroke="#4e7f3a" stroke-width="0.6"/>
<circle cx="80.00" cy="488.00" r="2.65" fill="#6b9d52" stroke="#4e7f3a" stroke-width="0.6"/>
<line x1="60.60" y1="478.30" x2="99.40" y2="478.30" stroke="#111" stroke-width="1.45" />
<line x1="70.40" y1="472.20" x2="89.60" y2="472.20" stroke="#1a1a1a" stroke-width="1.2" />
<line x1="70.40" y1="483.70" x2="89.60" y2="483.70" stroke="#1a1a1a" stroke-width="1.2" />
<line x1="80.00" y1="472.20" x2="80.00" y2="483.70" stroke="#1a1a1a" stroke-width="1.1" />
<rect x="127.45" y="414.95" width="5.1" height="5.1" fill="#2c4a8a" stroke="#1f3468" stroke-width="0.5"/>
<rect x="136.20" y="421.20" width="5.1" height="5.1" fill="#2c4a8a" stroke="#1f3468" stroke-width="0.5"/>
<rect x="145.45" y="417.95" width="5.1" height="5.1" fill="#2c4a8a" stroke="#1f3468" stroke-width="0.5"/>
<rect x="127.45" y="435.45" width="5.1" height="5.1" fill="#2c4a8a" stroke="#1f3468" stroke-width="0.5"/>
<rect x="136.20" y="438.70" width="5.1" height="5.1" fill="#2c4a8a" stroke="#1f3468" stroke-width="0.5"/>
<rect x="145.45" y="435.45" width="5.1" height="5.1" fill="#2c4a8a" stroke="#1f3468" stroke-width="0.5"/>
<rect x="140.45" y="462.45" width="5.1" height="5.1" fill="#2c4a8a" stroke="#1f3468" stroke-width="0.5"/>
<rect x="132.45" y="468.20" width="5.1" height="5.1" fill="#2c4a8a" stroke="#1f3468" stroke-width="0.5"/>
<line x1="119.15" y1="439.50" x2="158.35" y2="439.50" stroke="#111" stroke-width="1.45" />
<line x1="129.15" y1="432.50" x2="148.35" y2="432.50" stroke="#1a1a1a" stroke-width="1.2" />
<line x1="129.15" y1="446.25" x2="148.35" y2="446.25" stroke="#1a1a1a" stroke-width="1.2" />
<line x1="138.75" y1="432.50" x2="138.75" y2="446.25" stroke="#1a1a1a" stroke-width="1.1" />
<polygon points="194.40,438.70 200.60,438.70 197.50,432.80" fill="#931540" stroke="#7a0c28" stroke-width="0.3" stroke-linejoin="round"/>
<polygon points="194.40,455.70 200.60,455.70 197.50,449.80" fill="#931540" stroke="#7a0c28" stroke-width="0.3" stroke-linejoin="round"/>
<polygon points="190.15,467.95 196.35,467.95 193.25,462.05" fill="#931540" stroke="#7a0c28" stroke-width="0.3" stroke-linejoin="round"/>
<polygon points="198.90,476.70 205.10,476.70 202.00,470.80" fill="#931540" stroke="#7a0c28" stroke-width="0.3" stroke-linejoin="round"/>
<polygon points="198.90,485.70 205.10,485.70 202.00,479.80" fill="#931540" stroke="#7a0c28" stroke-width="0.3" stroke-linejoin="round"/>
<polygon points="190.15,490.70 196.35,490.70 193.25,484.80" fill="#931540" stroke="#7a0c28" stroke-width="0.3" stroke-linejoin="round"/>
<line x1="178.40" y1="466.25" x2="217.60" y2="466.25" stroke="#111" stroke-width="1.45" />
<line x1="188.25" y1="458.75" x2="207.75" y2="458.75" stroke="#1a1a1a" stroke-width="1.2" />
<line x1="188.25" y1="474.50" x2="207.75" y2="474.50" stroke="#1a1a1a" stroke-width="1.2" />
<line x1="198.00" y1="458.75" x2="198.00" y2="474.50" stroke="#1a1a1a" stroke-width="1.1" />
<text x="82.50" y="518.50" font-size="8.7" text-anchor="end" fill="#222" stroke="#222" stroke-width="0.15" transform="rotate(-45 82.50 518.50)">BM Only</text>
<text x="142.50" y="518.50" font-size="8.7" text-anchor="end" fill="#222" stroke="#222" stroke-width="0.15" transform="rotate(-45 142.50 518.50)">WT BM+Sp</text>
<text x="201.00" y="518.50" font-size="8.7" text-anchor="end" fill="#222" stroke="#222" stroke-width="0.15" transform="rotate(-45 201.00 518.50)">KO BM+Sp</text>
<text x="263.70" y="220.30" font-size="11.2" text-anchor="start" font-weight="bold" fill="#111" stroke="#111" stroke-width="0.35" >E</text>
<line x1="305.30" y1="220.90" x2="305.30" y2="342.50" stroke="#111" stroke-width="1.4" />
<line x1="302.50" y1="341.80" x2="305.30" y2="341.80" stroke="#111" stroke-width="1.1" />
<text x="297.90" y="344.50" font-size="7.6" text-anchor="end" fill="#333" stroke="#333" stroke-width="0.15">0</text>
<line x1="302.50" y1="312.32" x2="305.30" y2="312.32" stroke="#111" stroke-width="1.1" />
<text x="297.90" y="315.02" font-size="7.6" text-anchor="end" fill="#333" stroke="#333" stroke-width="0.15">10</text>
<line x1="302.50" y1="282.85" x2="305.30" y2="282.85" stroke="#111" stroke-width="1.1" />
<text x="297.90" y="285.55" font-size="7.6" text-anchor="end" fill="#333" stroke="#333" stroke-width="0.15">20</text>
<line x1="302.50" y1="253.38" x2="305.30" y2="253.38" stroke="#111" stroke-width="1.1" />
<text x="297.90" y="256.07" font-size="7.6" text-anchor="end" fill="#333" stroke="#333" stroke-width="0.15">30</text>
<line x1="302.50" y1="223.90" x2="305.30" y2="223.90" stroke="#111" stroke-width="1.1" />
<text x="297.90" y="226.60" font-size="7.6" text-anchor="end" fill="#333" stroke="#333" stroke-width="0.15">40</text>
<line x1="304.60" y1="341.80" x2="482.00" y2="341.80" stroke="#111" stroke-width="1.4" />
<line x1="334.30" y1="341.80" x2="334.30" y2="344.80" stroke="#111" stroke-width="1.1" />
<line x1="393.30" y1="341.80" x2="393.30" y2="344.80" stroke="#111" stroke-width="1.1" />
<line x1="452.30" y1="341.80" x2="452.30" y2="344.80" stroke="#111" stroke-width="1.1" />
<text x="283.00" y="294.45" font-size="7.6" text-anchor="start" textLength="25.5" lengthAdjust="spacingAndGlyphs" font-weight="normal" fill="#222" stroke="#222" stroke-width="0.3" transform="rotate(-90 283.00 294.45)">%B220<tspan font-size="4.6" dy="-2.8">+</tspan></text>
<text x="416.30" y="281.50" font-size="8.1" text-anchor="middle" font-weight="normal" fill="#333" stroke="#333" stroke-width="0.18" >p=0.0006</text>
<circle cx="334.30" cy="256.60" r="2.05" fill="#6b9d52" stroke="#4e7f3a" stroke-width="0.6"/>
<circle cx="334.30" cy="280.00" r="2.05" fill="#6b9d52" stroke="#4e7f3a" stroke-width="0.6"/>
<circle cx="334.30" cy="297.70" r="2.05" fill="#6b9d52" stroke="#4e7f3a" stroke-width="0.6"/>
<line x1="314.90" y1="278.00" x2="353.70" y2="278.00" stroke="#111" stroke-width="1.45" />
<line x1="324.80" y1="266.20" x2="343.80" y2="266.20" stroke="#1a1a1a" stroke-width="1.2" />
<line x1="324.80" y1="290.60" x2="343.80" y2="290.60" stroke="#1a1a1a" stroke-width="1.2" />
<line x1="334.30" y1="266.20" x2="334.30" y2="290.60" stroke="#1a1a1a" stroke-width="1.1" />
<line x1="373.70" y1="335.80" x2="412.90" y2="335.80" stroke="#111" stroke-width="1.5" />
<rect x="377.15" y="331.25" width="4.5" height="4.5" fill="#283f7a" stroke="#1f3468" stroke-width="0.5"/>
<rect x="383.55" y="333.55" width="4.5" height="4.5" fill="#283f7a" stroke="#1f3468" stroke-width="0.5"/>
<rect x="391.05" y="328.85" width="4.5" height="4.5" fill="#283f7a" stroke="#1f3468" stroke-width="0.5"/>
<rect x="391.05" y="336.35" width="4.5" height="4.5" fill="#283f7a" stroke="#1f3468" stroke-width="0.5"/>
<rect x="397.35" y="333.55" width="4.5" height="4.5" fill="#283f7a" stroke="#1f3468" stroke-width="0.5"/>
<rect x="398.55" y="336.35" width="4.5" height="4.5" fill="#283f7a" stroke="#1f3468" stroke-width="0.5"/>
<rect x="405.45" y="331.75" width="4.5" height="4.5" fill="#283f7a" stroke="#1f3468" stroke-width="0.5"/>
<line x1="373.70" y1="335.80" x2="412.90" y2="335.80" stroke="#111" stroke-width="1.2" stroke-opacity="0.7"/>
<polygon points="449.54,291.54 454.46,291.54 452.00,286.86" fill="#931540" stroke="#7a0c28" stroke-width="0.3" stroke-linejoin="round"/>
<polygon points="446.04,303.04 450.96,303.04 448.50,298.36" fill="#931540" stroke="#7a0c28" stroke-width="0.3" stroke-linejoin="round"/>
<polygon points="457.04,305.34 461.96,305.34 459.50,300.66" fill="#931540" stroke="#7a0c28" stroke-width="0.3" stroke-linejoin="round"/>
<polygon points="453.24,308.84 458.16,308.84 455.70,304.16" fill="#931540" stroke="#7a0c28" stroke-width="0.3" stroke-linejoin="round"/>
<polygon points="442.14,315.34 447.06,315.34 444.60,310.66" fill="#931540" stroke="#7a0c28" stroke-width="0.3" stroke-linejoin="round"/>
<polygon points="446.04,317.64 450.96,317.64 448.50,312.96" fill="#931540" stroke="#7a0c28" stroke-width="0.3" stroke-linejoin="round"/>
<polygon points="453.24,323.34 458.16,323.34 455.70,318.66" fill="#931540" stroke="#7a0c28" stroke-width="0.3" stroke-linejoin="round"/>
<polygon points="449.54,334.64 454.46,334.64 452.00,329.96" fill="#931540" stroke="#7a0c28" stroke-width="0.3" stroke-linejoin="round"/>
<line x1="432.60" y1="310.30" x2="472.00" y2="310.30" stroke="#111" stroke-width="1.45" />
<line x1="442.80" y1="305.70" x2="461.80" y2="305.70" stroke="#1a1a1a" stroke-width="1.2" />
<line x1="442.80" y1="315.40" x2="461.80" y2="315.40" stroke="#1a1a1a" stroke-width="1.2" />
<line x1="452.30" y1="305.70" x2="452.30" y2="315.40" stroke="#1a1a1a" stroke-width="1.1" />
<text x="263.90" y="368.40" font-size="11.2" text-anchor="start" font-weight="bold" fill="#111" stroke="#111" stroke-width="0.35" >F</text>
<text x="397.15" y="376.50" font-size="9.8" text-anchor="middle" font-weight="normal" fill="#222" stroke="#222" stroke-width="0.18" >Total B cells</text>
<line x1="304.60" y1="385.00" x2="304.60" y2="506.50" stroke="#111" stroke-width="1.4" />
<line x1="301.80" y1="505.80" x2="304.60" y2="505.80" stroke="#111" stroke-width="1.1" />
<text x="297.20" y="508.50" font-size="7.6" text-anchor="end" fill="#333" stroke="#333" stroke-width="0.15">0</text>
<line x1="301.80" y1="476.35" x2="304.60" y2="476.35" stroke="#111" stroke-width="1.1" />
<text x="297.20" y="479.05" font-size="7.6" text-anchor="end" fill="#333" stroke="#333" stroke-width="0.15">20</text>
<line x1="301.80" y1="446.90" x2="304.60" y2="446.90" stroke="#111" stroke-width="1.1" />
<text x="297.20" y="449.60" font-size="7.6" text-anchor="end" fill="#333" stroke="#333" stroke-width="0.15">40</text>
<line x1="301.80" y1="417.45" x2="304.60" y2="417.45" stroke="#111" stroke-width="1.1" />
<text x="297.20" y="420.15" font-size="7.6" text-anchor="end" fill="#333" stroke="#333" stroke-width="0.15">60</text>
<line x1="301.80" y1="388.00" x2="304.60" y2="388.00" stroke="#111" stroke-width="1.1" />
<text x="297.20" y="390.70" font-size="7.6" text-anchor="end" fill="#333" stroke="#333" stroke-width="0.15">80</text>
<line x1="303.90" y1="505.80" x2="482.30" y2="505.80" stroke="#111" stroke-width="1.4" />
<line x1="335.00" y1="505.80" x2="335.00" y2="508.80" stroke="#111" stroke-width="1.1" />
<line x1="393.00" y1="505.80" x2="393.00" y2="508.80" stroke="#111" stroke-width="1.1" />
<line x1="451.50" y1="505.80" x2="451.50" y2="508.80" stroke="#111" stroke-width="1.1" />
<text x="283.50" y="472.10" font-size="7.6" text-anchor="start" textLength="51" lengthAdjust="spacingAndGlyphs" font-weight="normal" fill="#222" stroke="#222" stroke-width="0.3" transform="rotate(-90 283.50 472.10)">Annexin V<tspan font-size="4.6" dy="-2.8">+</tspan><tspan dy="2.8">7AAD</tspan><tspan font-size="4.6" dy="-2.8">+</tspan></text>
<text x="427.80" y="397.70" font-size="8.0" text-anchor="middle" font-weight="normal" fill="#333" stroke="#333" stroke-width="0.18" >p=0.0097</text>
<circle cx="325.50" cy="465.80" r="2.65" fill="#6b9d52" stroke="#4e7f3a" stroke-width="0.6"/>
<circle cx="334.10" cy="468.70" r="2.65" fill="#6b9d52" stroke="#4e7f3a" stroke-width="0.6"/>
<circle cx="342.80" cy="465.80" r="2.65" fill="#6b9d52" stroke="#4e7f3a" stroke-width="0.6"/>
<line x1="314.60" y1="467.00" x2="354.30" y2="467.00" stroke="#111" stroke-width="1.5" />
<rect x="390.70" y="401.95" width="5.1" height="5.1" fill="#2c4a8a" stroke="#1f3468" stroke-width="0.5"/>
<rect x="390.70" y="412.45" width="5.1" height="5.1" fill="#2c4a8a" stroke="#1f3468" stroke-width="0.5"/>
<rect x="395.45" y="419.20" width="5.1" height="5.1" fill="#2c4a8a" stroke="#1f3468" stroke-width="0.5"/>
<rect x="381.95" y="424.20" width="5.1" height="5.1" fill="#2c4a8a" stroke="#1f3468" stroke-width="0.5"/>
<rect x="386.95" y="430.45" width="5.1" height="5.1" fill="#2c4a8a" stroke="#1f3468" stroke-width="0.5"/>
<rect x="395.45" y="437.45" width="5.1" height="5.1" fill="#2c4a8a" stroke="#1f3468" stroke-width="0.5"/>
<rect x="386.20" y="448.70" width="5.1" height="5.1" fill="#2c4a8a" stroke="#1f3468" stroke-width="0.5"/>
<rect x="395.45" y="447.45" width="5.1" height="5.1" fill="#2c4a8a" stroke="#1f3468" stroke-width="0.5"/>
<line x1="373.65" y1="430.00" x2="412.85" y2="430.00" stroke="#111" stroke-width="1.45" />
<line x1="383.65" y1="424.50" x2="402.85" y2="424.50" stroke="#1a1a1a" stroke-width="1.2" />
<line x1="383.65" y1="436.25" x2="402.85" y2="436.25" stroke="#1a1a1a" stroke-width="1.2" />
<line x1="393.25" y1="424.50" x2="393.25" y2="436.25" stroke="#1a1a1a" stroke-width="1.1" />
<polygon points="449.40,441.20 455.60,441.20 452.50,435.30" fill="#931540" stroke="#7a0c28" stroke-width="0.3" stroke-linejoin="round"/>
<polygon points="444.40,446.95 450.60,446.95 447.50,441.05" fill="#931540" stroke="#7a0c28" stroke-width="0.3" stroke-linejoin="round"/>
<polygon points="458.15,451.20 464.35,451.20 461.25,445.30" fill="#931540" stroke="#7a0c28" stroke-width="0.3" stroke-linejoin="round"/>
<polygon points="435.65,457.95 441.85,457.95 438.75,452.05" fill="#931540" stroke="#7a0c28" stroke-width="0.3" stroke-linejoin="round"/>
<polygon points="462.65,457.95 468.85,457.95 465.75,452.05" fill="#931540" stroke="#7a0c28" stroke-width="0.3" stroke-linejoin="round"/>
<polygon points="444.40,461.95 450.60,461.95 447.50,456.05" fill="#931540" stroke="#7a0c28" stroke-width="0.3" stroke-linejoin="round"/>
<polygon points="453.65,460.45 459.85,460.45 456.75,454.55" fill="#931540" stroke="#7a0c28" stroke-width="0.3" stroke-linejoin="round"/>
<line x1="432.90" y1="450.50" x2="472.10" y2="450.50" stroke="#111" stroke-width="1.45" />
<line x1="442.90" y1="448.25" x2="462.10" y2="448.25" stroke="#1a1a1a" stroke-width="1.2" />
<line x1="442.90" y1="453.75" x2="462.10" y2="453.75" stroke="#1a1a1a" stroke-width="1.2" />
<line x1="452.50" y1="448.25" x2="452.50" y2="453.75" stroke="#1a1a1a" stroke-width="1.1" />
<text x="337.50" y="518.50" font-size="8.7" text-anchor="end" fill="#222" stroke="#222" stroke-width="0.15" transform="rotate(-45 337.50 518.50)">BM Only</text>
<text x="396.50" y="518.50" font-size="8.7" text-anchor="end" fill="#222" stroke="#222" stroke-width="0.15" transform="rotate(-45 396.50 518.50)">WT BM+Sp</text>
<text x="455.00" y="518.50" font-size="8.7" text-anchor="end" fill="#222" stroke="#222" stroke-width="0.15" transform="rotate(-45 455.00 518.50)">KO BM+Sp</text>
<rect x="0" y="0" width="520" height="1.6" fill="#000"/>
<rect x="0" y="0" width="1.6" height="556" fill="#000"/>
<rect x="518.2" y="0" width="1.8" height="556" fill="#000"/>
<rect x="0" y="554.2" width="520" height="1.8" fill="#000"/>
</svg>
</body></html>
